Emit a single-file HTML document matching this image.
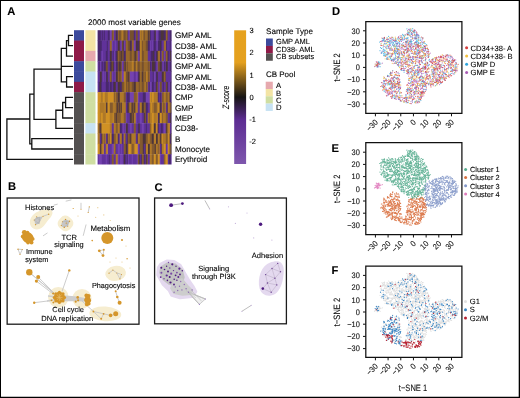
<!DOCTYPE html>
<html><head><meta charset="utf-8"><title>Figure</title>
<style>html,body{margin:0;padding:0;background:#fff;}body{width:520px;height:398px;overflow:hidden;font-family:"Liberation Sans", sans-serif;}svg{display:block;will-change:transform;}</style>
</head><body>
<svg width="520" height="398" viewBox="0 0 520 398" font-family='"Liberation Sans", sans-serif' text-rendering="geometricPrecision"><style>text{stroke:#000;stroke-width:0.1px;}</style><g font-weight="bold" fill="#000" font-size="11.2">
<text x="7.3" y="15">A</text>
<text x="7.9" y="189.6">B</text>
<text x="154.6" y="190.8">C</text>
<text x="331.9" y="15.2">D</text>
<text x="331.6" y="152.4">E</text>
<text x="331.6" y="273.8">F</text>
</g>
<text x="88.1" y="25.4" font-size="8.1" text-anchor="start" fill="#000" >2000 most variable genes</text>
<path d="M68.5 35.365L72.4 35.365M68.5 45.695L72.4 45.695M68.5 35.365L68.5 45.695M66.5 40.53L68.5 40.53M66.5 56.025L72.4 56.025M66.5 40.53L66.5 56.025M61.3 48.2775L66.5 48.2775M66.6 76.685L72.4 76.685M66.6 87.015L72.4 87.015M66.6 76.685L66.6 87.015M61.3 81.85L66.6 81.85M61.3 66.355L72.4 66.355M61.3 48.2775L61.3 81.85M34 69.1L61.3 69.1M65.6 97.345L72.4 97.345M65.6 107.675L72.4 107.675M65.6 97.345L65.6 107.675M62.7 102.50999999999999L65.6 102.50999999999999M62.7 118.00500000000001L72.4 118.00500000000001M62.7 102.50999999999999L62.7 118.00500000000001M55.9 110.2575L62.7 110.2575M55.9 128.335L72.4 128.335M55.9 110.2575L55.9 128.335M34 119.29625L55.9 119.29625M34 69.1L34 119.29625M29.8 94.198125L34 94.198125M31.8 138.665L72.4 138.665M31.8 148.995L72.4 148.995M31.8 138.665L31.8 148.995M29.8 143.82999999999998L31.8 143.82999999999998M29.8 94.198125L29.8 143.82999999999998M6.9 119.0140625L29.8 119.0140625M6.9 159.325L72.4 159.325M6.9 119.0140625L6.9 159.325" stroke="#111" stroke-width="1.3" fill="none" stroke-linecap="square"/>
<rect x="74" y="30.20" width="10" height="10.73" fill="#3c4a9c"/>
<rect x="85.4" y="30.20" width="10.1" height="10.73" fill="#f3e4a5"/>
<rect x="74" y="40.53" width="10" height="10.73" fill="#8e1a47"/>
<rect x="85.4" y="40.53" width="10.1" height="10.73" fill="#f3e4a5"/>
<rect x="74" y="50.86" width="10" height="10.73" fill="#8e1a47"/>
<rect x="85.4" y="50.86" width="10.1" height="10.73" fill="#e6a9ae"/>
<rect x="74" y="61.19" width="10" height="10.73" fill="#3c4a9c"/>
<rect x="85.4" y="61.19" width="10.1" height="10.73" fill="#cfdea2"/>
<rect x="74" y="71.52" width="10" height="10.73" fill="#3c4a9c"/>
<rect x="85.4" y="71.52" width="10.1" height="10.73" fill="#c7e2f3"/>
<rect x="74" y="81.85" width="10" height="10.73" fill="#8e1a47"/>
<rect x="85.4" y="81.85" width="10.1" height="10.73" fill="#c7e2f3"/>
<rect x="74" y="92.18" width="10" height="10.73" fill="#545151"/>
<rect x="85.4" y="92.18" width="10.1" height="10.73" fill="#cfdea2"/>
<rect x="74" y="102.51" width="10" height="10.73" fill="#545151"/>
<rect x="85.4" y="102.51" width="10.1" height="10.73" fill="#cfdea2"/>
<rect x="74" y="112.84" width="10" height="10.73" fill="#545151"/>
<rect x="85.4" y="112.84" width="10.1" height="10.73" fill="#cfdea2"/>
<rect x="74" y="123.17" width="10" height="10.73" fill="#545151"/>
<rect x="85.4" y="123.17" width="10.1" height="10.73" fill="#c7e2f3"/>
<rect x="74" y="133.50" width="10" height="10.73" fill="#545151"/>
<rect x="85.4" y="133.50" width="10.1" height="10.73" fill="#cfdea2"/>
<rect x="74" y="143.83" width="10" height="10.73" fill="#545151"/>
<rect x="85.4" y="143.83" width="10.1" height="10.73" fill="#cfdea2"/>
<rect x="74" y="154.16" width="10" height="10.33" fill="#545151"/>
<rect x="85.4" y="154.16" width="10.1" height="10.33" fill="#cfdea2"/>
<defs><linearGradient id="hr0" x1="0" x2="1" y1="0" y2="0"><stop offset="0.0024" stop-color="#48286c"/><stop offset="0.0111" stop-color="#48286c"/><stop offset="0.0159" stop-color="#48286c"/><stop offset="0.0246" stop-color="#48286c"/><stop offset="0.0295" stop-color="#48286c"/><stop offset="0.0381" stop-color="#48286c"/><stop offset="0.0430" stop-color="#60329a"/><stop offset="0.0516" stop-color="#60329a"/><stop offset="0.0565" stop-color="#48286c"/><stop offset="0.0651" stop-color="#48286c"/><stop offset="0.0700" stop-color="#60329a"/><stop offset="0.0786" stop-color="#60329a"/><stop offset="0.0835" stop-color="#48286c"/><stop offset="0.0922" stop-color="#48286c"/><stop offset="0.0970" stop-color="#60329a"/><stop offset="0.1057" stop-color="#60329a"/><stop offset="0.1105" stop-color="#60329a"/><stop offset="0.1192" stop-color="#60329a"/><stop offset="0.1241" stop-color="#60329a"/><stop offset="0.1327" stop-color="#60329a"/><stop offset="0.1376" stop-color="#48286c"/><stop offset="0.1462" stop-color="#48286c"/><stop offset="0.1511" stop-color="#48286c"/><stop offset="0.1597" stop-color="#48286c"/><stop offset="0.1646" stop-color="#7442b0"/><stop offset="0.1732" stop-color="#7442b0"/><stop offset="0.1781" stop-color="#7442b0"/><stop offset="0.1868" stop-color="#7442b0"/><stop offset="0.1916" stop-color="#76502e"/><stop offset="0.2003" stop-color="#76502e"/><stop offset="0.2051" stop-color="#98682a"/><stop offset="0.2138" stop-color="#98682a"/><stop offset="0.2186" stop-color="#60329a"/><stop offset="0.2273" stop-color="#60329a"/><stop offset="0.2322" stop-color="#60329a"/><stop offset="0.2408" stop-color="#60329a"/><stop offset="0.2457" stop-color="#4c343a"/><stop offset="0.2543" stop-color="#4c343a"/><stop offset="0.2592" stop-color="#48286c"/><stop offset="0.2678" stop-color="#48286c"/><stop offset="0.2727" stop-color="#98682a"/><stop offset="0.2814" stop-color="#98682a"/><stop offset="0.2862" stop-color="#76502e"/><stop offset="0.2949" stop-color="#76502e"/><stop offset="0.2997" stop-color="#76502e"/><stop offset="0.3084" stop-color="#76502e"/><stop offset="0.3132" stop-color="#98682a"/><stop offset="0.3219" stop-color="#98682a"/><stop offset="0.3268" stop-color="#b87f26"/><stop offset="0.3354" stop-color="#b87f26"/><stop offset="0.3403" stop-color="#98682a"/><stop offset="0.3489" stop-color="#98682a"/><stop offset="0.3538" stop-color="#76502e"/><stop offset="0.3624" stop-color="#76502e"/><stop offset="0.3673" stop-color="#76502e"/><stop offset="0.3759" stop-color="#76502e"/><stop offset="0.3808" stop-color="#98682a"/><stop offset="0.3895" stop-color="#98682a"/><stop offset="0.3943" stop-color="#76502e"/><stop offset="0.4030" stop-color="#76502e"/><stop offset="0.4078" stop-color="#60329a"/><stop offset="0.4165" stop-color="#60329a"/><stop offset="0.4214" stop-color="#7442b0"/><stop offset="0.4300" stop-color="#7442b0"/><stop offset="0.4349" stop-color="#76502e"/><stop offset="0.4435" stop-color="#76502e"/><stop offset="0.4484" stop-color="#76502e"/><stop offset="0.4570" stop-color="#76502e"/><stop offset="0.4619" stop-color="#76502e"/><stop offset="0.4705" stop-color="#76502e"/><stop offset="0.4754" stop-color="#76502e"/><stop offset="0.4841" stop-color="#76502e"/><stop offset="0.4889" stop-color="#48286c"/><stop offset="0.4976" stop-color="#48286c"/><stop offset="0.5024" stop-color="#60329a"/><stop offset="0.5111" stop-color="#60329a"/><stop offset="0.5159" stop-color="#76502e"/><stop offset="0.5246" stop-color="#76502e"/><stop offset="0.5295" stop-color="#76502e"/><stop offset="0.5381" stop-color="#76502e"/><stop offset="0.5430" stop-color="#60329a"/><stop offset="0.5516" stop-color="#60329a"/><stop offset="0.5565" stop-color="#60329a"/><stop offset="0.5651" stop-color="#60329a"/><stop offset="0.5700" stop-color="#b87f26"/><stop offset="0.5786" stop-color="#b87f26"/><stop offset="0.5835" stop-color="#98682a"/><stop offset="0.5922" stop-color="#98682a"/><stop offset="0.5970" stop-color="#b87f26"/><stop offset="0.6057" stop-color="#b87f26"/><stop offset="0.6105" stop-color="#98682a"/><stop offset="0.6192" stop-color="#98682a"/><stop offset="0.6241" stop-color="#76502e"/><stop offset="0.6327" stop-color="#76502e"/><stop offset="0.6376" stop-color="#98682a"/><stop offset="0.6462" stop-color="#98682a"/><stop offset="0.6511" stop-color="#98682a"/><stop offset="0.6597" stop-color="#98682a"/><stop offset="0.6646" stop-color="#98682a"/><stop offset="0.6732" stop-color="#98682a"/><stop offset="0.6781" stop-color="#4c343a"/><stop offset="0.6868" stop-color="#4c343a"/><stop offset="0.6916" stop-color="#76502e"/><stop offset="0.7003" stop-color="#76502e"/><stop offset="0.7051" stop-color="#48286c"/><stop offset="0.7138" stop-color="#48286c"/><stop offset="0.7186" stop-color="#60329a"/><stop offset="0.7273" stop-color="#60329a"/><stop offset="0.7322" stop-color="#60329a"/><stop offset="0.7408" stop-color="#60329a"/><stop offset="0.7457" stop-color="#60329a"/><stop offset="0.7543" stop-color="#60329a"/><stop offset="0.7592" stop-color="#48286c"/><stop offset="0.7678" stop-color="#48286c"/><stop offset="0.7727" stop-color="#4c343a"/><stop offset="0.7814" stop-color="#4c343a"/><stop offset="0.7862" stop-color="#7442b0"/><stop offset="0.7949" stop-color="#7442b0"/><stop offset="0.7997" stop-color="#7442b0"/><stop offset="0.8084" stop-color="#7442b0"/><stop offset="0.8132" stop-color="#60329a"/><stop offset="0.8219" stop-color="#60329a"/><stop offset="0.8268" stop-color="#48286c"/><stop offset="0.8354" stop-color="#48286c"/><stop offset="0.8403" stop-color="#48286c"/><stop offset="0.8489" stop-color="#48286c"/><stop offset="0.8538" stop-color="#4c343a"/><stop offset="0.8624" stop-color="#4c343a"/><stop offset="0.8673" stop-color="#4c343a"/><stop offset="0.8759" stop-color="#4c343a"/><stop offset="0.8808" stop-color="#4c343a"/><stop offset="0.8895" stop-color="#4c343a"/><stop offset="0.8943" stop-color="#48286c"/><stop offset="0.9030" stop-color="#48286c"/><stop offset="0.9078" stop-color="#48286c"/><stop offset="0.9165" stop-color="#48286c"/><stop offset="0.9214" stop-color="#98682a"/><stop offset="0.9300" stop-color="#98682a"/><stop offset="0.9349" stop-color="#76502e"/><stop offset="0.9435" stop-color="#76502e"/><stop offset="0.9484" stop-color="#60329a"/><stop offset="0.9570" stop-color="#60329a"/><stop offset="0.9619" stop-color="#60329a"/><stop offset="0.9705" stop-color="#60329a"/><stop offset="0.9754" stop-color="#48286c"/><stop offset="0.9841" stop-color="#48286c"/><stop offset="0.9889" stop-color="#48286c"/><stop offset="0.9976" stop-color="#48286c"/></linearGradient><linearGradient id="hr1" x1="0" x2="1" y1="0" y2="0"><stop offset="0.0024" stop-color="#48286c"/><stop offset="0.0111" stop-color="#48286c"/><stop offset="0.0159" stop-color="#48286c"/><stop offset="0.0246" stop-color="#48286c"/><stop offset="0.0295" stop-color="#48286c"/><stop offset="0.0381" stop-color="#48286c"/><stop offset="0.0430" stop-color="#48286c"/><stop offset="0.0516" stop-color="#48286c"/><stop offset="0.0565" stop-color="#60329a"/><stop offset="0.0651" stop-color="#60329a"/><stop offset="0.0700" stop-color="#60329a"/><stop offset="0.0786" stop-color="#60329a"/><stop offset="0.0835" stop-color="#60329a"/><stop offset="0.0922" stop-color="#60329a"/><stop offset="0.0970" stop-color="#60329a"/><stop offset="0.1057" stop-color="#60329a"/><stop offset="0.1105" stop-color="#60329a"/><stop offset="0.1192" stop-color="#60329a"/><stop offset="0.1241" stop-color="#48286c"/><stop offset="0.1327" stop-color="#48286c"/><stop offset="0.1376" stop-color="#60329a"/><stop offset="0.1462" stop-color="#60329a"/><stop offset="0.1511" stop-color="#60329a"/><stop offset="0.1597" stop-color="#60329a"/><stop offset="0.1646" stop-color="#98682a"/><stop offset="0.1732" stop-color="#98682a"/><stop offset="0.1781" stop-color="#98682a"/><stop offset="0.1868" stop-color="#98682a"/><stop offset="0.1916" stop-color="#7442b0"/><stop offset="0.2003" stop-color="#7442b0"/><stop offset="0.2051" stop-color="#60329a"/><stop offset="0.2138" stop-color="#60329a"/><stop offset="0.2186" stop-color="#60329a"/><stop offset="0.2273" stop-color="#60329a"/><stop offset="0.2322" stop-color="#7442b0"/><stop offset="0.2408" stop-color="#7442b0"/><stop offset="0.2457" stop-color="#60329a"/><stop offset="0.2543" stop-color="#60329a"/><stop offset="0.2592" stop-color="#60329a"/><stop offset="0.2678" stop-color="#60329a"/><stop offset="0.2727" stop-color="#4c343a"/><stop offset="0.2814" stop-color="#4c343a"/><stop offset="0.2862" stop-color="#4c343a"/><stop offset="0.2949" stop-color="#4c343a"/><stop offset="0.2997" stop-color="#60329a"/><stop offset="0.3084" stop-color="#60329a"/><stop offset="0.3132" stop-color="#7442b0"/><stop offset="0.3219" stop-color="#7442b0"/><stop offset="0.3268" stop-color="#76502e"/><stop offset="0.3354" stop-color="#76502e"/><stop offset="0.3403" stop-color="#4c343a"/><stop offset="0.3489" stop-color="#4c343a"/><stop offset="0.3538" stop-color="#7442b0"/><stop offset="0.3624" stop-color="#7442b0"/><stop offset="0.3673" stop-color="#60329a"/><stop offset="0.3759" stop-color="#60329a"/><stop offset="0.3808" stop-color="#98682a"/><stop offset="0.3895" stop-color="#98682a"/><stop offset="0.3943" stop-color="#98682a"/><stop offset="0.4030" stop-color="#98682a"/><stop offset="0.4078" stop-color="#76502e"/><stop offset="0.4165" stop-color="#76502e"/><stop offset="0.4214" stop-color="#76502e"/><stop offset="0.4300" stop-color="#76502e"/><stop offset="0.4349" stop-color="#4c343a"/><stop offset="0.4435" stop-color="#4c343a"/><stop offset="0.4484" stop-color="#48286c"/><stop offset="0.4570" stop-color="#48286c"/><stop offset="0.4619" stop-color="#98682a"/><stop offset="0.4705" stop-color="#98682a"/><stop offset="0.4754" stop-color="#98682a"/><stop offset="0.4841" stop-color="#98682a"/><stop offset="0.4889" stop-color="#7442b0"/><stop offset="0.4976" stop-color="#7442b0"/><stop offset="0.5024" stop-color="#7442b0"/><stop offset="0.5111" stop-color="#7442b0"/><stop offset="0.5159" stop-color="#4c343a"/><stop offset="0.5246" stop-color="#4c343a"/><stop offset="0.5295" stop-color="#4c343a"/><stop offset="0.5381" stop-color="#4c343a"/><stop offset="0.5430" stop-color="#48286c"/><stop offset="0.5516" stop-color="#48286c"/><stop offset="0.5565" stop-color="#4c343a"/><stop offset="0.5651" stop-color="#4c343a"/><stop offset="0.5700" stop-color="#b87f26"/><stop offset="0.5786" stop-color="#b87f26"/><stop offset="0.5835" stop-color="#b87f26"/><stop offset="0.5922" stop-color="#b87f26"/><stop offset="0.5970" stop-color="#76502e"/><stop offset="0.6057" stop-color="#76502e"/><stop offset="0.6105" stop-color="#98682a"/><stop offset="0.6192" stop-color="#98682a"/><stop offset="0.6241" stop-color="#98682a"/><stop offset="0.6327" stop-color="#98682a"/><stop offset="0.6376" stop-color="#98682a"/><stop offset="0.6462" stop-color="#98682a"/><stop offset="0.6511" stop-color="#76502e"/><stop offset="0.6597" stop-color="#76502e"/><stop offset="0.6646" stop-color="#76502e"/><stop offset="0.6732" stop-color="#76502e"/><stop offset="0.6781" stop-color="#48286c"/><stop offset="0.6868" stop-color="#48286c"/><stop offset="0.6916" stop-color="#48286c"/><stop offset="0.7003" stop-color="#48286c"/><stop offset="0.7051" stop-color="#7442b0"/><stop offset="0.7138" stop-color="#7442b0"/><stop offset="0.7186" stop-color="#60329a"/><stop offset="0.7273" stop-color="#60329a"/><stop offset="0.7322" stop-color="#7442b0"/><stop offset="0.7408" stop-color="#7442b0"/><stop offset="0.7457" stop-color="#60329a"/><stop offset="0.7543" stop-color="#60329a"/><stop offset="0.7592" stop-color="#48286c"/><stop offset="0.7678" stop-color="#48286c"/><stop offset="0.7727" stop-color="#48286c"/><stop offset="0.7814" stop-color="#48286c"/><stop offset="0.7862" stop-color="#60329a"/><stop offset="0.7949" stop-color="#60329a"/><stop offset="0.7997" stop-color="#7442b0"/><stop offset="0.8084" stop-color="#7442b0"/><stop offset="0.8132" stop-color="#48286c"/><stop offset="0.8219" stop-color="#48286c"/><stop offset="0.8268" stop-color="#48286c"/><stop offset="0.8354" stop-color="#48286c"/><stop offset="0.8403" stop-color="#4c343a"/><stop offset="0.8489" stop-color="#4c343a"/><stop offset="0.8538" stop-color="#48286c"/><stop offset="0.8624" stop-color="#48286c"/><stop offset="0.8673" stop-color="#60329a"/><stop offset="0.8759" stop-color="#60329a"/><stop offset="0.8808" stop-color="#60329a"/><stop offset="0.8895" stop-color="#60329a"/><stop offset="0.8943" stop-color="#98682a"/><stop offset="0.9030" stop-color="#98682a"/><stop offset="0.9078" stop-color="#b87f26"/><stop offset="0.9165" stop-color="#b87f26"/><stop offset="0.9214" stop-color="#48286c"/><stop offset="0.9300" stop-color="#48286c"/><stop offset="0.9349" stop-color="#60329a"/><stop offset="0.9435" stop-color="#60329a"/><stop offset="0.9484" stop-color="#60329a"/><stop offset="0.9570" stop-color="#60329a"/><stop offset="0.9619" stop-color="#60329a"/><stop offset="0.9705" stop-color="#60329a"/><stop offset="0.9754" stop-color="#48286c"/><stop offset="0.9841" stop-color="#48286c"/><stop offset="0.9889" stop-color="#60329a"/><stop offset="0.9976" stop-color="#60329a"/></linearGradient><linearGradient id="hr2" x1="0" x2="1" y1="0" y2="0"><stop offset="0.0024" stop-color="#48286c"/><stop offset="0.0111" stop-color="#48286c"/><stop offset="0.0159" stop-color="#48286c"/><stop offset="0.0246" stop-color="#48286c"/><stop offset="0.0295" stop-color="#48286c"/><stop offset="0.0381" stop-color="#48286c"/><stop offset="0.0430" stop-color="#60329a"/><stop offset="0.0516" stop-color="#60329a"/><stop offset="0.0565" stop-color="#7442b0"/><stop offset="0.0651" stop-color="#7442b0"/><stop offset="0.0700" stop-color="#60329a"/><stop offset="0.0786" stop-color="#60329a"/><stop offset="0.0835" stop-color="#60329a"/><stop offset="0.0922" stop-color="#60329a"/><stop offset="0.0970" stop-color="#60329a"/><stop offset="0.1057" stop-color="#60329a"/><stop offset="0.1105" stop-color="#48286c"/><stop offset="0.1192" stop-color="#48286c"/><stop offset="0.1241" stop-color="#48286c"/><stop offset="0.1327" stop-color="#48286c"/><stop offset="0.1376" stop-color="#60329a"/><stop offset="0.1462" stop-color="#60329a"/><stop offset="0.1511" stop-color="#60329a"/><stop offset="0.1597" stop-color="#60329a"/><stop offset="0.1646" stop-color="#4c343a"/><stop offset="0.1732" stop-color="#4c343a"/><stop offset="0.1781" stop-color="#4c343a"/><stop offset="0.1868" stop-color="#4c343a"/><stop offset="0.1916" stop-color="#60329a"/><stop offset="0.2003" stop-color="#60329a"/><stop offset="0.2051" stop-color="#48286c"/><stop offset="0.2138" stop-color="#48286c"/><stop offset="0.2186" stop-color="#7442b0"/><stop offset="0.2273" stop-color="#7442b0"/><stop offset="0.2322" stop-color="#60329a"/><stop offset="0.2408" stop-color="#60329a"/><stop offset="0.2457" stop-color="#48286c"/><stop offset="0.2543" stop-color="#48286c"/><stop offset="0.2592" stop-color="#4c343a"/><stop offset="0.2678" stop-color="#4c343a"/><stop offset="0.2727" stop-color="#98682a"/><stop offset="0.2814" stop-color="#98682a"/><stop offset="0.2862" stop-color="#76502e"/><stop offset="0.2949" stop-color="#76502e"/><stop offset="0.2997" stop-color="#76502e"/><stop offset="0.3084" stop-color="#76502e"/><stop offset="0.3132" stop-color="#4c343a"/><stop offset="0.3219" stop-color="#4c343a"/><stop offset="0.3268" stop-color="#76502e"/><stop offset="0.3354" stop-color="#76502e"/><stop offset="0.3403" stop-color="#76502e"/><stop offset="0.3489" stop-color="#76502e"/><stop offset="0.3538" stop-color="#48286c"/><stop offset="0.3624" stop-color="#48286c"/><stop offset="0.3673" stop-color="#48286c"/><stop offset="0.3759" stop-color="#48286c"/><stop offset="0.3808" stop-color="#98682a"/><stop offset="0.3895" stop-color="#98682a"/><stop offset="0.3943" stop-color="#98682a"/><stop offset="0.4030" stop-color="#98682a"/><stop offset="0.4078" stop-color="#98682a"/><stop offset="0.4165" stop-color="#98682a"/><stop offset="0.4214" stop-color="#98682a"/><stop offset="0.4300" stop-color="#98682a"/><stop offset="0.4349" stop-color="#76502e"/><stop offset="0.4435" stop-color="#76502e"/><stop offset="0.4484" stop-color="#76502e"/><stop offset="0.4570" stop-color="#76502e"/><stop offset="0.4619" stop-color="#98682a"/><stop offset="0.4705" stop-color="#98682a"/><stop offset="0.4754" stop-color="#98682a"/><stop offset="0.4841" stop-color="#98682a"/><stop offset="0.4889" stop-color="#76502e"/><stop offset="0.4976" stop-color="#76502e"/><stop offset="0.5024" stop-color="#4c343a"/><stop offset="0.5111" stop-color="#4c343a"/><stop offset="0.5159" stop-color="#76502e"/><stop offset="0.5246" stop-color="#76502e"/><stop offset="0.5295" stop-color="#98682a"/><stop offset="0.5381" stop-color="#98682a"/><stop offset="0.5430" stop-color="#7442b0"/><stop offset="0.5516" stop-color="#7442b0"/><stop offset="0.5565" stop-color="#60329a"/><stop offset="0.5651" stop-color="#60329a"/><stop offset="0.5700" stop-color="#b87f26"/><stop offset="0.5786" stop-color="#b87f26"/><stop offset="0.5835" stop-color="#b87f26"/><stop offset="0.5922" stop-color="#b87f26"/><stop offset="0.5970" stop-color="#76502e"/><stop offset="0.6057" stop-color="#76502e"/><stop offset="0.6105" stop-color="#76502e"/><stop offset="0.6192" stop-color="#76502e"/><stop offset="0.6241" stop-color="#98682a"/><stop offset="0.6327" stop-color="#98682a"/><stop offset="0.6376" stop-color="#98682a"/><stop offset="0.6462" stop-color="#98682a"/><stop offset="0.6511" stop-color="#98682a"/><stop offset="0.6597" stop-color="#98682a"/><stop offset="0.6646" stop-color="#98682a"/><stop offset="0.6732" stop-color="#98682a"/><stop offset="0.6781" stop-color="#60329a"/><stop offset="0.6868" stop-color="#60329a"/><stop offset="0.6916" stop-color="#60329a"/><stop offset="0.7003" stop-color="#60329a"/><stop offset="0.7051" stop-color="#60329a"/><stop offset="0.7138" stop-color="#60329a"/><stop offset="0.7186" stop-color="#48286c"/><stop offset="0.7273" stop-color="#48286c"/><stop offset="0.7322" stop-color="#48286c"/><stop offset="0.7408" stop-color="#48286c"/><stop offset="0.7457" stop-color="#4c343a"/><stop offset="0.7543" stop-color="#4c343a"/><stop offset="0.7592" stop-color="#48286c"/><stop offset="0.7678" stop-color="#48286c"/><stop offset="0.7727" stop-color="#60329a"/><stop offset="0.7814" stop-color="#60329a"/><stop offset="0.7862" stop-color="#48286c"/><stop offset="0.7949" stop-color="#48286c"/><stop offset="0.7997" stop-color="#4c343a"/><stop offset="0.8084" stop-color="#4c343a"/><stop offset="0.8132" stop-color="#98682a"/><stop offset="0.8219" stop-color="#98682a"/><stop offset="0.8268" stop-color="#b87f26"/><stop offset="0.8354" stop-color="#b87f26"/><stop offset="0.8403" stop-color="#48286c"/><stop offset="0.8489" stop-color="#48286c"/><stop offset="0.8538" stop-color="#60329a"/><stop offset="0.8624" stop-color="#60329a"/><stop offset="0.8673" stop-color="#98682a"/><stop offset="0.8759" stop-color="#98682a"/><stop offset="0.8808" stop-color="#76502e"/><stop offset="0.8895" stop-color="#76502e"/><stop offset="0.8943" stop-color="#7442b0"/><stop offset="0.9030" stop-color="#7442b0"/><stop offset="0.9078" stop-color="#60329a"/><stop offset="0.9165" stop-color="#60329a"/><stop offset="0.9214" stop-color="#98682a"/><stop offset="0.9300" stop-color="#98682a"/><stop offset="0.9349" stop-color="#76502e"/><stop offset="0.9435" stop-color="#76502e"/><stop offset="0.9484" stop-color="#48286c"/><stop offset="0.9570" stop-color="#48286c"/><stop offset="0.9619" stop-color="#60329a"/><stop offset="0.9705" stop-color="#60329a"/><stop offset="0.9754" stop-color="#4c343a"/><stop offset="0.9841" stop-color="#4c343a"/><stop offset="0.9889" stop-color="#48286c"/><stop offset="0.9976" stop-color="#48286c"/></linearGradient><linearGradient id="hr3" x1="0" x2="1" y1="0" y2="0"><stop offset="0.0024" stop-color="#60329a"/><stop offset="0.0111" stop-color="#60329a"/><stop offset="0.0159" stop-color="#48286c"/><stop offset="0.0246" stop-color="#48286c"/><stop offset="0.0295" stop-color="#7442b0"/><stop offset="0.0381" stop-color="#7442b0"/><stop offset="0.0430" stop-color="#60329a"/><stop offset="0.0516" stop-color="#60329a"/><stop offset="0.0565" stop-color="#48286c"/><stop offset="0.0651" stop-color="#48286c"/><stop offset="0.0700" stop-color="#60329a"/><stop offset="0.0786" stop-color="#60329a"/><stop offset="0.0835" stop-color="#48286c"/><stop offset="0.0922" stop-color="#48286c"/><stop offset="0.0970" stop-color="#48286c"/><stop offset="0.1057" stop-color="#48286c"/><stop offset="0.1105" stop-color="#76502e"/><stop offset="0.1192" stop-color="#76502e"/><stop offset="0.1241" stop-color="#76502e"/><stop offset="0.1327" stop-color="#76502e"/><stop offset="0.1376" stop-color="#60329a"/><stop offset="0.1462" stop-color="#60329a"/><stop offset="0.1511" stop-color="#60329a"/><stop offset="0.1597" stop-color="#60329a"/><stop offset="0.1646" stop-color="#48286c"/><stop offset="0.1732" stop-color="#48286c"/><stop offset="0.1781" stop-color="#4c343a"/><stop offset="0.1868" stop-color="#4c343a"/><stop offset="0.1916" stop-color="#76502e"/><stop offset="0.2003" stop-color="#76502e"/><stop offset="0.2051" stop-color="#4c343a"/><stop offset="0.2138" stop-color="#4c343a"/><stop offset="0.2186" stop-color="#60329a"/><stop offset="0.2273" stop-color="#60329a"/><stop offset="0.2322" stop-color="#7442b0"/><stop offset="0.2408" stop-color="#7442b0"/><stop offset="0.2457" stop-color="#48286c"/><stop offset="0.2543" stop-color="#48286c"/><stop offset="0.2592" stop-color="#48286c"/><stop offset="0.2678" stop-color="#48286c"/><stop offset="0.2727" stop-color="#76502e"/><stop offset="0.2814" stop-color="#76502e"/><stop offset="0.2862" stop-color="#4c343a"/><stop offset="0.2949" stop-color="#4c343a"/><stop offset="0.2997" stop-color="#4c343a"/><stop offset="0.3084" stop-color="#4c343a"/><stop offset="0.3132" stop-color="#76502e"/><stop offset="0.3219" stop-color="#76502e"/><stop offset="0.3268" stop-color="#7442b0"/><stop offset="0.3354" stop-color="#7442b0"/><stop offset="0.3403" stop-color="#60329a"/><stop offset="0.3489" stop-color="#60329a"/><stop offset="0.3538" stop-color="#76502e"/><stop offset="0.3624" stop-color="#76502e"/><stop offset="0.3673" stop-color="#4c343a"/><stop offset="0.3759" stop-color="#4c343a"/><stop offset="0.3808" stop-color="#98682a"/><stop offset="0.3895" stop-color="#98682a"/><stop offset="0.3943" stop-color="#76502e"/><stop offset="0.4030" stop-color="#76502e"/><stop offset="0.4078" stop-color="#98682a"/><stop offset="0.4165" stop-color="#98682a"/><stop offset="0.4214" stop-color="#98682a"/><stop offset="0.4300" stop-color="#98682a"/><stop offset="0.4349" stop-color="#98682a"/><stop offset="0.4435" stop-color="#98682a"/><stop offset="0.4484" stop-color="#98682a"/><stop offset="0.4570" stop-color="#98682a"/><stop offset="0.4619" stop-color="#b87f26"/><stop offset="0.4705" stop-color="#b87f26"/><stop offset="0.4754" stop-color="#b87f26"/><stop offset="0.4841" stop-color="#b87f26"/><stop offset="0.4889" stop-color="#76502e"/><stop offset="0.4976" stop-color="#76502e"/><stop offset="0.5024" stop-color="#76502e"/><stop offset="0.5111" stop-color="#76502e"/><stop offset="0.5159" stop-color="#b87f26"/><stop offset="0.5246" stop-color="#b87f26"/><stop offset="0.5295" stop-color="#98682a"/><stop offset="0.5381" stop-color="#98682a"/><stop offset="0.5430" stop-color="#76502e"/><stop offset="0.5516" stop-color="#76502e"/><stop offset="0.5565" stop-color="#76502e"/><stop offset="0.5651" stop-color="#76502e"/><stop offset="0.5700" stop-color="#98682a"/><stop offset="0.5786" stop-color="#98682a"/><stop offset="0.5835" stop-color="#98682a"/><stop offset="0.5922" stop-color="#98682a"/><stop offset="0.5970" stop-color="#76502e"/><stop offset="0.6057" stop-color="#76502e"/><stop offset="0.6105" stop-color="#76502e"/><stop offset="0.6192" stop-color="#76502e"/><stop offset="0.6241" stop-color="#98682a"/><stop offset="0.6327" stop-color="#98682a"/><stop offset="0.6376" stop-color="#98682a"/><stop offset="0.6462" stop-color="#98682a"/><stop offset="0.6511" stop-color="#98682a"/><stop offset="0.6597" stop-color="#98682a"/><stop offset="0.6646" stop-color="#98682a"/><stop offset="0.6732" stop-color="#98682a"/><stop offset="0.6781" stop-color="#76502e"/><stop offset="0.6868" stop-color="#76502e"/><stop offset="0.6916" stop-color="#98682a"/><stop offset="0.7003" stop-color="#98682a"/><stop offset="0.7051" stop-color="#48286c"/><stop offset="0.7138" stop-color="#48286c"/><stop offset="0.7186" stop-color="#60329a"/><stop offset="0.7273" stop-color="#60329a"/><stop offset="0.7322" stop-color="#4c343a"/><stop offset="0.7408" stop-color="#4c343a"/><stop offset="0.7457" stop-color="#4c343a"/><stop offset="0.7543" stop-color="#4c343a"/><stop offset="0.7592" stop-color="#4c343a"/><stop offset="0.7678" stop-color="#4c343a"/><stop offset="0.7727" stop-color="#48286c"/><stop offset="0.7814" stop-color="#48286c"/><stop offset="0.7862" stop-color="#60329a"/><stop offset="0.7949" stop-color="#60329a"/><stop offset="0.7997" stop-color="#7442b0"/><stop offset="0.8084" stop-color="#7442b0"/><stop offset="0.8132" stop-color="#76502e"/><stop offset="0.8219" stop-color="#76502e"/><stop offset="0.8268" stop-color="#76502e"/><stop offset="0.8354" stop-color="#76502e"/><stop offset="0.8403" stop-color="#4c343a"/><stop offset="0.8489" stop-color="#4c343a"/><stop offset="0.8538" stop-color="#4c343a"/><stop offset="0.8624" stop-color="#4c343a"/><stop offset="0.8673" stop-color="#60329a"/><stop offset="0.8759" stop-color="#60329a"/><stop offset="0.8808" stop-color="#7442b0"/><stop offset="0.8895" stop-color="#7442b0"/><stop offset="0.8943" stop-color="#48286c"/><stop offset="0.9030" stop-color="#48286c"/><stop offset="0.9078" stop-color="#60329a"/><stop offset="0.9165" stop-color="#60329a"/><stop offset="0.9214" stop-color="#4c343a"/><stop offset="0.9300" stop-color="#4c343a"/><stop offset="0.9349" stop-color="#4c343a"/><stop offset="0.9435" stop-color="#4c343a"/><stop offset="0.9484" stop-color="#60329a"/><stop offset="0.9570" stop-color="#60329a"/><stop offset="0.9619" stop-color="#60329a"/><stop offset="0.9705" stop-color="#60329a"/><stop offset="0.9754" stop-color="#48286c"/><stop offset="0.9841" stop-color="#48286c"/><stop offset="0.9889" stop-color="#48286c"/><stop offset="0.9976" stop-color="#48286c"/></linearGradient><linearGradient id="hr4" x1="0" x2="1" y1="0" y2="0"><stop offset="0.0024" stop-color="#60329a"/><stop offset="0.0111" stop-color="#60329a"/><stop offset="0.0159" stop-color="#60329a"/><stop offset="0.0246" stop-color="#60329a"/><stop offset="0.0295" stop-color="#4c343a"/><stop offset="0.0381" stop-color="#4c343a"/><stop offset="0.0430" stop-color="#4c343a"/><stop offset="0.0516" stop-color="#4c343a"/><stop offset="0.0565" stop-color="#60329a"/><stop offset="0.0651" stop-color="#60329a"/><stop offset="0.0700" stop-color="#7442b0"/><stop offset="0.0786" stop-color="#7442b0"/><stop offset="0.0835" stop-color="#60329a"/><stop offset="0.0922" stop-color="#60329a"/><stop offset="0.0970" stop-color="#7442b0"/><stop offset="0.1057" stop-color="#7442b0"/><stop offset="0.1105" stop-color="#48286c"/><stop offset="0.1192" stop-color="#48286c"/><stop offset="0.1241" stop-color="#4c343a"/><stop offset="0.1327" stop-color="#4c343a"/><stop offset="0.1376" stop-color="#60329a"/><stop offset="0.1462" stop-color="#60329a"/><stop offset="0.1511" stop-color="#60329a"/><stop offset="0.1597" stop-color="#60329a"/><stop offset="0.1646" stop-color="#98682a"/><stop offset="0.1732" stop-color="#98682a"/><stop offset="0.1781" stop-color="#76502e"/><stop offset="0.1868" stop-color="#76502e"/><stop offset="0.1916" stop-color="#7442b0"/><stop offset="0.2003" stop-color="#7442b0"/><stop offset="0.2051" stop-color="#60329a"/><stop offset="0.2138" stop-color="#60329a"/><stop offset="0.2186" stop-color="#60329a"/><stop offset="0.2273" stop-color="#60329a"/><stop offset="0.2322" stop-color="#7442b0"/><stop offset="0.2408" stop-color="#7442b0"/><stop offset="0.2457" stop-color="#4c343a"/><stop offset="0.2543" stop-color="#4c343a"/><stop offset="0.2592" stop-color="#4c343a"/><stop offset="0.2678" stop-color="#4c343a"/><stop offset="0.2727" stop-color="#98682a"/><stop offset="0.2814" stop-color="#98682a"/><stop offset="0.2862" stop-color="#76502e"/><stop offset="0.2949" stop-color="#76502e"/><stop offset="0.2997" stop-color="#76502e"/><stop offset="0.3084" stop-color="#76502e"/><stop offset="0.3132" stop-color="#98682a"/><stop offset="0.3219" stop-color="#98682a"/><stop offset="0.3268" stop-color="#7442b0"/><stop offset="0.3354" stop-color="#7442b0"/><stop offset="0.3403" stop-color="#7442b0"/><stop offset="0.3489" stop-color="#7442b0"/><stop offset="0.3538" stop-color="#b87f26"/><stop offset="0.3624" stop-color="#b87f26"/><stop offset="0.3673" stop-color="#b87f26"/><stop offset="0.3759" stop-color="#b87f26"/><stop offset="0.3808" stop-color="#76502e"/><stop offset="0.3895" stop-color="#76502e"/><stop offset="0.3943" stop-color="#76502e"/><stop offset="0.4030" stop-color="#76502e"/><stop offset="0.4078" stop-color="#4c343a"/><stop offset="0.4165" stop-color="#4c343a"/><stop offset="0.4214" stop-color="#76502e"/><stop offset="0.4300" stop-color="#76502e"/><stop offset="0.4349" stop-color="#7442b0"/><stop offset="0.4435" stop-color="#7442b0"/><stop offset="0.4484" stop-color="#7442b0"/><stop offset="0.4570" stop-color="#7442b0"/><stop offset="0.4619" stop-color="#7442b0"/><stop offset="0.4705" stop-color="#7442b0"/><stop offset="0.4754" stop-color="#7442b0"/><stop offset="0.4841" stop-color="#7442b0"/><stop offset="0.4889" stop-color="#60329a"/><stop offset="0.4976" stop-color="#60329a"/><stop offset="0.5024" stop-color="#60329a"/><stop offset="0.5111" stop-color="#60329a"/><stop offset="0.5159" stop-color="#7442b0"/><stop offset="0.5246" stop-color="#7442b0"/><stop offset="0.5295" stop-color="#7442b0"/><stop offset="0.5381" stop-color="#7442b0"/><stop offset="0.5430" stop-color="#48286c"/><stop offset="0.5516" stop-color="#48286c"/><stop offset="0.5565" stop-color="#4c343a"/><stop offset="0.5651" stop-color="#4c343a"/><stop offset="0.5700" stop-color="#98682a"/><stop offset="0.5786" stop-color="#98682a"/><stop offset="0.5835" stop-color="#98682a"/><stop offset="0.5922" stop-color="#98682a"/><stop offset="0.5970" stop-color="#4c343a"/><stop offset="0.6057" stop-color="#4c343a"/><stop offset="0.6105" stop-color="#76502e"/><stop offset="0.6192" stop-color="#76502e"/><stop offset="0.6241" stop-color="#98682a"/><stop offset="0.6327" stop-color="#98682a"/><stop offset="0.6376" stop-color="#76502e"/><stop offset="0.6462" stop-color="#76502e"/><stop offset="0.6511" stop-color="#b87f26"/><stop offset="0.6597" stop-color="#b87f26"/><stop offset="0.6646" stop-color="#b87f26"/><stop offset="0.6732" stop-color="#b87f26"/><stop offset="0.6781" stop-color="#76502e"/><stop offset="0.6868" stop-color="#76502e"/><stop offset="0.6916" stop-color="#98682a"/><stop offset="0.7003" stop-color="#98682a"/><stop offset="0.7051" stop-color="#60329a"/><stop offset="0.7138" stop-color="#60329a"/><stop offset="0.7186" stop-color="#60329a"/><stop offset="0.7273" stop-color="#60329a"/><stop offset="0.7322" stop-color="#60329a"/><stop offset="0.7408" stop-color="#60329a"/><stop offset="0.7457" stop-color="#48286c"/><stop offset="0.7543" stop-color="#48286c"/><stop offset="0.7592" stop-color="#7442b0"/><stop offset="0.7678" stop-color="#7442b0"/><stop offset="0.7727" stop-color="#7442b0"/><stop offset="0.7814" stop-color="#7442b0"/><stop offset="0.7862" stop-color="#48286c"/><stop offset="0.7949" stop-color="#48286c"/><stop offset="0.7997" stop-color="#4c343a"/><stop offset="0.8084" stop-color="#4c343a"/><stop offset="0.8132" stop-color="#60329a"/><stop offset="0.8219" stop-color="#60329a"/><stop offset="0.8268" stop-color="#60329a"/><stop offset="0.8354" stop-color="#60329a"/><stop offset="0.8403" stop-color="#60329a"/><stop offset="0.8489" stop-color="#60329a"/><stop offset="0.8538" stop-color="#60329a"/><stop offset="0.8624" stop-color="#60329a"/><stop offset="0.8673" stop-color="#4c343a"/><stop offset="0.8759" stop-color="#4c343a"/><stop offset="0.8808" stop-color="#4c343a"/><stop offset="0.8895" stop-color="#4c343a"/><stop offset="0.8943" stop-color="#98682a"/><stop offset="0.9030" stop-color="#98682a"/><stop offset="0.9078" stop-color="#76502e"/><stop offset="0.9165" stop-color="#76502e"/><stop offset="0.9214" stop-color="#60329a"/><stop offset="0.9300" stop-color="#60329a"/><stop offset="0.9349" stop-color="#60329a"/><stop offset="0.9435" stop-color="#60329a"/><stop offset="0.9484" stop-color="#60329a"/><stop offset="0.9570" stop-color="#60329a"/><stop offset="0.9619" stop-color="#60329a"/><stop offset="0.9705" stop-color="#60329a"/><stop offset="0.9754" stop-color="#60329a"/><stop offset="0.9841" stop-color="#60329a"/><stop offset="0.9889" stop-color="#48286c"/><stop offset="0.9976" stop-color="#48286c"/></linearGradient><linearGradient id="hr5" x1="0" x2="1" y1="0" y2="0"><stop offset="0.0024" stop-color="#60329a"/><stop offset="0.0111" stop-color="#60329a"/><stop offset="0.0159" stop-color="#48286c"/><stop offset="0.0246" stop-color="#48286c"/><stop offset="0.0295" stop-color="#4c343a"/><stop offset="0.0381" stop-color="#4c343a"/><stop offset="0.0430" stop-color="#48286c"/><stop offset="0.0516" stop-color="#48286c"/><stop offset="0.0565" stop-color="#60329a"/><stop offset="0.0651" stop-color="#60329a"/><stop offset="0.0700" stop-color="#60329a"/><stop offset="0.0786" stop-color="#60329a"/><stop offset="0.0835" stop-color="#60329a"/><stop offset="0.0922" stop-color="#60329a"/><stop offset="0.0970" stop-color="#60329a"/><stop offset="0.1057" stop-color="#60329a"/><stop offset="0.1105" stop-color="#48286c"/><stop offset="0.1192" stop-color="#48286c"/><stop offset="0.1241" stop-color="#48286c"/><stop offset="0.1327" stop-color="#48286c"/><stop offset="0.1376" stop-color="#48286c"/><stop offset="0.1462" stop-color="#48286c"/><stop offset="0.1511" stop-color="#60329a"/><stop offset="0.1597" stop-color="#60329a"/><stop offset="0.1646" stop-color="#48286c"/><stop offset="0.1732" stop-color="#48286c"/><stop offset="0.1781" stop-color="#48286c"/><stop offset="0.1868" stop-color="#48286c"/><stop offset="0.1916" stop-color="#60329a"/><stop offset="0.2003" stop-color="#60329a"/><stop offset="0.2051" stop-color="#48286c"/><stop offset="0.2138" stop-color="#48286c"/><stop offset="0.2186" stop-color="#4c343a"/><stop offset="0.2273" stop-color="#4c343a"/><stop offset="0.2322" stop-color="#4c343a"/><stop offset="0.2408" stop-color="#4c343a"/><stop offset="0.2457" stop-color="#60329a"/><stop offset="0.2543" stop-color="#60329a"/><stop offset="0.2592" stop-color="#60329a"/><stop offset="0.2678" stop-color="#60329a"/><stop offset="0.2727" stop-color="#4c343a"/><stop offset="0.2814" stop-color="#4c343a"/><stop offset="0.2862" stop-color="#4c343a"/><stop offset="0.2949" stop-color="#4c343a"/><stop offset="0.2997" stop-color="#48286c"/><stop offset="0.3084" stop-color="#48286c"/><stop offset="0.3132" stop-color="#48286c"/><stop offset="0.3219" stop-color="#48286c"/><stop offset="0.3268" stop-color="#76502e"/><stop offset="0.3354" stop-color="#76502e"/><stop offset="0.3403" stop-color="#76502e"/><stop offset="0.3489" stop-color="#76502e"/><stop offset="0.3538" stop-color="#98682a"/><stop offset="0.3624" stop-color="#98682a"/><stop offset="0.3673" stop-color="#b87f26"/><stop offset="0.3759" stop-color="#b87f26"/><stop offset="0.3808" stop-color="#76502e"/><stop offset="0.3895" stop-color="#76502e"/><stop offset="0.3943" stop-color="#98682a"/><stop offset="0.4030" stop-color="#98682a"/><stop offset="0.4078" stop-color="#76502e"/><stop offset="0.4165" stop-color="#76502e"/><stop offset="0.4214" stop-color="#76502e"/><stop offset="0.4300" stop-color="#76502e"/><stop offset="0.4349" stop-color="#98682a"/><stop offset="0.4435" stop-color="#98682a"/><stop offset="0.4484" stop-color="#98682a"/><stop offset="0.4570" stop-color="#98682a"/><stop offset="0.4619" stop-color="#76502e"/><stop offset="0.4705" stop-color="#76502e"/><stop offset="0.4754" stop-color="#76502e"/><stop offset="0.4841" stop-color="#76502e"/><stop offset="0.4889" stop-color="#4c343a"/><stop offset="0.4976" stop-color="#4c343a"/><stop offset="0.5024" stop-color="#4c343a"/><stop offset="0.5111" stop-color="#4c343a"/><stop offset="0.5159" stop-color="#98682a"/><stop offset="0.5246" stop-color="#98682a"/><stop offset="0.5295" stop-color="#98682a"/><stop offset="0.5381" stop-color="#98682a"/><stop offset="0.5430" stop-color="#98682a"/><stop offset="0.5516" stop-color="#98682a"/><stop offset="0.5565" stop-color="#76502e"/><stop offset="0.5651" stop-color="#76502e"/><stop offset="0.5700" stop-color="#98682a"/><stop offset="0.5786" stop-color="#98682a"/><stop offset="0.5835" stop-color="#98682a"/><stop offset="0.5922" stop-color="#98682a"/><stop offset="0.5970" stop-color="#76502e"/><stop offset="0.6057" stop-color="#76502e"/><stop offset="0.6105" stop-color="#76502e"/><stop offset="0.6192" stop-color="#76502e"/><stop offset="0.6241" stop-color="#98682a"/><stop offset="0.6327" stop-color="#98682a"/><stop offset="0.6376" stop-color="#b87f26"/><stop offset="0.6462" stop-color="#b87f26"/><stop offset="0.6511" stop-color="#76502e"/><stop offset="0.6597" stop-color="#76502e"/><stop offset="0.6646" stop-color="#98682a"/><stop offset="0.6732" stop-color="#98682a"/><stop offset="0.6781" stop-color="#60329a"/><stop offset="0.6868" stop-color="#60329a"/><stop offset="0.6916" stop-color="#48286c"/><stop offset="0.7003" stop-color="#48286c"/><stop offset="0.7051" stop-color="#7442b0"/><stop offset="0.7138" stop-color="#7442b0"/><stop offset="0.7186" stop-color="#7442b0"/><stop offset="0.7273" stop-color="#7442b0"/><stop offset="0.7322" stop-color="#48286c"/><stop offset="0.7408" stop-color="#48286c"/><stop offset="0.7457" stop-color="#48286c"/><stop offset="0.7543" stop-color="#48286c"/><stop offset="0.7592" stop-color="#60329a"/><stop offset="0.7678" stop-color="#60329a"/><stop offset="0.7727" stop-color="#60329a"/><stop offset="0.7814" stop-color="#60329a"/><stop offset="0.7862" stop-color="#4c343a"/><stop offset="0.7949" stop-color="#4c343a"/><stop offset="0.7997" stop-color="#76502e"/><stop offset="0.8084" stop-color="#76502e"/><stop offset="0.8132" stop-color="#60329a"/><stop offset="0.8219" stop-color="#60329a"/><stop offset="0.8268" stop-color="#7442b0"/><stop offset="0.8354" stop-color="#7442b0"/><stop offset="0.8403" stop-color="#76502e"/><stop offset="0.8489" stop-color="#76502e"/><stop offset="0.8538" stop-color="#76502e"/><stop offset="0.8624" stop-color="#76502e"/><stop offset="0.8673" stop-color="#60329a"/><stop offset="0.8759" stop-color="#60329a"/><stop offset="0.8808" stop-color="#48286c"/><stop offset="0.8895" stop-color="#48286c"/><stop offset="0.8943" stop-color="#60329a"/><stop offset="0.9030" stop-color="#60329a"/><stop offset="0.9078" stop-color="#60329a"/><stop offset="0.9165" stop-color="#60329a"/><stop offset="0.9214" stop-color="#76502e"/><stop offset="0.9300" stop-color="#76502e"/><stop offset="0.9349" stop-color="#4c343a"/><stop offset="0.9435" stop-color="#4c343a"/><stop offset="0.9484" stop-color="#60329a"/><stop offset="0.9570" stop-color="#60329a"/><stop offset="0.9619" stop-color="#7442b0"/><stop offset="0.9705" stop-color="#7442b0"/><stop offset="0.9754" stop-color="#48286c"/><stop offset="0.9841" stop-color="#48286c"/><stop offset="0.9889" stop-color="#48286c"/><stop offset="0.9976" stop-color="#48286c"/></linearGradient><linearGradient id="hr6" x1="0" x2="1" y1="0" y2="0"><stop offset="0.0024" stop-color="#d09124"/><stop offset="0.0111" stop-color="#d09124"/><stop offset="0.0159" stop-color="#d09124"/><stop offset="0.0246" stop-color="#d09124"/><stop offset="0.0295" stop-color="#d09124"/><stop offset="0.0381" stop-color="#d09124"/><stop offset="0.0430" stop-color="#ae7828"/><stop offset="0.0516" stop-color="#ae7828"/><stop offset="0.0565" stop-color="#ae7828"/><stop offset="0.0651" stop-color="#ae7828"/><stop offset="0.0700" stop-color="#d09124"/><stop offset="0.0786" stop-color="#d09124"/><stop offset="0.0835" stop-color="#d09124"/><stop offset="0.0922" stop-color="#d09124"/><stop offset="0.0970" stop-color="#ae7828"/><stop offset="0.1057" stop-color="#ae7828"/><stop offset="0.1105" stop-color="#ae7828"/><stop offset="0.1192" stop-color="#ae7828"/><stop offset="0.1241" stop-color="#ae7828"/><stop offset="0.1327" stop-color="#ae7828"/><stop offset="0.1376" stop-color="#d09124"/><stop offset="0.1462" stop-color="#d09124"/><stop offset="0.1511" stop-color="#d09124"/><stop offset="0.1597" stop-color="#d09124"/><stop offset="0.1646" stop-color="#d09124"/><stop offset="0.1732" stop-color="#d09124"/><stop offset="0.1781" stop-color="#d09124"/><stop offset="0.1868" stop-color="#d09124"/><stop offset="0.1916" stop-color="#d09124"/><stop offset="0.2003" stop-color="#d09124"/><stop offset="0.2051" stop-color="#d09124"/><stop offset="0.2138" stop-color="#d09124"/><stop offset="0.2186" stop-color="#845a2e"/><stop offset="0.2273" stop-color="#845a2e"/><stop offset="0.2322" stop-color="#ae7828"/><stop offset="0.2408" stop-color="#ae7828"/><stop offset="0.2457" stop-color="#845a2e"/><stop offset="0.2543" stop-color="#845a2e"/><stop offset="0.2592" stop-color="#845a2e"/><stop offset="0.2678" stop-color="#845a2e"/><stop offset="0.2727" stop-color="#4c343a"/><stop offset="0.2814" stop-color="#4c343a"/><stop offset="0.2862" stop-color="#4c343a"/><stop offset="0.2949" stop-color="#4c343a"/><stop offset="0.2997" stop-color="#ae7828"/><stop offset="0.3084" stop-color="#ae7828"/><stop offset="0.3132" stop-color="#ae7828"/><stop offset="0.3219" stop-color="#ae7828"/><stop offset="0.3268" stop-color="#ae7828"/><stop offset="0.3354" stop-color="#ae7828"/><stop offset="0.3403" stop-color="#ae7828"/><stop offset="0.3489" stop-color="#ae7828"/><stop offset="0.3538" stop-color="#845a2e"/><stop offset="0.3624" stop-color="#845a2e"/><stop offset="0.3673" stop-color="#845a2e"/><stop offset="0.3759" stop-color="#845a2e"/><stop offset="0.3808" stop-color="#60329a"/><stop offset="0.3895" stop-color="#60329a"/><stop offset="0.3943" stop-color="#48286c"/><stop offset="0.4030" stop-color="#48286c"/><stop offset="0.4078" stop-color="#48286c"/><stop offset="0.4165" stop-color="#48286c"/><stop offset="0.4214" stop-color="#48286c"/><stop offset="0.4300" stop-color="#48286c"/><stop offset="0.4349" stop-color="#7442b0"/><stop offset="0.4435" stop-color="#7442b0"/><stop offset="0.4484" stop-color="#7442b0"/><stop offset="0.4570" stop-color="#7442b0"/><stop offset="0.4619" stop-color="#7442b0"/><stop offset="0.4705" stop-color="#7442b0"/><stop offset="0.4754" stop-color="#7442b0"/><stop offset="0.4841" stop-color="#7442b0"/><stop offset="0.4889" stop-color="#845a2e"/><stop offset="0.4976" stop-color="#845a2e"/><stop offset="0.5024" stop-color="#845a2e"/><stop offset="0.5111" stop-color="#845a2e"/><stop offset="0.5159" stop-color="#845a2e"/><stop offset="0.5246" stop-color="#845a2e"/><stop offset="0.5295" stop-color="#ae7828"/><stop offset="0.5381" stop-color="#ae7828"/><stop offset="0.5430" stop-color="#7442b0"/><stop offset="0.5516" stop-color="#7442b0"/><stop offset="0.5565" stop-color="#60329a"/><stop offset="0.5651" stop-color="#60329a"/><stop offset="0.5700" stop-color="#60329a"/><stop offset="0.5786" stop-color="#60329a"/><stop offset="0.5835" stop-color="#60329a"/><stop offset="0.5922" stop-color="#60329a"/><stop offset="0.5970" stop-color="#60329a"/><stop offset="0.6057" stop-color="#60329a"/><stop offset="0.6105" stop-color="#48286c"/><stop offset="0.6192" stop-color="#48286c"/><stop offset="0.6241" stop-color="#48286c"/><stop offset="0.6327" stop-color="#48286c"/><stop offset="0.6376" stop-color="#48286c"/><stop offset="0.6462" stop-color="#48286c"/><stop offset="0.6511" stop-color="#7442b0"/><stop offset="0.6597" stop-color="#7442b0"/><stop offset="0.6646" stop-color="#7442b0"/><stop offset="0.6732" stop-color="#7442b0"/><stop offset="0.6781" stop-color="#7442b0"/><stop offset="0.6868" stop-color="#7442b0"/><stop offset="0.6916" stop-color="#7442b0"/><stop offset="0.7003" stop-color="#7442b0"/><stop offset="0.7051" stop-color="#d09124"/><stop offset="0.7138" stop-color="#d09124"/><stop offset="0.7186" stop-color="#ae7828"/><stop offset="0.7273" stop-color="#ae7828"/><stop offset="0.7322" stop-color="#d09124"/><stop offset="0.7408" stop-color="#d09124"/><stop offset="0.7457" stop-color="#d09124"/><stop offset="0.7543" stop-color="#d09124"/><stop offset="0.7592" stop-color="#ae7828"/><stop offset="0.7678" stop-color="#ae7828"/><stop offset="0.7727" stop-color="#ae7828"/><stop offset="0.7814" stop-color="#ae7828"/><stop offset="0.7862" stop-color="#ae7828"/><stop offset="0.7949" stop-color="#ae7828"/><stop offset="0.7997" stop-color="#ae7828"/><stop offset="0.8084" stop-color="#ae7828"/><stop offset="0.8132" stop-color="#48286c"/><stop offset="0.8219" stop-color="#48286c"/><stop offset="0.8268" stop-color="#60329a"/><stop offset="0.8354" stop-color="#60329a"/><stop offset="0.8403" stop-color="#48286c"/><stop offset="0.8489" stop-color="#48286c"/><stop offset="0.8538" stop-color="#60329a"/><stop offset="0.8624" stop-color="#60329a"/><stop offset="0.8673" stop-color="#845a2e"/><stop offset="0.8759" stop-color="#845a2e"/><stop offset="0.8808" stop-color="#845a2e"/><stop offset="0.8895" stop-color="#845a2e"/><stop offset="0.8943" stop-color="#ae7828"/><stop offset="0.9030" stop-color="#ae7828"/><stop offset="0.9078" stop-color="#ae7828"/><stop offset="0.9165" stop-color="#ae7828"/><stop offset="0.9214" stop-color="#845a2e"/><stop offset="0.9300" stop-color="#845a2e"/><stop offset="0.9349" stop-color="#845a2e"/><stop offset="0.9435" stop-color="#845a2e"/><stop offset="0.9484" stop-color="#ae7828"/><stop offset="0.9570" stop-color="#ae7828"/><stop offset="0.9619" stop-color="#845a2e"/><stop offset="0.9705" stop-color="#845a2e"/><stop offset="0.9754" stop-color="#48286c"/><stop offset="0.9841" stop-color="#48286c"/><stop offset="0.9889" stop-color="#48286c"/><stop offset="0.9976" stop-color="#48286c"/></linearGradient><linearGradient id="hr7" x1="0" x2="1" y1="0" y2="0"><stop offset="0.0024" stop-color="#d09124"/><stop offset="0.0111" stop-color="#d09124"/><stop offset="0.0159" stop-color="#d09124"/><stop offset="0.0246" stop-color="#d09124"/><stop offset="0.0295" stop-color="#ae7828"/><stop offset="0.0381" stop-color="#ae7828"/><stop offset="0.0430" stop-color="#ae7828"/><stop offset="0.0516" stop-color="#ae7828"/><stop offset="0.0565" stop-color="#ae7828"/><stop offset="0.0651" stop-color="#ae7828"/><stop offset="0.0700" stop-color="#ae7828"/><stop offset="0.0786" stop-color="#ae7828"/><stop offset="0.0835" stop-color="#ae7828"/><stop offset="0.0922" stop-color="#ae7828"/><stop offset="0.0970" stop-color="#d09124"/><stop offset="0.1057" stop-color="#d09124"/><stop offset="0.1105" stop-color="#4c343a"/><stop offset="0.1192" stop-color="#4c343a"/><stop offset="0.1241" stop-color="#845a2e"/><stop offset="0.1327" stop-color="#845a2e"/><stop offset="0.1376" stop-color="#d09124"/><stop offset="0.1462" stop-color="#d09124"/><stop offset="0.1511" stop-color="#d09124"/><stop offset="0.1597" stop-color="#d09124"/><stop offset="0.1646" stop-color="#845a2e"/><stop offset="0.1732" stop-color="#845a2e"/><stop offset="0.1781" stop-color="#845a2e"/><stop offset="0.1868" stop-color="#845a2e"/><stop offset="0.1916" stop-color="#845a2e"/><stop offset="0.2003" stop-color="#845a2e"/><stop offset="0.2051" stop-color="#ae7828"/><stop offset="0.2138" stop-color="#ae7828"/><stop offset="0.2186" stop-color="#ae7828"/><stop offset="0.2273" stop-color="#ae7828"/><stop offset="0.2322" stop-color="#ae7828"/><stop offset="0.2408" stop-color="#ae7828"/><stop offset="0.2457" stop-color="#845a2e"/><stop offset="0.2543" stop-color="#845a2e"/><stop offset="0.2592" stop-color="#4c343a"/><stop offset="0.2678" stop-color="#4c343a"/><stop offset="0.2727" stop-color="#845a2e"/><stop offset="0.2814" stop-color="#845a2e"/><stop offset="0.2862" stop-color="#4c343a"/><stop offset="0.2949" stop-color="#4c343a"/><stop offset="0.2997" stop-color="#845a2e"/><stop offset="0.3084" stop-color="#845a2e"/><stop offset="0.3132" stop-color="#4c343a"/><stop offset="0.3219" stop-color="#4c343a"/><stop offset="0.3268" stop-color="#ae7828"/><stop offset="0.3354" stop-color="#ae7828"/><stop offset="0.3403" stop-color="#ae7828"/><stop offset="0.3489" stop-color="#ae7828"/><stop offset="0.3538" stop-color="#ae7828"/><stop offset="0.3624" stop-color="#ae7828"/><stop offset="0.3673" stop-color="#ae7828"/><stop offset="0.3759" stop-color="#ae7828"/><stop offset="0.3808" stop-color="#60329a"/><stop offset="0.3895" stop-color="#60329a"/><stop offset="0.3943" stop-color="#48286c"/><stop offset="0.4030" stop-color="#48286c"/><stop offset="0.4078" stop-color="#4c343a"/><stop offset="0.4165" stop-color="#4c343a"/><stop offset="0.4214" stop-color="#845a2e"/><stop offset="0.4300" stop-color="#845a2e"/><stop offset="0.4349" stop-color="#ae7828"/><stop offset="0.4435" stop-color="#ae7828"/><stop offset="0.4484" stop-color="#845a2e"/><stop offset="0.4570" stop-color="#845a2e"/><stop offset="0.4619" stop-color="#4c343a"/><stop offset="0.4705" stop-color="#4c343a"/><stop offset="0.4754" stop-color="#845a2e"/><stop offset="0.4841" stop-color="#845a2e"/><stop offset="0.4889" stop-color="#4c343a"/><stop offset="0.4976" stop-color="#4c343a"/><stop offset="0.5024" stop-color="#845a2e"/><stop offset="0.5111" stop-color="#845a2e"/><stop offset="0.5159" stop-color="#ae7828"/><stop offset="0.5246" stop-color="#ae7828"/><stop offset="0.5295" stop-color="#ae7828"/><stop offset="0.5381" stop-color="#ae7828"/><stop offset="0.5430" stop-color="#60329a"/><stop offset="0.5516" stop-color="#60329a"/><stop offset="0.5565" stop-color="#60329a"/><stop offset="0.5651" stop-color="#60329a"/><stop offset="0.5700" stop-color="#ae7828"/><stop offset="0.5786" stop-color="#ae7828"/><stop offset="0.5835" stop-color="#ae7828"/><stop offset="0.5922" stop-color="#ae7828"/><stop offset="0.5970" stop-color="#4c343a"/><stop offset="0.6057" stop-color="#4c343a"/><stop offset="0.6105" stop-color="#4c343a"/><stop offset="0.6192" stop-color="#4c343a"/><stop offset="0.6241" stop-color="#845a2e"/><stop offset="0.6327" stop-color="#845a2e"/><stop offset="0.6376" stop-color="#845a2e"/><stop offset="0.6462" stop-color="#845a2e"/><stop offset="0.6511" stop-color="#48286c"/><stop offset="0.6597" stop-color="#48286c"/><stop offset="0.6646" stop-color="#48286c"/><stop offset="0.6732" stop-color="#48286c"/><stop offset="0.6781" stop-color="#60329a"/><stop offset="0.6868" stop-color="#60329a"/><stop offset="0.6916" stop-color="#60329a"/><stop offset="0.7003" stop-color="#60329a"/><stop offset="0.7051" stop-color="#ae7828"/><stop offset="0.7138" stop-color="#ae7828"/><stop offset="0.7186" stop-color="#d09124"/><stop offset="0.7273" stop-color="#d09124"/><stop offset="0.7322" stop-color="#ae7828"/><stop offset="0.7408" stop-color="#ae7828"/><stop offset="0.7457" stop-color="#ae7828"/><stop offset="0.7543" stop-color="#ae7828"/><stop offset="0.7592" stop-color="#845a2e"/><stop offset="0.7678" stop-color="#845a2e"/><stop offset="0.7727" stop-color="#845a2e"/><stop offset="0.7814" stop-color="#845a2e"/><stop offset="0.7862" stop-color="#845a2e"/><stop offset="0.7949" stop-color="#845a2e"/><stop offset="0.7997" stop-color="#ae7828"/><stop offset="0.8084" stop-color="#ae7828"/><stop offset="0.8132" stop-color="#d09124"/><stop offset="0.8219" stop-color="#d09124"/><stop offset="0.8268" stop-color="#ae7828"/><stop offset="0.8354" stop-color="#ae7828"/><stop offset="0.8403" stop-color="#4c343a"/><stop offset="0.8489" stop-color="#4c343a"/><stop offset="0.8538" stop-color="#48286c"/><stop offset="0.8624" stop-color="#48286c"/><stop offset="0.8673" stop-color="#ae7828"/><stop offset="0.8759" stop-color="#ae7828"/><stop offset="0.8808" stop-color="#845a2e"/><stop offset="0.8895" stop-color="#845a2e"/><stop offset="0.8943" stop-color="#845a2e"/><stop offset="0.9030" stop-color="#845a2e"/><stop offset="0.9078" stop-color="#ae7828"/><stop offset="0.9165" stop-color="#ae7828"/><stop offset="0.9214" stop-color="#60329a"/><stop offset="0.9300" stop-color="#60329a"/><stop offset="0.9349" stop-color="#48286c"/><stop offset="0.9435" stop-color="#48286c"/><stop offset="0.9484" stop-color="#ae7828"/><stop offset="0.9570" stop-color="#ae7828"/><stop offset="0.9619" stop-color="#ae7828"/><stop offset="0.9705" stop-color="#ae7828"/><stop offset="0.9754" stop-color="#845a2e"/><stop offset="0.9841" stop-color="#845a2e"/><stop offset="0.9889" stop-color="#4c343a"/><stop offset="0.9976" stop-color="#4c343a"/></linearGradient><linearGradient id="hr8" x1="0" x2="1" y1="0" y2="0"><stop offset="0.0024" stop-color="#d09124"/><stop offset="0.0111" stop-color="#d09124"/><stop offset="0.0159" stop-color="#d09124"/><stop offset="0.0246" stop-color="#d09124"/><stop offset="0.0295" stop-color="#ae7828"/><stop offset="0.0381" stop-color="#ae7828"/><stop offset="0.0430" stop-color="#d09124"/><stop offset="0.0516" stop-color="#d09124"/><stop offset="0.0565" stop-color="#d09124"/><stop offset="0.0651" stop-color="#d09124"/><stop offset="0.0700" stop-color="#ae7828"/><stop offset="0.0786" stop-color="#ae7828"/><stop offset="0.0835" stop-color="#ae7828"/><stop offset="0.0922" stop-color="#ae7828"/><stop offset="0.0970" stop-color="#ae7828"/><stop offset="0.1057" stop-color="#ae7828"/><stop offset="0.1105" stop-color="#d09124"/><stop offset="0.1192" stop-color="#d09124"/><stop offset="0.1241" stop-color="#d09124"/><stop offset="0.1327" stop-color="#d09124"/><stop offset="0.1376" stop-color="#d09124"/><stop offset="0.1462" stop-color="#d09124"/><stop offset="0.1511" stop-color="#d09124"/><stop offset="0.1597" stop-color="#d09124"/><stop offset="0.1646" stop-color="#ae7828"/><stop offset="0.1732" stop-color="#ae7828"/><stop offset="0.1781" stop-color="#ae7828"/><stop offset="0.1868" stop-color="#ae7828"/><stop offset="0.1916" stop-color="#ae7828"/><stop offset="0.2003" stop-color="#ae7828"/><stop offset="0.2051" stop-color="#d09124"/><stop offset="0.2138" stop-color="#d09124"/><stop offset="0.2186" stop-color="#845a2e"/><stop offset="0.2273" stop-color="#845a2e"/><stop offset="0.2322" stop-color="#845a2e"/><stop offset="0.2408" stop-color="#845a2e"/><stop offset="0.2457" stop-color="#4c343a"/><stop offset="0.2543" stop-color="#4c343a"/><stop offset="0.2592" stop-color="#845a2e"/><stop offset="0.2678" stop-color="#845a2e"/><stop offset="0.2727" stop-color="#845a2e"/><stop offset="0.2814" stop-color="#845a2e"/><stop offset="0.2862" stop-color="#845a2e"/><stop offset="0.2949" stop-color="#845a2e"/><stop offset="0.2997" stop-color="#845a2e"/><stop offset="0.3084" stop-color="#845a2e"/><stop offset="0.3132" stop-color="#ae7828"/><stop offset="0.3219" stop-color="#ae7828"/><stop offset="0.3268" stop-color="#ae7828"/><stop offset="0.3354" stop-color="#ae7828"/><stop offset="0.3403" stop-color="#ae7828"/><stop offset="0.3489" stop-color="#ae7828"/><stop offset="0.3538" stop-color="#845a2e"/><stop offset="0.3624" stop-color="#845a2e"/><stop offset="0.3673" stop-color="#845a2e"/><stop offset="0.3759" stop-color="#845a2e"/><stop offset="0.3808" stop-color="#7442b0"/><stop offset="0.3895" stop-color="#7442b0"/><stop offset="0.3943" stop-color="#60329a"/><stop offset="0.4030" stop-color="#60329a"/><stop offset="0.4078" stop-color="#60329a"/><stop offset="0.4165" stop-color="#60329a"/><stop offset="0.4214" stop-color="#60329a"/><stop offset="0.4300" stop-color="#60329a"/><stop offset="0.4349" stop-color="#4c343a"/><stop offset="0.4435" stop-color="#4c343a"/><stop offset="0.4484" stop-color="#4c343a"/><stop offset="0.4570" stop-color="#4c343a"/><stop offset="0.4619" stop-color="#845a2e"/><stop offset="0.4705" stop-color="#845a2e"/><stop offset="0.4754" stop-color="#4c343a"/><stop offset="0.4841" stop-color="#4c343a"/><stop offset="0.4889" stop-color="#ae7828"/><stop offset="0.4976" stop-color="#ae7828"/><stop offset="0.5024" stop-color="#ae7828"/><stop offset="0.5111" stop-color="#ae7828"/><stop offset="0.5159" stop-color="#7442b0"/><stop offset="0.5246" stop-color="#7442b0"/><stop offset="0.5295" stop-color="#60329a"/><stop offset="0.5381" stop-color="#60329a"/><stop offset="0.5430" stop-color="#60329a"/><stop offset="0.5516" stop-color="#60329a"/><stop offset="0.5565" stop-color="#60329a"/><stop offset="0.5651" stop-color="#60329a"/><stop offset="0.5700" stop-color="#7442b0"/><stop offset="0.5786" stop-color="#7442b0"/><stop offset="0.5835" stop-color="#7442b0"/><stop offset="0.5922" stop-color="#7442b0"/><stop offset="0.5970" stop-color="#60329a"/><stop offset="0.6057" stop-color="#60329a"/><stop offset="0.6105" stop-color="#60329a"/><stop offset="0.6192" stop-color="#60329a"/><stop offset="0.6241" stop-color="#4c343a"/><stop offset="0.6327" stop-color="#4c343a"/><stop offset="0.6376" stop-color="#845a2e"/><stop offset="0.6462" stop-color="#845a2e"/><stop offset="0.6511" stop-color="#48286c"/><stop offset="0.6597" stop-color="#48286c"/><stop offset="0.6646" stop-color="#60329a"/><stop offset="0.6732" stop-color="#60329a"/><stop offset="0.6781" stop-color="#ae7828"/><stop offset="0.6868" stop-color="#ae7828"/><stop offset="0.6916" stop-color="#845a2e"/><stop offset="0.7003" stop-color="#845a2e"/><stop offset="0.7051" stop-color="#ae7828"/><stop offset="0.7138" stop-color="#ae7828"/><stop offset="0.7186" stop-color="#ae7828"/><stop offset="0.7273" stop-color="#ae7828"/><stop offset="0.7322" stop-color="#d09124"/><stop offset="0.7408" stop-color="#d09124"/><stop offset="0.7457" stop-color="#d09124"/><stop offset="0.7543" stop-color="#d09124"/><stop offset="0.7592" stop-color="#ae7828"/><stop offset="0.7678" stop-color="#ae7828"/><stop offset="0.7727" stop-color="#ae7828"/><stop offset="0.7814" stop-color="#ae7828"/><stop offset="0.7862" stop-color="#ae7828"/><stop offset="0.7949" stop-color="#ae7828"/><stop offset="0.7997" stop-color="#d09124"/><stop offset="0.8084" stop-color="#d09124"/><stop offset="0.8132" stop-color="#48286c"/><stop offset="0.8219" stop-color="#48286c"/><stop offset="0.8268" stop-color="#4c343a"/><stop offset="0.8354" stop-color="#4c343a"/><stop offset="0.8403" stop-color="#d09124"/><stop offset="0.8489" stop-color="#d09124"/><stop offset="0.8538" stop-color="#d09124"/><stop offset="0.8624" stop-color="#d09124"/><stop offset="0.8673" stop-color="#845a2e"/><stop offset="0.8759" stop-color="#845a2e"/><stop offset="0.8808" stop-color="#ae7828"/><stop offset="0.8895" stop-color="#ae7828"/><stop offset="0.8943" stop-color="#ae7828"/><stop offset="0.9030" stop-color="#ae7828"/><stop offset="0.9078" stop-color="#ae7828"/><stop offset="0.9165" stop-color="#ae7828"/><stop offset="0.9214" stop-color="#845a2e"/><stop offset="0.9300" stop-color="#845a2e"/><stop offset="0.9349" stop-color="#845a2e"/><stop offset="0.9435" stop-color="#845a2e"/><stop offset="0.9484" stop-color="#60329a"/><stop offset="0.9570" stop-color="#60329a"/><stop offset="0.9619" stop-color="#60329a"/><stop offset="0.9705" stop-color="#60329a"/><stop offset="0.9754" stop-color="#4c343a"/><stop offset="0.9841" stop-color="#4c343a"/><stop offset="0.9889" stop-color="#48286c"/><stop offset="0.9976" stop-color="#48286c"/></linearGradient><linearGradient id="hr9" x1="0" x2="1" y1="0" y2="0"><stop offset="0.0024" stop-color="#ae7828"/><stop offset="0.0111" stop-color="#ae7828"/><stop offset="0.0159" stop-color="#845a2e"/><stop offset="0.0246" stop-color="#845a2e"/><stop offset="0.0295" stop-color="#4c343a"/><stop offset="0.0381" stop-color="#4c343a"/><stop offset="0.0430" stop-color="#845a2e"/><stop offset="0.0516" stop-color="#845a2e"/><stop offset="0.0565" stop-color="#d09124"/><stop offset="0.0651" stop-color="#d09124"/><stop offset="0.0700" stop-color="#d09124"/><stop offset="0.0786" stop-color="#d09124"/><stop offset="0.0835" stop-color="#d09124"/><stop offset="0.0922" stop-color="#d09124"/><stop offset="0.0970" stop-color="#d09124"/><stop offset="0.1057" stop-color="#d09124"/><stop offset="0.1105" stop-color="#d09124"/><stop offset="0.1192" stop-color="#d09124"/><stop offset="0.1241" stop-color="#d09124"/><stop offset="0.1327" stop-color="#d09124"/><stop offset="0.1376" stop-color="#d09124"/><stop offset="0.1462" stop-color="#d09124"/><stop offset="0.1511" stop-color="#d09124"/><stop offset="0.1597" stop-color="#d09124"/><stop offset="0.1646" stop-color="#ae7828"/><stop offset="0.1732" stop-color="#ae7828"/><stop offset="0.1781" stop-color="#ae7828"/><stop offset="0.1868" stop-color="#ae7828"/><stop offset="0.1916" stop-color="#60329a"/><stop offset="0.2003" stop-color="#60329a"/><stop offset="0.2051" stop-color="#60329a"/><stop offset="0.2138" stop-color="#60329a"/><stop offset="0.2186" stop-color="#ae7828"/><stop offset="0.2273" stop-color="#ae7828"/><stop offset="0.2322" stop-color="#ae7828"/><stop offset="0.2408" stop-color="#ae7828"/><stop offset="0.2457" stop-color="#845a2e"/><stop offset="0.2543" stop-color="#845a2e"/><stop offset="0.2592" stop-color="#845a2e"/><stop offset="0.2678" stop-color="#845a2e"/><stop offset="0.2727" stop-color="#ae7828"/><stop offset="0.2814" stop-color="#ae7828"/><stop offset="0.2862" stop-color="#ae7828"/><stop offset="0.2949" stop-color="#ae7828"/><stop offset="0.2997" stop-color="#48286c"/><stop offset="0.3084" stop-color="#48286c"/><stop offset="0.3132" stop-color="#48286c"/><stop offset="0.3219" stop-color="#48286c"/><stop offset="0.3268" stop-color="#60329a"/><stop offset="0.3354" stop-color="#60329a"/><stop offset="0.3403" stop-color="#7442b0"/><stop offset="0.3489" stop-color="#7442b0"/><stop offset="0.3538" stop-color="#60329a"/><stop offset="0.3624" stop-color="#60329a"/><stop offset="0.3673" stop-color="#7442b0"/><stop offset="0.3759" stop-color="#7442b0"/><stop offset="0.3808" stop-color="#4c343a"/><stop offset="0.3895" stop-color="#4c343a"/><stop offset="0.3943" stop-color="#4c343a"/><stop offset="0.4030" stop-color="#4c343a"/><stop offset="0.4078" stop-color="#60329a"/><stop offset="0.4165" stop-color="#60329a"/><stop offset="0.4214" stop-color="#60329a"/><stop offset="0.4300" stop-color="#60329a"/><stop offset="0.4349" stop-color="#7442b0"/><stop offset="0.4435" stop-color="#7442b0"/><stop offset="0.4484" stop-color="#7442b0"/><stop offset="0.4570" stop-color="#7442b0"/><stop offset="0.4619" stop-color="#60329a"/><stop offset="0.4705" stop-color="#60329a"/><stop offset="0.4754" stop-color="#60329a"/><stop offset="0.4841" stop-color="#60329a"/><stop offset="0.4889" stop-color="#845a2e"/><stop offset="0.4976" stop-color="#845a2e"/><stop offset="0.5024" stop-color="#845a2e"/><stop offset="0.5111" stop-color="#845a2e"/><stop offset="0.5159" stop-color="#60329a"/><stop offset="0.5246" stop-color="#60329a"/><stop offset="0.5295" stop-color="#60329a"/><stop offset="0.5381" stop-color="#60329a"/><stop offset="0.5430" stop-color="#48286c"/><stop offset="0.5516" stop-color="#48286c"/><stop offset="0.5565" stop-color="#4c343a"/><stop offset="0.5651" stop-color="#4c343a"/><stop offset="0.5700" stop-color="#60329a"/><stop offset="0.5786" stop-color="#60329a"/><stop offset="0.5835" stop-color="#60329a"/><stop offset="0.5922" stop-color="#60329a"/><stop offset="0.5970" stop-color="#7442b0"/><stop offset="0.6057" stop-color="#7442b0"/><stop offset="0.6105" stop-color="#7442b0"/><stop offset="0.6192" stop-color="#7442b0"/><stop offset="0.6241" stop-color="#60329a"/><stop offset="0.6327" stop-color="#60329a"/><stop offset="0.6376" stop-color="#60329a"/><stop offset="0.6462" stop-color="#60329a"/><stop offset="0.6511" stop-color="#48286c"/><stop offset="0.6597" stop-color="#48286c"/><stop offset="0.6646" stop-color="#60329a"/><stop offset="0.6732" stop-color="#60329a"/><stop offset="0.6781" stop-color="#60329a"/><stop offset="0.6868" stop-color="#60329a"/><stop offset="0.6916" stop-color="#60329a"/><stop offset="0.7003" stop-color="#60329a"/><stop offset="0.7051" stop-color="#845a2e"/><stop offset="0.7138" stop-color="#845a2e"/><stop offset="0.7186" stop-color="#ae7828"/><stop offset="0.7273" stop-color="#ae7828"/><stop offset="0.7322" stop-color="#d09124"/><stop offset="0.7408" stop-color="#d09124"/><stop offset="0.7457" stop-color="#d09124"/><stop offset="0.7543" stop-color="#d09124"/><stop offset="0.7592" stop-color="#4c343a"/><stop offset="0.7678" stop-color="#4c343a"/><stop offset="0.7727" stop-color="#4c343a"/><stop offset="0.7814" stop-color="#4c343a"/><stop offset="0.7862" stop-color="#d09124"/><stop offset="0.7949" stop-color="#d09124"/><stop offset="0.7997" stop-color="#ae7828"/><stop offset="0.8084" stop-color="#ae7828"/><stop offset="0.8132" stop-color="#48286c"/><stop offset="0.8219" stop-color="#48286c"/><stop offset="0.8268" stop-color="#60329a"/><stop offset="0.8354" stop-color="#60329a"/><stop offset="0.8403" stop-color="#60329a"/><stop offset="0.8489" stop-color="#60329a"/><stop offset="0.8538" stop-color="#48286c"/><stop offset="0.8624" stop-color="#48286c"/><stop offset="0.8673" stop-color="#48286c"/><stop offset="0.8759" stop-color="#48286c"/><stop offset="0.8808" stop-color="#60329a"/><stop offset="0.8895" stop-color="#60329a"/><stop offset="0.8943" stop-color="#7442b0"/><stop offset="0.9030" stop-color="#7442b0"/><stop offset="0.9078" stop-color="#7442b0"/><stop offset="0.9165" stop-color="#7442b0"/><stop offset="0.9214" stop-color="#4c343a"/><stop offset="0.9300" stop-color="#4c343a"/><stop offset="0.9349" stop-color="#845a2e"/><stop offset="0.9435" stop-color="#845a2e"/><stop offset="0.9484" stop-color="#ae7828"/><stop offset="0.9570" stop-color="#ae7828"/><stop offset="0.9619" stop-color="#d09124"/><stop offset="0.9705" stop-color="#d09124"/><stop offset="0.9754" stop-color="#60329a"/><stop offset="0.9841" stop-color="#60329a"/><stop offset="0.9889" stop-color="#48286c"/><stop offset="0.9976" stop-color="#48286c"/></linearGradient><linearGradient id="hr10" x1="0" x2="1" y1="0" y2="0"><stop offset="0.0024" stop-color="#ae7828"/><stop offset="0.0111" stop-color="#ae7828"/><stop offset="0.0159" stop-color="#ae7828"/><stop offset="0.0246" stop-color="#ae7828"/><stop offset="0.0295" stop-color="#60329a"/><stop offset="0.0381" stop-color="#60329a"/><stop offset="0.0430" stop-color="#48286c"/><stop offset="0.0516" stop-color="#48286c"/><stop offset="0.0565" stop-color="#845a2e"/><stop offset="0.0651" stop-color="#845a2e"/><stop offset="0.0700" stop-color="#ae7828"/><stop offset="0.0786" stop-color="#ae7828"/><stop offset="0.0835" stop-color="#845a2e"/><stop offset="0.0922" stop-color="#845a2e"/><stop offset="0.0970" stop-color="#ae7828"/><stop offset="0.1057" stop-color="#ae7828"/><stop offset="0.1105" stop-color="#60329a"/><stop offset="0.1192" stop-color="#60329a"/><stop offset="0.1241" stop-color="#48286c"/><stop offset="0.1327" stop-color="#48286c"/><stop offset="0.1376" stop-color="#ae7828"/><stop offset="0.1462" stop-color="#ae7828"/><stop offset="0.1511" stop-color="#845a2e"/><stop offset="0.1597" stop-color="#845a2e"/><stop offset="0.1646" stop-color="#d09124"/><stop offset="0.1732" stop-color="#d09124"/><stop offset="0.1781" stop-color="#ae7828"/><stop offset="0.1868" stop-color="#ae7828"/><stop offset="0.1916" stop-color="#48286c"/><stop offset="0.2003" stop-color="#48286c"/><stop offset="0.2051" stop-color="#48286c"/><stop offset="0.2138" stop-color="#48286c"/><stop offset="0.2186" stop-color="#845a2e"/><stop offset="0.2273" stop-color="#845a2e"/><stop offset="0.2322" stop-color="#845a2e"/><stop offset="0.2408" stop-color="#845a2e"/><stop offset="0.2457" stop-color="#ae7828"/><stop offset="0.2543" stop-color="#ae7828"/><stop offset="0.2592" stop-color="#ae7828"/><stop offset="0.2678" stop-color="#ae7828"/><stop offset="0.2727" stop-color="#48286c"/><stop offset="0.2814" stop-color="#48286c"/><stop offset="0.2862" stop-color="#60329a"/><stop offset="0.2949" stop-color="#60329a"/><stop offset="0.2997" stop-color="#ae7828"/><stop offset="0.3084" stop-color="#ae7828"/><stop offset="0.3132" stop-color="#ae7828"/><stop offset="0.3219" stop-color="#ae7828"/><stop offset="0.3268" stop-color="#48286c"/><stop offset="0.3354" stop-color="#48286c"/><stop offset="0.3403" stop-color="#60329a"/><stop offset="0.3489" stop-color="#60329a"/><stop offset="0.3538" stop-color="#ae7828"/><stop offset="0.3624" stop-color="#ae7828"/><stop offset="0.3673" stop-color="#845a2e"/><stop offset="0.3759" stop-color="#845a2e"/><stop offset="0.3808" stop-color="#60329a"/><stop offset="0.3895" stop-color="#60329a"/><stop offset="0.3943" stop-color="#48286c"/><stop offset="0.4030" stop-color="#48286c"/><stop offset="0.4078" stop-color="#845a2e"/><stop offset="0.4165" stop-color="#845a2e"/><stop offset="0.4214" stop-color="#845a2e"/><stop offset="0.4300" stop-color="#845a2e"/><stop offset="0.4349" stop-color="#4c343a"/><stop offset="0.4435" stop-color="#4c343a"/><stop offset="0.4484" stop-color="#845a2e"/><stop offset="0.4570" stop-color="#845a2e"/><stop offset="0.4619" stop-color="#ae7828"/><stop offset="0.4705" stop-color="#ae7828"/><stop offset="0.4754" stop-color="#ae7828"/><stop offset="0.4841" stop-color="#ae7828"/><stop offset="0.4889" stop-color="#ae7828"/><stop offset="0.4976" stop-color="#ae7828"/><stop offset="0.5024" stop-color="#ae7828"/><stop offset="0.5111" stop-color="#ae7828"/><stop offset="0.5159" stop-color="#60329a"/><stop offset="0.5246" stop-color="#60329a"/><stop offset="0.5295" stop-color="#48286c"/><stop offset="0.5381" stop-color="#48286c"/><stop offset="0.5430" stop-color="#ae7828"/><stop offset="0.5516" stop-color="#ae7828"/><stop offset="0.5565" stop-color="#ae7828"/><stop offset="0.5651" stop-color="#ae7828"/><stop offset="0.5700" stop-color="#845a2e"/><stop offset="0.5786" stop-color="#845a2e"/><stop offset="0.5835" stop-color="#845a2e"/><stop offset="0.5922" stop-color="#845a2e"/><stop offset="0.5970" stop-color="#845a2e"/><stop offset="0.6057" stop-color="#845a2e"/><stop offset="0.6105" stop-color="#4c343a"/><stop offset="0.6192" stop-color="#4c343a"/><stop offset="0.6241" stop-color="#4c343a"/><stop offset="0.6327" stop-color="#4c343a"/><stop offset="0.6376" stop-color="#4c343a"/><stop offset="0.6462" stop-color="#4c343a"/><stop offset="0.6511" stop-color="#845a2e"/><stop offset="0.6597" stop-color="#845a2e"/><stop offset="0.6646" stop-color="#845a2e"/><stop offset="0.6732" stop-color="#845a2e"/><stop offset="0.6781" stop-color="#ae7828"/><stop offset="0.6868" stop-color="#ae7828"/><stop offset="0.6916" stop-color="#ae7828"/><stop offset="0.7003" stop-color="#ae7828"/><stop offset="0.7051" stop-color="#845a2e"/><stop offset="0.7138" stop-color="#845a2e"/><stop offset="0.7186" stop-color="#845a2e"/><stop offset="0.7273" stop-color="#845a2e"/><stop offset="0.7322" stop-color="#4c343a"/><stop offset="0.7408" stop-color="#4c343a"/><stop offset="0.7457" stop-color="#4c343a"/><stop offset="0.7543" stop-color="#4c343a"/><stop offset="0.7592" stop-color="#ae7828"/><stop offset="0.7678" stop-color="#ae7828"/><stop offset="0.7727" stop-color="#d09124"/><stop offset="0.7814" stop-color="#d09124"/><stop offset="0.7862" stop-color="#4c343a"/><stop offset="0.7949" stop-color="#4c343a"/><stop offset="0.7997" stop-color="#4c343a"/><stop offset="0.8084" stop-color="#4c343a"/><stop offset="0.8132" stop-color="#ae7828"/><stop offset="0.8219" stop-color="#ae7828"/><stop offset="0.8268" stop-color="#ae7828"/><stop offset="0.8354" stop-color="#ae7828"/><stop offset="0.8403" stop-color="#4c343a"/><stop offset="0.8489" stop-color="#4c343a"/><stop offset="0.8538" stop-color="#845a2e"/><stop offset="0.8624" stop-color="#845a2e"/><stop offset="0.8673" stop-color="#d09124"/><stop offset="0.8759" stop-color="#d09124"/><stop offset="0.8808" stop-color="#ae7828"/><stop offset="0.8895" stop-color="#ae7828"/><stop offset="0.8943" stop-color="#ae7828"/><stop offset="0.9030" stop-color="#ae7828"/><stop offset="0.9078" stop-color="#ae7828"/><stop offset="0.9165" stop-color="#ae7828"/><stop offset="0.9214" stop-color="#845a2e"/><stop offset="0.9300" stop-color="#845a2e"/><stop offset="0.9349" stop-color="#845a2e"/><stop offset="0.9435" stop-color="#845a2e"/><stop offset="0.9484" stop-color="#d09124"/><stop offset="0.9570" stop-color="#d09124"/><stop offset="0.9619" stop-color="#ae7828"/><stop offset="0.9705" stop-color="#ae7828"/><stop offset="0.9754" stop-color="#48286c"/><stop offset="0.9841" stop-color="#48286c"/><stop offset="0.9889" stop-color="#4c343a"/><stop offset="0.9976" stop-color="#4c343a"/></linearGradient><linearGradient id="hr11" x1="0" x2="1" y1="0" y2="0"><stop offset="0.0024" stop-color="#d09124"/><stop offset="0.0111" stop-color="#d09124"/><stop offset="0.0159" stop-color="#d09124"/><stop offset="0.0246" stop-color="#d09124"/><stop offset="0.0295" stop-color="#4c343a"/><stop offset="0.0381" stop-color="#4c343a"/><stop offset="0.0430" stop-color="#845a2e"/><stop offset="0.0516" stop-color="#845a2e"/><stop offset="0.0565" stop-color="#ae7828"/><stop offset="0.0651" stop-color="#ae7828"/><stop offset="0.0700" stop-color="#d09124"/><stop offset="0.0786" stop-color="#d09124"/><stop offset="0.0835" stop-color="#60329a"/><stop offset="0.0922" stop-color="#60329a"/><stop offset="0.0970" stop-color="#60329a"/><stop offset="0.1057" stop-color="#60329a"/><stop offset="0.1105" stop-color="#ae7828"/><stop offset="0.1192" stop-color="#ae7828"/><stop offset="0.1241" stop-color="#d09124"/><stop offset="0.1327" stop-color="#d09124"/><stop offset="0.1376" stop-color="#60329a"/><stop offset="0.1462" stop-color="#60329a"/><stop offset="0.1511" stop-color="#60329a"/><stop offset="0.1597" stop-color="#60329a"/><stop offset="0.1646" stop-color="#60329a"/><stop offset="0.1732" stop-color="#60329a"/><stop offset="0.1781" stop-color="#60329a"/><stop offset="0.1868" stop-color="#60329a"/><stop offset="0.1916" stop-color="#7442b0"/><stop offset="0.2003" stop-color="#7442b0"/><stop offset="0.2051" stop-color="#7442b0"/><stop offset="0.2138" stop-color="#7442b0"/><stop offset="0.2186" stop-color="#ae7828"/><stop offset="0.2273" stop-color="#ae7828"/><stop offset="0.2322" stop-color="#845a2e"/><stop offset="0.2408" stop-color="#845a2e"/><stop offset="0.2457" stop-color="#60329a"/><stop offset="0.2543" stop-color="#60329a"/><stop offset="0.2592" stop-color="#60329a"/><stop offset="0.2678" stop-color="#60329a"/><stop offset="0.2727" stop-color="#7442b0"/><stop offset="0.2814" stop-color="#7442b0"/><stop offset="0.2862" stop-color="#7442b0"/><stop offset="0.2949" stop-color="#7442b0"/><stop offset="0.2997" stop-color="#60329a"/><stop offset="0.3084" stop-color="#60329a"/><stop offset="0.3132" stop-color="#7442b0"/><stop offset="0.3219" stop-color="#7442b0"/><stop offset="0.3268" stop-color="#60329a"/><stop offset="0.3354" stop-color="#60329a"/><stop offset="0.3403" stop-color="#60329a"/><stop offset="0.3489" stop-color="#60329a"/><stop offset="0.3538" stop-color="#845a2e"/><stop offset="0.3624" stop-color="#845a2e"/><stop offset="0.3673" stop-color="#845a2e"/><stop offset="0.3759" stop-color="#845a2e"/><stop offset="0.3808" stop-color="#4c343a"/><stop offset="0.3895" stop-color="#4c343a"/><stop offset="0.3943" stop-color="#48286c"/><stop offset="0.4030" stop-color="#48286c"/><stop offset="0.4078" stop-color="#ae7828"/><stop offset="0.4165" stop-color="#ae7828"/><stop offset="0.4214" stop-color="#d09124"/><stop offset="0.4300" stop-color="#d09124"/><stop offset="0.4349" stop-color="#d09124"/><stop offset="0.4435" stop-color="#d09124"/><stop offset="0.4484" stop-color="#ae7828"/><stop offset="0.4570" stop-color="#ae7828"/><stop offset="0.4619" stop-color="#845a2e"/><stop offset="0.4705" stop-color="#845a2e"/><stop offset="0.4754" stop-color="#845a2e"/><stop offset="0.4841" stop-color="#845a2e"/><stop offset="0.4889" stop-color="#ae7828"/><stop offset="0.4976" stop-color="#ae7828"/><stop offset="0.5024" stop-color="#d09124"/><stop offset="0.5111" stop-color="#d09124"/><stop offset="0.5159" stop-color="#d09124"/><stop offset="0.5246" stop-color="#d09124"/><stop offset="0.5295" stop-color="#d09124"/><stop offset="0.5381" stop-color="#d09124"/><stop offset="0.5430" stop-color="#7442b0"/><stop offset="0.5516" stop-color="#7442b0"/><stop offset="0.5565" stop-color="#60329a"/><stop offset="0.5651" stop-color="#60329a"/><stop offset="0.5700" stop-color="#845a2e"/><stop offset="0.5786" stop-color="#845a2e"/><stop offset="0.5835" stop-color="#845a2e"/><stop offset="0.5922" stop-color="#845a2e"/><stop offset="0.5970" stop-color="#845a2e"/><stop offset="0.6057" stop-color="#845a2e"/><stop offset="0.6105" stop-color="#4c343a"/><stop offset="0.6192" stop-color="#4c343a"/><stop offset="0.6241" stop-color="#60329a"/><stop offset="0.6327" stop-color="#60329a"/><stop offset="0.6376" stop-color="#48286c"/><stop offset="0.6462" stop-color="#48286c"/><stop offset="0.6511" stop-color="#ae7828"/><stop offset="0.6597" stop-color="#ae7828"/><stop offset="0.6646" stop-color="#d09124"/><stop offset="0.6732" stop-color="#d09124"/><stop offset="0.6781" stop-color="#4c343a"/><stop offset="0.6868" stop-color="#4c343a"/><stop offset="0.6916" stop-color="#4c343a"/><stop offset="0.7003" stop-color="#4c343a"/><stop offset="0.7051" stop-color="#ae7828"/><stop offset="0.7138" stop-color="#ae7828"/><stop offset="0.7186" stop-color="#ae7828"/><stop offset="0.7273" stop-color="#ae7828"/><stop offset="0.7322" stop-color="#845a2e"/><stop offset="0.7408" stop-color="#845a2e"/><stop offset="0.7457" stop-color="#845a2e"/><stop offset="0.7543" stop-color="#845a2e"/><stop offset="0.7592" stop-color="#845a2e"/><stop offset="0.7678" stop-color="#845a2e"/><stop offset="0.7727" stop-color="#4c343a"/><stop offset="0.7814" stop-color="#4c343a"/><stop offset="0.7862" stop-color="#ae7828"/><stop offset="0.7949" stop-color="#ae7828"/><stop offset="0.7997" stop-color="#ae7828"/><stop offset="0.8084" stop-color="#ae7828"/><stop offset="0.8132" stop-color="#845a2e"/><stop offset="0.8219" stop-color="#845a2e"/><stop offset="0.8268" stop-color="#ae7828"/><stop offset="0.8354" stop-color="#ae7828"/><stop offset="0.8403" stop-color="#60329a"/><stop offset="0.8489" stop-color="#60329a"/><stop offset="0.8538" stop-color="#48286c"/><stop offset="0.8624" stop-color="#48286c"/><stop offset="0.8673" stop-color="#ae7828"/><stop offset="0.8759" stop-color="#ae7828"/><stop offset="0.8808" stop-color="#ae7828"/><stop offset="0.8895" stop-color="#ae7828"/><stop offset="0.8943" stop-color="#d09124"/><stop offset="0.9030" stop-color="#d09124"/><stop offset="0.9078" stop-color="#d09124"/><stop offset="0.9165" stop-color="#d09124"/><stop offset="0.9214" stop-color="#60329a"/><stop offset="0.9300" stop-color="#60329a"/><stop offset="0.9349" stop-color="#7442b0"/><stop offset="0.9435" stop-color="#7442b0"/><stop offset="0.9484" stop-color="#d09124"/><stop offset="0.9570" stop-color="#d09124"/><stop offset="0.9619" stop-color="#ae7828"/><stop offset="0.9705" stop-color="#ae7828"/><stop offset="0.9754" stop-color="#845a2e"/><stop offset="0.9841" stop-color="#845a2e"/><stop offset="0.9889" stop-color="#4c343a"/><stop offset="0.9976" stop-color="#4c343a"/></linearGradient><linearGradient id="hr12" x1="0" x2="1" y1="0" y2="0"><stop offset="0.0024" stop-color="#60329a"/><stop offset="0.0111" stop-color="#60329a"/><stop offset="0.0159" stop-color="#7442b0"/><stop offset="0.0246" stop-color="#7442b0"/><stop offset="0.0295" stop-color="#7442b0"/><stop offset="0.0381" stop-color="#7442b0"/><stop offset="0.0430" stop-color="#7442b0"/><stop offset="0.0516" stop-color="#7442b0"/><stop offset="0.0565" stop-color="#60329a"/><stop offset="0.0651" stop-color="#60329a"/><stop offset="0.0700" stop-color="#60329a"/><stop offset="0.0786" stop-color="#60329a"/><stop offset="0.0835" stop-color="#60329a"/><stop offset="0.0922" stop-color="#60329a"/><stop offset="0.0970" stop-color="#60329a"/><stop offset="0.1057" stop-color="#60329a"/><stop offset="0.1105" stop-color="#7442b0"/><stop offset="0.1192" stop-color="#7442b0"/><stop offset="0.1241" stop-color="#60329a"/><stop offset="0.1327" stop-color="#60329a"/><stop offset="0.1376" stop-color="#60329a"/><stop offset="0.1462" stop-color="#60329a"/><stop offset="0.1511" stop-color="#48286c"/><stop offset="0.1597" stop-color="#48286c"/><stop offset="0.1646" stop-color="#60329a"/><stop offset="0.1732" stop-color="#60329a"/><stop offset="0.1781" stop-color="#60329a"/><stop offset="0.1868" stop-color="#60329a"/><stop offset="0.1916" stop-color="#845a2e"/><stop offset="0.2003" stop-color="#845a2e"/><stop offset="0.2051" stop-color="#845a2e"/><stop offset="0.2138" stop-color="#845a2e"/><stop offset="0.2186" stop-color="#60329a"/><stop offset="0.2273" stop-color="#60329a"/><stop offset="0.2322" stop-color="#60329a"/><stop offset="0.2408" stop-color="#60329a"/><stop offset="0.2457" stop-color="#ae7828"/><stop offset="0.2543" stop-color="#ae7828"/><stop offset="0.2592" stop-color="#ae7828"/><stop offset="0.2678" stop-color="#ae7828"/><stop offset="0.2727" stop-color="#7442b0"/><stop offset="0.2814" stop-color="#7442b0"/><stop offset="0.2862" stop-color="#60329a"/><stop offset="0.2949" stop-color="#60329a"/><stop offset="0.2997" stop-color="#7442b0"/><stop offset="0.3084" stop-color="#7442b0"/><stop offset="0.3132" stop-color="#7442b0"/><stop offset="0.3219" stop-color="#7442b0"/><stop offset="0.3268" stop-color="#7442b0"/><stop offset="0.3354" stop-color="#7442b0"/><stop offset="0.3403" stop-color="#60329a"/><stop offset="0.3489" stop-color="#60329a"/><stop offset="0.3538" stop-color="#4c343a"/><stop offset="0.3624" stop-color="#4c343a"/><stop offset="0.3673" stop-color="#48286c"/><stop offset="0.3759" stop-color="#48286c"/><stop offset="0.3808" stop-color="#60329a"/><stop offset="0.3895" stop-color="#60329a"/><stop offset="0.3943" stop-color="#48286c"/><stop offset="0.4030" stop-color="#48286c"/><stop offset="0.4078" stop-color="#7442b0"/><stop offset="0.4165" stop-color="#7442b0"/><stop offset="0.4214" stop-color="#60329a"/><stop offset="0.4300" stop-color="#60329a"/><stop offset="0.4349" stop-color="#60329a"/><stop offset="0.4435" stop-color="#60329a"/><stop offset="0.4484" stop-color="#60329a"/><stop offset="0.4570" stop-color="#60329a"/><stop offset="0.4619" stop-color="#7442b0"/><stop offset="0.4705" stop-color="#7442b0"/><stop offset="0.4754" stop-color="#60329a"/><stop offset="0.4841" stop-color="#60329a"/><stop offset="0.4889" stop-color="#60329a"/><stop offset="0.4976" stop-color="#60329a"/><stop offset="0.5024" stop-color="#60329a"/><stop offset="0.5111" stop-color="#60329a"/><stop offset="0.5159" stop-color="#60329a"/><stop offset="0.5246" stop-color="#60329a"/><stop offset="0.5295" stop-color="#7442b0"/><stop offset="0.5381" stop-color="#7442b0"/><stop offset="0.5430" stop-color="#845a2e"/><stop offset="0.5516" stop-color="#845a2e"/><stop offset="0.5565" stop-color="#4c343a"/><stop offset="0.5651" stop-color="#4c343a"/><stop offset="0.5700" stop-color="#60329a"/><stop offset="0.5786" stop-color="#60329a"/><stop offset="0.5835" stop-color="#48286c"/><stop offset="0.5922" stop-color="#48286c"/><stop offset="0.5970" stop-color="#845a2e"/><stop offset="0.6057" stop-color="#845a2e"/><stop offset="0.6105" stop-color="#845a2e"/><stop offset="0.6192" stop-color="#845a2e"/><stop offset="0.6241" stop-color="#48286c"/><stop offset="0.6327" stop-color="#48286c"/><stop offset="0.6376" stop-color="#60329a"/><stop offset="0.6462" stop-color="#60329a"/><stop offset="0.6511" stop-color="#4c343a"/><stop offset="0.6597" stop-color="#4c343a"/><stop offset="0.6646" stop-color="#845a2e"/><stop offset="0.6732" stop-color="#845a2e"/><stop offset="0.6781" stop-color="#60329a"/><stop offset="0.6868" stop-color="#60329a"/><stop offset="0.6916" stop-color="#60329a"/><stop offset="0.7003" stop-color="#60329a"/><stop offset="0.7051" stop-color="#ae7828"/><stop offset="0.7138" stop-color="#ae7828"/><stop offset="0.7186" stop-color="#ae7828"/><stop offset="0.7273" stop-color="#ae7828"/><stop offset="0.7322" stop-color="#845a2e"/><stop offset="0.7408" stop-color="#845a2e"/><stop offset="0.7457" stop-color="#845a2e"/><stop offset="0.7543" stop-color="#845a2e"/><stop offset="0.7592" stop-color="#d09124"/><stop offset="0.7678" stop-color="#d09124"/><stop offset="0.7727" stop-color="#d09124"/><stop offset="0.7814" stop-color="#d09124"/><stop offset="0.7862" stop-color="#845a2e"/><stop offset="0.7949" stop-color="#845a2e"/><stop offset="0.7997" stop-color="#845a2e"/><stop offset="0.8084" stop-color="#845a2e"/><stop offset="0.8132" stop-color="#d09124"/><stop offset="0.8219" stop-color="#d09124"/><stop offset="0.8268" stop-color="#d09124"/><stop offset="0.8354" stop-color="#d09124"/><stop offset="0.8403" stop-color="#7442b0"/><stop offset="0.8489" stop-color="#7442b0"/><stop offset="0.8538" stop-color="#60329a"/><stop offset="0.8624" stop-color="#60329a"/><stop offset="0.8673" stop-color="#60329a"/><stop offset="0.8759" stop-color="#60329a"/><stop offset="0.8808" stop-color="#60329a"/><stop offset="0.8895" stop-color="#60329a"/><stop offset="0.8943" stop-color="#845a2e"/><stop offset="0.9030" stop-color="#845a2e"/><stop offset="0.9078" stop-color="#ae7828"/><stop offset="0.9165" stop-color="#ae7828"/><stop offset="0.9214" stop-color="#d09124"/><stop offset="0.9300" stop-color="#d09124"/><stop offset="0.9349" stop-color="#d09124"/><stop offset="0.9435" stop-color="#d09124"/><stop offset="0.9484" stop-color="#60329a"/><stop offset="0.9570" stop-color="#60329a"/><stop offset="0.9619" stop-color="#48286c"/><stop offset="0.9705" stop-color="#48286c"/><stop offset="0.9754" stop-color="#48286c"/><stop offset="0.9841" stop-color="#48286c"/><stop offset="0.9889" stop-color="#60329a"/><stop offset="0.9976" stop-color="#60329a"/></linearGradient></defs><rect x="97.6" y="30.20" width="74.00" height="10.73" fill="url(#hr0)"/><rect x="97.6" y="40.53" width="74.00" height="10.73" fill="url(#hr1)"/><rect x="97.6" y="50.86" width="74.00" height="10.73" fill="url(#hr2)"/><rect x="97.6" y="61.19" width="74.00" height="10.73" fill="url(#hr3)"/><rect x="97.6" y="71.52" width="74.00" height="10.73" fill="url(#hr4)"/><rect x="97.6" y="81.85" width="74.00" height="10.73" fill="url(#hr5)"/><rect x="97.6" y="92.18" width="74.00" height="10.73" fill="url(#hr6)"/><rect x="97.6" y="102.51" width="74.00" height="10.73" fill="url(#hr7)"/><rect x="97.6" y="112.84" width="74.00" height="10.73" fill="url(#hr8)"/><rect x="97.6" y="123.17" width="74.00" height="10.73" fill="url(#hr9)"/><rect x="97.6" y="133.50" width="74.00" height="10.73" fill="url(#hr10)"/><rect x="97.6" y="143.83" width="74.00" height="10.73" fill="url(#hr11)"/><rect x="97.6" y="154.16" width="74.00" height="10.33" fill="url(#hr12)"/>
<g font-size="8.1" fill="#000">
<text x="174.9" y="38.22">GMP AML</text>
<text x="174.9" y="48.55">CD38- AML</text>
<text x="174.9" y="58.88">CD38- AML</text>
<text x="174.9" y="69.20">GMP AML</text>
<text x="174.9" y="79.53">GMP AML</text>
<text x="174.9" y="89.86">CD38- AML</text>
<text x="174.9" y="100.19">CMP</text>
<text x="174.9" y="110.52">GMP</text>
<text x="174.9" y="120.86">MEP</text>
<text x="174.9" y="131.19">CD38-</text>
<text x="174.9" y="141.51">B</text>
<text x="174.9" y="151.84">Monocyte</text>
<text x="174.9" y="162.17">Erythroid</text>
</g>
<defs><linearGradient id="cbg" x1="0" y1="0" x2="0" y2="1">
<stop offset="0" stop-color="#e6a21e"/><stop offset="0.24" stop-color="#e4a01e"/>
<stop offset="0.5" stop-color="#161414"/><stop offset="0.667" stop-color="#5c2c92"/>
<stop offset="1" stop-color="#7e57ad"/></linearGradient></defs>
<rect x="234.2" y="30.3" width="11.9" height="133.7" fill="url(#cbg)"/>
<g font-size="7.5" fill="#000">
<text x="249.6" y="33.10">3</text>
<text x="249.6" y="55.30">2</text>
<text x="249.6" y="77.50">1</text>
<text x="249.6" y="99.70">0</text>
<text x="249.3" y="121.90">-1</text>
<text x="249.3" y="144.10">-2</text>
</g>
<text transform="translate(228.6 97.4) rotate(-90) scale(0.745 1)" font-size="9.2" font-style="italic" text-anchor="middle" fill="#000">Z-score</text>
<text x="266" y="33.7" font-size="8.1" text-anchor="start" fill="#000" >Sample Type</text>
<rect x="266" y="38.50" width="6.8" height="7.45" fill="#3c4a9c"/>
<text x="276.1" y="44.3" font-size="7.45" text-anchor="start" fill="#000" >GMP AML</text>
<rect x="266" y="45.90" width="6.8" height="7.45" fill="#8e1a47"/>
<text x="276.1" y="51.7" font-size="7.45" text-anchor="start" fill="#000" >CD38- AML</text>
<rect x="266" y="53.30" width="6.8" height="7.45" fill="#545151"/>
<text x="276.1" y="59.1" font-size="7.45" text-anchor="start" fill="#000" >CB subsets</text>
<text x="265.9" y="77.1" font-size="8.0" text-anchor="start" fill="#000" >CB Pool</text>
<rect x="265.7" y="81.70" width="7.1" height="7.35" fill="#e6a9ae"/>
<text x="276.1" y="88.4" font-size="7.7" text-anchor="start" fill="#000" >A</text>
<rect x="265.7" y="89.00" width="7.1" height="7.35" fill="#f3e4a5"/>
<text x="276.1" y="95.7" font-size="7.7" text-anchor="start" fill="#000" >B</text>
<rect x="265.7" y="96.30" width="7.1" height="7.35" fill="#cfdea2"/>
<text x="276.1" y="103.0" font-size="7.7" text-anchor="start" fill="#000" >C</text>
<rect x="265.7" y="103.60" width="7.1" height="7.35" fill="#c7e2f3"/>
<text x="276.1" y="110.3" font-size="7.7" text-anchor="start" fill="#000" >D</text>
<rect x="7.15" y="198" width="131.85" height="126.2" fill="none" stroke="#1c1c1c" stroke-width="1.3"/>
<path d="M30.8 226C28.5 222 30.5 216 36 212.6C41.5 209.5 48.5 208.3 51.3 210.2C53.5 212 52.5 215.5 49.5 218.5C46.5 221.5 45 225.5 41.5 228C37.5 230.5 33 229.5 30.8 226Z" fill="#f6edd0"/>
<rect x="58.3" y="216.2" width="14.4" height="14.4" rx="5.5" transform="rotate(40 65.5 223.4)" fill="#f6edd0"/>
<ellipse cx="115.6" cy="273.4" rx="10.4" ry="7.5" transform="rotate(-8 115.6 273.4)" fill="#f6edd0"/>
<circle cx="58.4" cy="297.4" r="10.3" fill="#f6edd0"/>
<circle cx="82" cy="298.6" r="9.6" fill="#f6edd0"/>
<ellipse cx="105.3" cy="313.9" rx="16" ry="7.3" transform="rotate(4 105.3 313.9)" fill="#f6edd0"/>
<path d="M81 202.8L81 209.3M89.3 206.8L88.2 212.5M86.1 224.5L83.2 235.8M43 235.9L47.5 232.9M53.7 205.2L57.7 204.1M65.7 201.2L71.4 199.9M43 216.3L48.7 214.2M29.3 272.3L53 292.5M29.3 272.3L55.5 294.5M38.2 277.1L54 293M36.4 281.1L54.5 295M69.3 270.4L62 291.5M34.2 302.7L53 300.3M82 301L93.4 311.5M93.4 311.5L103.6 313.8M103.6 313.8L101.2 318.8M101.2 318.8L93.4 311.5M103.6 313.8L110.6 315.4M110.6 315.4L115.7 313.8M109 273.2L112.9 270.1M112.9 270.1L116.8 272.9M116.8 272.9L119.9 278.8M119.9 278.8L121.5 274.5M121.5 274.5L116.8 272.9M115.7 291.3L117.3 297M117.3 297L119.6 302.8M18 249.2L22.3 249.5M22.3 249.5L20 254.3M20 254.3L18 249.2M99.3 250.8L103.8 249.8M99.3 250.8L103 255.6M103.8 249.8L103 255.6" stroke="#c9c9c9" stroke-width="0.95" fill="none"/>
<path d="M63 295.2L77 296.4L85 298L85 301.5L77 301.3L63 301.2Z" fill="#cdcdcd"/>
<path d="M48 296L58 297M47 301L58 299" stroke="#cdcdcd" stroke-width="1.6"/>
<path d="M34.1 220L36.6 216.8L39.6 216.9L43 216.3L40.3 221L39.2 223.8L35.5 224.7Z" fill="#c6c6c6"/>
<path d="M65.5 219L69.8 221.3L68 226.3L64.3 227.6L61 225.6L62.2 221.5Z" fill="#c6c6c6"/>
<path d="M34.1 220L39.6 216.9L39.2 223.8ZM36.6 216.8L40.3 221L35.5 224.7M65.5 219L68 226.3M62.2 221.5L69.8 221.3L64.3 227.6L61 225.6" stroke="#a8a8a8" stroke-width="0.4" fill="none"/>
<g fill="#d5962a"><circle cx="107.3" cy="238" r="6.0"/><circle cx="92.2" cy="240.6" r="0.8"/><circle cx="122" cy="240.1" r="1.0"/><circle cx="99.3" cy="250.8" r="1.4"/><circle cx="103.8" cy="249.8" r="1.0"/><circle cx="103" cy="255.6" r="1.4"/><circle cx="127.1" cy="258.8" r="0.7"/><circle cx="73.2" cy="208.5" r="0.6"/><circle cx="89.3" cy="206.8" r="0.6"/><circle cx="88.2" cy="212.5" r="0.6"/><circle cx="81" cy="209.3" r="0.5"/><circle cx="48.7" cy="214.2" r="0.7"/><circle cx="35.5" cy="224.7" r="0.6"/><circle cx="34.1" cy="220" r="0.5"/><circle cx="36.6" cy="216.8" r="0.5"/><circle cx="43" cy="216.3" r="0.6"/><circle cx="65.5" cy="219.4" r="0.6"/><circle cx="69.5" cy="221.3" r="0.7"/><circle cx="66.2" cy="223.2" r="0.6"/><circle cx="61.3" cy="225.5" r="0.6"/><circle cx="64.3" cy="227.3" r="0.7"/><circle cx="67.7" cy="226.2" r="0.5"/><circle cx="62.4" cy="221.7" r="0.5"/><circle cx="29.3" cy="272.3" r="3.2"/><circle cx="38.2" cy="277.1" r="2.0"/><circle cx="36.4" cy="281.1" r="1.6"/><circle cx="69.3" cy="270.4" r="1.2"/><circle cx="34.2" cy="302.7" r="1.2"/><circle cx="53.1" cy="293.5" r="1.0"/><circle cx="53.4" cy="302.5" r="1.0"/><circle cx="51.5" cy="300.3" r="0.9"/><circle cx="77.7" cy="297.4" r="1.3"/><circle cx="78.1" cy="300.3" r="1.1"/><circle cx="75.7" cy="301.7" r="1.1"/><circle cx="110.6" cy="315.4" r="1.8"/><circle cx="115.7" cy="313.8" r="2.5"/><circle cx="101.2" cy="318.8" r="1.0"/><circle cx="93.4" cy="311.5" r="0.9"/><circle cx="103.6" cy="313.8" r="0.9"/><circle cx="115.7" cy="291.3" r="1.0"/><circle cx="117.3" cy="297" r="1.3"/><circle cx="119.6" cy="302.8" r="2.0"/><circle cx="109" cy="273.2" r="0.6"/><circle cx="112.9" cy="270.1" r="0.6"/><circle cx="116.8" cy="272.9" r="0.5"/><circle cx="119.9" cy="278.8" r="0.6"/><circle cx="121.5" cy="274.5" r="0.5"/><circle cx="18" cy="249.2" r="0.7"/><circle cx="22.3" cy="249.5" r="0.6"/><circle cx="20" cy="254.3" r="0.6"/></g>
<g fill="#e8c98a"><circle cx="97.8" cy="207.7" r="0.6"/><circle cx="95.7" cy="217.3" r="0.6"/><circle cx="103.8" cy="214.9" r="0.6"/><circle cx="110.2" cy="220.5" r="0.6"/><circle cx="126" cy="246" r="0.6"/><circle cx="116" cy="258" r="0.6"/><circle cx="122" cy="262" r="0.6"/><circle cx="130" cy="268" r="0.6"/><circle cx="110" cy="262" r="0.6"/><circle cx="78" cy="216" r="0.6"/></g>
<ellipse cx="27.8" cy="237.6" rx="6.2" ry="5.3" transform="rotate(35 27.8 237.6)" fill="#d5962a"/>
<g fill="#d5962a"><circle cx="24.3" cy="232.3" r="2.4"/><circle cx="22.8" cy="236.5" r="2.0"/><circle cx="31.5" cy="242.6" r="2.0"/><circle cx="28" cy="242.8" r="1.8"/><circle cx="32.8" cy="239" r="1.8"/><circle cx="27.5" cy="232.5" r="1.8"/></g>
<circle cx="59.4" cy="297.4" r="5.6" fill="#d5962a"/>
<g fill="#d5962a"><circle cx="64.60" cy="297.40" r="1.5"/><circle cx="63.08" cy="301.08" r="1.5"/><circle cx="59.40" cy="302.60" r="1.5"/><circle cx="55.73" cy="301.08" r="1.5"/><circle cx="54.20" cy="297.41" r="1.5"/><circle cx="55.72" cy="293.73" r="1.5"/><circle cx="59.39" cy="292.20" r="1.5"/><circle cx="63.07" cy="293.71" r="1.5"/></g>
<path d="M57 294.5L61.5 300M61.5 294.5L57 300M56.5 297.5H62.5M59.4 294V301" stroke="#e7bd6e" stroke-width="0.6"/>
<ellipse cx="87.6" cy="300" rx="2.8" ry="5.4" fill="#d5962a"/>
<g fill="#d5962a"><circle cx="86.4" cy="295.6" r="2.0"/><circle cx="88.6" cy="295.8" r="1.9"/><circle cx="86.2" cy="300" r="2.1"/><circle cx="89" cy="300.4" r="2.1"/><circle cx="86.8" cy="304.4" r="1.9"/><circle cx="88.9" cy="303.8" r="1.7"/></g>
<g fill="#000">
<text x="25" y="209.7" font-size="7.5" text-anchor="start" fill="#000" >Histones</text>
<text x="69.2" y="239.7" font-size="7.6" text-anchor="middle" fill="#000" >TCR</text>
<text x="69" y="247" font-size="7.45" text-anchor="middle" fill="#000" >signaling</text>
<text x="90.4" y="230.7" font-size="7.8" text-anchor="start" fill="#000" >Metabolism</text>
<text x="26" y="254.3" font-size="7.35" text-anchor="start" fill="#000" >Immune</text>
<text x="25.2" y="262.2" font-size="7.3" text-anchor="start" fill="#000" >system</text>
<text x="91.9" y="288" font-size="7.3" text-anchor="start" fill="#000" >Phagocytosis</text>
<text x="52.3" y="312.1" font-size="7.4" text-anchor="start" fill="#000" >Cell cycle</text>
<text x="41.2" y="321.1" font-size="7.55" text-anchor="start" fill="#000" >DNA replication</text>
</g>
<rect x="154.6" y="198" width="131.8" height="125.8" fill="none" stroke="#1c1c1c" stroke-width="1.3"/>
<polygon points="160.8,264.0 166.8,261.0 174.1,261.6 180.1,265.2 184.9,273.7 189.1,280.9 193.3,286.9 195.8,291.7 192.1,296.6 180.1,297.8 171.7,295.3 169.3,290.5 163.2,284.5 157.8,274.9 158.4,267.6" fill="#e4d9ef" stroke="#e4d9ef" stroke-width="3" stroke-linejoin="round"/>
<polygon points="161.4,267.0 167.4,263.4 175.3,264.6 181.9,270.0 183.7,277.3 181.9,283.3 176.5,285.7 169.3,283.9 163.2,279.1 160.2,272.5" fill="#c3c3c3" stroke="#c3c3c3" stroke-width="2" stroke-linejoin="round"/>
<polygon points="174.1,282.1 181.9,279.1 187.3,285.7 192.1,290.5 190.9,294.1 182.5,294.7 174.1,292.9 171.1,288.1" fill="#cdcdcd" stroke="#cdcdcd" stroke-width="2" stroke-linejoin="round"/>
<polygon points="187.9,291.7 205.4,299.0 199.4,304.4" fill="#f0f0f0" stroke="#b9b9b9" stroke-width="0.7"/>
<path d="M188.5 292.9L205.4 299.0M189.7 294.1L199.4 304.4M192.1 291.1L201.8 301.4M186.1 290.5L195.8 297.8M193.3 294.1L205.4 299.0M192.1 296.6L199.4 304.4" stroke="#b5b5b5" stroke-width="0.5" fill="none"/>
<circle cx="161.3" cy="267.8" r="1.0" fill="#4d1a7f"/><circle cx="168.5" cy="262.5" r="0.7" fill="#7a4aa6"/><circle cx="166.6" cy="266.3" r="0.7" fill="#4d1a7f"/><circle cx="164.5" cy="269.5" r="0.8" fill="#4d1a7f"/><circle cx="161.4" cy="272.7" r="1.0" fill="#7a4aa6"/><circle cx="160.7" cy="277.1" r="0.9" fill="#5e2891"/><circle cx="172.3" cy="264.3" r="1.1" fill="#4d1a7f"/><circle cx="169.8" cy="268.0" r="0.8" fill="#7a4aa6"/><circle cx="168.0" cy="271.4" r="1.0" fill="#4d1a7f"/><circle cx="166.7" cy="275.5" r="1.1" fill="#5e2891"/><circle cx="164.0" cy="278.7" r="0.8" fill="#7a4aa6"/><circle cx="176.0" cy="266.3" r="0.7" fill="#4d1a7f"/><circle cx="173.5" cy="270.6" r="0.7" fill="#5e2891"/><circle cx="171.2" cy="273.7" r="1.1" fill="#7a4aa6"/><circle cx="169.7" cy="277.0" r="1.0" fill="#4d1a7f"/><circle cx="167.4" cy="280.4" r="0.8" fill="#4d1a7f"/><circle cx="179.4" cy="268.7" r="1.1" fill="#5e2891"/><circle cx="176.9" cy="272.6" r="0.9" fill="#7a4aa6"/><circle cx="175.6" cy="275.3" r="0.9" fill="#4d1a7f"/><circle cx="174.2" cy="279.3" r="0.8" fill="#4d1a7f"/><circle cx="170.5" cy="282.5" r="1.1" fill="#4d1a7f"/><circle cx="182.3" cy="270.7" r="0.8" fill="#4d1a7f"/><circle cx="180.0" cy="274.4" r="0.9" fill="#4d1a7f"/><circle cx="178.3" cy="276.9" r="1.0" fill="#5e2891"/><circle cx="176.9" cy="280.2" r="0.7" fill="#4d1a7f"/><circle cx="174.0" cy="284.5" r="0.9" fill="#4d1a7f"/><circle cx="175.3" cy="286.9" r="0.7" fill="#8e68b6"/><circle cx="179.5" cy="286.3" r="0.7" fill="#8e68b6"/><circle cx="184.3" cy="284.5" r="0.7" fill="#8e68b6"/><circle cx="177.7" cy="290.5" r="0.7" fill="#8e68b6"/><circle cx="181.9" cy="289.9" r="0.7" fill="#8e68b6"/><circle cx="186.1" cy="288.7" r="0.7" fill="#8e68b6"/><circle cx="174.1" cy="292.3" r="0.7" fill="#8e68b6"/><circle cx="188.5" cy="292.3" r="0.7" fill="#8e68b6"/><circle cx="192.1" cy="289.9" r="0.7" fill="#8e68b6"/><circle cx="180.7" cy="281.5" r="0.7" fill="#8e68b6"/><circle cx="205.4" cy="299.0" r="0.6" fill="#9b7cc0"/><circle cx="199.4" cy="304.4" r="0.6" fill="#9b7cc0"/>
<path d="M277.7 261.2C281 261.5 284 265 283.8 270.5C283.5 276 283 281 281.2 285.5C279 290.5 276.5 294.5 271 295.5C265.5 296.5 261 293.5 259.6 288.5C258.2 283.5 258.8 278 260.5 273C262.5 267.5 266 264 270.2 262.5C272.5 261.6 275 261 277.7 261.2Z" fill="#e4d9ef"/>
<path d="M277.7 263.4L280.5 271.8M277.7 263.4L272 268.5M280.5 271.8L274.9 278.3M280.5 271.8L272 268.5M265.6 274.6L274.9 278.3M265.6 274.6L267.4 283M265.6 274.6L272 268.5M274.9 278.3L267.4 283M274.9 278.3L276.8 284.9M274.9 278.3L272 268.5M267.4 283L276.8 284.9M267.4 283L262.8 288.6M267.4 283L271.2 292.3M276.8 284.9L271.2 292.3M262.8 288.6L271.2 292.3" stroke="#b0a3bd" stroke-width="0.45" fill="none"/>
<g fill="#6f4596"><circle cx="277.7" cy="263.4" r="0.7"/><circle cx="280.5" cy="271.8" r="0.7"/><circle cx="265.6" cy="274.6" r="0.7"/><circle cx="274.9" cy="278.3" r="0.7"/><circle cx="267.4" cy="283" r="0.7"/><circle cx="276.8" cy="284.9" r="0.7"/><circle cx="262.8" cy="288.6" r="0.7"/><circle cx="271.2" cy="292.3" r="0.7"/><circle cx="272" cy="268.5" r="0.7"/></g>
<circle cx="262.8" cy="288.6" r="1.3" fill="#4d1a7f"/>
<path d="M171.1 205.2L182.4 203.6M204.9 200.4L209.7 209M241.9 311.3L251.2 305.4" stroke="#bdbdbd" stroke-width="1" fill="none"/>
<circle cx="171.1" cy="205.2" r="1.9" fill="#4d1a7f"/><circle cx="182.4" cy="203.6" r="1.4" fill="#4d1a7f"/>
<circle cx="260.6" cy="224.2" r="1.7" fill="#4d1a7f"/>
<g fill="#c7b4dc"><circle cx="209.7" cy="209" r="0.6"/><circle cx="228.5" cy="206.8" r="0.6"/><circle cx="247" cy="213" r="0.6"/><circle cx="235.4" cy="223.4" r="0.6"/><circle cx="253.7" cy="237.9" r="0.6"/><circle cx="271.9" cy="240.1" r="0.6"/><circle cx="241.9" cy="311.3" r="0.6"/><circle cx="251.2" cy="305.4" r="0.6"/></g>
<g fill="#000">
<text x="213.8" y="270.9" font-size="7.5" text-anchor="middle" fill="#000" >Signaling</text>
<text x="213.8" y="279.3" font-size="7.5" text-anchor="middle" fill="#000" >through PI3K</text>
<text x="251.8" y="257.8" font-size="7.5" text-anchor="start" fill="#000" >Adhesion</text>
</g>
<path d="M365.8 21.6H461.9V113.3H365.8Z" fill="none" stroke="#111" stroke-width="1.25"/>
<text x="359.8" y="33.60" font-size="8" text-anchor="end" fill="#111" transform="translate(359.8 0) scale(0.93 1) translate(-359.8 0)">30</text>
<text x="359.8" y="45.80" font-size="8" text-anchor="end" fill="#111" transform="translate(359.8 0) scale(0.93 1) translate(-359.8 0)">20</text>
<text x="359.8" y="58.00" font-size="8" text-anchor="end" fill="#111" transform="translate(359.8 0) scale(0.93 1) translate(-359.8 0)">10</text>
<text x="359.8" y="70.20" font-size="8" text-anchor="end" fill="#111" transform="translate(359.8 0) scale(0.93 1) translate(-359.8 0)">0</text>
<text x="359.8" y="82.40" font-size="8" text-anchor="end" fill="#111" transform="translate(359.8 0) scale(0.93 1) translate(-359.8 0)">−10</text>
<text x="359.8" y="94.60" font-size="8" text-anchor="end" fill="#111" transform="translate(359.8 0) scale(0.93 1) translate(-359.8 0)">−20</text>
<text x="359.8" y="106.80" font-size="8" text-anchor="end" fill="#111" transform="translate(359.8 0) scale(0.93 1) translate(-359.8 0)">−30</text>
<text transform="translate(378.41 122.90) rotate(-45) scale(0.93 1)" font-size="8" text-anchor="end" fill="#111">−30</text>
<text transform="translate(391.09 122.90) rotate(-45) scale(0.93 1)" font-size="8" text-anchor="end" fill="#111">−20</text>
<text transform="translate(403.77 122.90) rotate(-45) scale(0.93 1)" font-size="8" text-anchor="end" fill="#111">−10</text>
<text transform="translate(416.45 122.90) rotate(-45) scale(0.93 1)" font-size="8" text-anchor="end" fill="#111">0</text>
<text transform="translate(429.13 122.90) rotate(-45) scale(0.93 1)" font-size="8" text-anchor="end" fill="#111">10</text>
<text transform="translate(441.81 122.90) rotate(-45) scale(0.93 1)" font-size="8" text-anchor="end" fill="#111">20</text>
<text transform="translate(454.49 122.90) rotate(-45) scale(0.93 1)" font-size="8" text-anchor="end" fill="#111">30</text>
<path d="M363.0 30.80H365.8M363.0 43.00H365.8M363.0 55.20H365.8M363.0 67.40H365.8M363.0 79.60H365.8M363.0 91.80H365.8M363.0 104.00H365.8M375.41 113.3V116.3M388.09 113.3V116.3M400.77 113.3V116.3M413.45 113.3V116.3M426.13 113.3V116.3M438.81 113.3V116.3M451.49 113.3V116.3" stroke="#111" stroke-width="1"/>
<text transform="translate(339.8 67.40) rotate(-90) scale(0.82 1)" font-size="9.2" text-anchor="middle" fill="#111">t−SNE 2</text>
<path d="M409.8 83.7h0M396.3 48.2h0M454.5 72.3h0M406.6 58.6h0M422.9 68.1h0M394.6 51.3h0M406.9 43.1h0M421.1 97.6h0M406.5 89.5h0M408.1 90.9h0M378.4 62.5h0M420.0 80.3h0M429.4 59.4h0M384.5 38.0h0M396.2 40.6h0M423.8 68.4h0M412.1 75.8h0M405.8 38.6h0M434.4 68.1h0M424.6 46.8h0M392.4 88.1h0M403.1 44.8h0M395.3 51.4h0M425.2 48.8h0M384.1 43.9h0M400.4 59.3h0M410.5 42.2h0M391.0 81.9h0M395.3 51.6h0M415.2 101.5h0M408.7 70.8h0M396.0 44.0h0M416.7 44.0h0M409.3 30.7h0M397.2 49.5h0M380.1 66.7h0M384.2 39.9h0M436.9 81.3h0M416.6 57.8h0M407.8 34.1h0M406.7 48.7h0M384.1 41.5h0M399.9 46.6h0M393.8 59.7h0M390.3 58.5h0M396.7 78.1h0M452.8 71.1h0M405.3 50.1h0M398.7 50.0h0M410.7 82.4h0M410.2 56.3h0M416.0 38.0h0M408.1 71.7h0M385.3 41.5h0M403.9 35.7h0M394.8 52.7h0M403.3 70.3h0M394.4 77.5h0M391.5 53.8h0M418.2 67.0h0M455.9 66.2h0M402.3 46.2h0M387.0 37.9h0M411.2 34.1h0M417.7 72.5h0M393.6 87.5h0M405.4 66.4h0M409.6 47.0h0M401.4 68.3h0M454.4 60.8h0M454.6 70.3h0M416.0 54.6h0M419.5 67.4h0M454.3 74.0h0M423.5 78.2h0M416.7 52.9h0M415.0 36.0h0M425.7 49.9h0M409.6 43.5h0M401.2 65.3h0M412.1 71.1h0M439.7 76.6h0M397.7 57.8h0M416.6 40.2h0M423.4 89.2h0M416.2 35.6h0M386.1 88.2h0M393.0 60.5h0M393.6 45.5h0M414.1 50.2h0M391.8 60.4h0M395.6 54.8h0M390.5 73.5h0M417.0 71.2h0M391.2 40.1h0M419.6 58.5h0M410.7 46.3h0M411.1 80.9h0M376.2 64.8h0M391.7 56.3h0M385.0 50.4h0M388.4 53.6h0M403.0 34.9h0M424.3 51.1h0M412.6 58.7h0M399.0 73.6h0M406.0 57.1h0M444.9 80.5h0M403.5 46.0h0M414.7 43.1h0M394.7 45.7h0M395.1 39.7h0M402.9 40.3h0M382.2 86.5h0M434.9 67.3h0M400.6 82.0h0M408.0 37.3h0M419.6 51.4h0M426.8 56.1h0M408.1 102.2h0M411.9 69.6h0M438.0 70.7h0M432.9 59.8h0M441.1 66.6h0M383.0 40.7h0M407.9 38.8h0M398.0 39.3h0M411.1 34.5h0M419.1 53.3h0M399.9 98.8h0M415.3 45.2h0M396.0 62.9h0M412.3 75.2h0M380.8 63.8h0M380.8 44.0h0M390.5 80.6h0M397.4 81.7h0M410.4 59.1h0M432.2 73.2h0M424.1 63.7h0M440.7 78.4h0M434.2 72.8h0M390.1 49.5h0M393.6 42.5h0M380.0 50.7h0M447.8 54.7h0M399.2 54.6h0M400.9 95.7h0M408.8 34.1h0M385.1 43.7h0M455.2 65.0h0M383.2 51.8h0M398.6 66.2h0M414.1 53.9h0M435.8 82.4h0M406.7 98.6h0M381.6 53.5h0M378.4 62.8h0M407.8 97.6h0M427.9 63.8h0M395.0 50.2h0M420.9 57.6h0M388.2 57.0h0M414.6 68.2h0M397.4 38.1h0M394.3 41.4h0M386.2 46.1h0M398.0 59.3h0M411.4 95.0h0M412.4 37.1h0M435.1 69.5h0M415.7 72.8h0M387.5 75.3h0M378.4 62.0h0M394.1 60.0h0M417.9 91.4h0M397.4 49.3h0M411.2 41.2h0M390.4 57.7h0M396.2 78.1h0M402.8 55.0h0M435.8 78.8h0M395.1 97.8h0M429.0 60.2h0M398.8 43.1h0M413.3 56.6h0M440.8 77.6h0M415.7 65.4h0M410.1 41.5h0M419.1 35.8h0M397.6 49.0h0M424.9 68.1h0M392.0 82.3h0M385.1 43.8h0M403.3 35.7h0M415.5 91.2h0M424.0 43.5h0M394.6 53.8h0M412.7 28.7h0M441.3 64.9h0M398.5 99.1h0M378.7 65.9h0M397.5 83.3h0M400.3 40.8h0M386.5 58.5h0M388.2 47.8h0M396.4 58.5h0M423.0 68.9h0M418.4 67.3h0M377.2 67.2h0M421.8 61.9h0M426.8 73.5h0M408.7 57.9h0M397.7 60.5h0M393.4 43.3h0M411.5 94.5h0M424.2 81.6h0M393.9 87.3h0M393.1 78.7h0M416.9 34.0h0M389.9 73.5h0M451.7 70.9h0M384.5 38.3h0M418.6 101.1h0M379.1 63.5h0M406.9 28.8h0M418.5 44.1h0M396.2 40.1h0M398.6 46.1h0M393.1 38.2h0M399.2 38.7h0M384.2 91.6h0M402.6 38.4h0M390.6 43.8h0M422.3 42.6h0M387.7 41.7h0M423.9 67.2h0M420.8 44.0h0M425.5 60.6h0M423.5 57.3h0M424.2 42.2h0M390.9 42.8h0M428.8 55.7h0M451.1 56.5h0M421.0 77.1h0M386.1 41.5h0M390.6 72.2h0M416.8 49.6h0M384.5 53.9h0M396.7 43.8h0M423.2 91.7h0M425.5 86.6h0M395.3 63.2h0M437.6 81.0h0M404.4 36.5h0M410.0 71.3h0M382.9 87.3h0M443.3 73.8h0M378.6 62.0h0M404.1 72.2h0M387.4 57.8h0M394.0 57.8h0M422.7 37.9h0M427.3 48.8h0M384.9 50.2h0M433.4 81.1h0M396.8 48.4h0M419.1 73.8h0M388.7 42.2h0M406.6 38.2h0M423.2 58.2h0M389.3 83.7h0M407.6 38.0h0M446.9 76.5h0M437.3 72.0h0M399.9 43.6h0M419.8 64.4h0M418.5 74.8h0M424.4 86.5h0M418.7 43.5h0M422.0 47.0h0M396.5 46.1h0M424.0 91.4h0M380.5 47.6h0M387.9 41.4h0M394.2 94.8h0M417.1 46.3h0M393.5 77.8h0M410.0 62.4h0M390.0 84.4h0M414.4 65.8h0M416.7 38.3h0M407.9 31.9h0M414.8 94.9h0M381.5 48.4h0M444.3 69.0h0M386.0 78.9h0M411.9 43.4h0M392.2 88.4h0M431.7 65.1h0M412.3 84.5h0M407.3 40.5h0M435.3 74.2h0M397.3 64.7h0M407.3 41.8h0M416.9 71.7h0M383.7 49.3h0M421.3 60.6h0M391.1 50.0h0M392.5 44.0h0M407.9 88.4h0M414.9 38.8h0M411.9 34.5h0M405.3 49.4h0M393.8 80.9h0M415.6 42.0h0M387.9 53.5h0M398.1 53.5h0M421.3 81.7h0M413.9 32.7h0M412.4 77.2h0M397.9 60.3h0M383.4 53.6h0M384.6 38.1h0M384.1 90.2h0M398.6 63.5h0M401.3 69.9h0M405.5 41.3h0M449.5 64.2h0M393.3 80.1h0M435.9 66.4h0M398.1 85.2h0M409.2 73.0h0M396.6 89.3h0M398.8 98.9h0M411.8 59.7h0M395.4 41.2h0M422.6 76.5h0M414.7 88.5h0M400.6 39.6h0M420.7 77.2h0M416.5 40.0h0M395.1 59.4h0M377.1 63.5h0M449.7 60.5h0M395.6 55.7h0M392.6 42.1h0M438.1 63.0h0M416.6 42.3h0M423.3 82.4h0M412.6 31.5h0M410.6 30.7h0M443.1 75.7h0M412.7 78.2h0M412.5 62.1h0M385.9 47.8h0M415.7 38.4h0M451.4 73.5h0M429.1 83.1h0M428.4 67.9h0M393.9 90.7h0M384.5 81.1h0M404.6 46.3h0M387.1 83.5h0M433.6 70.8h0M423.8 82.5h0M394.4 98.2h0M417.2 41.5h0M409.9 29.1h0M412.4 31.1h0M419.2 101.6h0M405.7 35.1h0M383.9 81.2h0M403.8 59.9h0M378.8 61.6h0M417.0 80.0h0M407.3 61.9h0M420.2 93.9h0M384.4 83.6h0M386.8 59.4h0M379.8 62.6h0M396.0 92.0h0M404.7 70.5h0M390.9 50.3h0M384.0 38.2h0M399.2 56.8h0M440.5 70.8h0M399.3 52.2h0M435.5 61.1h0M410.2 68.9h0M420.0 77.9h0M410.2 92.9h0M425.5 60.7h0M399.0 57.4h0M444.2 61.6h0M402.7 54.3h0M416.8 54.2h0M395.7 53.3h0M433.6 74.8h0M432.7 59.0h0M406.1 42.6h0M386.9 48.3h0M397.2 48.0h0M386.6 54.6h0M421.0 39.0h0M408.0 102.7h0M418.2 38.9h0M435.6 85.6h0M388.4 53.1h0M422.5 44.2h0M428.7 56.4h0M417.4 57.0h0M431.9 74.7h0M383.8 55.7h0M391.2 85.1h0M425.5 47.1h0M399.6 61.9h0M428.4 65.1h0M391.3 59.7h0M405.9 96.2h0M442.2 78.2h0M389.7 40.4h0M422.5 55.9h0M407.9 33.7h0M388.6 39.3h0M422.4 83.9h0M394.3 96.1h0M414.3 33.1h0M398.2 53.1h0M395.6 57.2h0M416.9 44.1h0M394.0 47.0h0M401.4 52.6h0M397.4 43.7h0M379.7 42.1h0M392.3 59.4h0M455.6 70.5h0M404.3 51.6h0M407.7 33.0h0M425.7 89.3h0M428.9 65.6h0M419.4 85.7h0M440.8 83.3h0M395.4 82.0h0M448.8 57.3h0M397.5 43.0h0M383.5 40.4h0M387.1 52.1h0M411.3 90.7h0M414.6 102.2h0M432.2 71.7h0M396.0 43.4h0M415.5 70.5h0M409.9 33.0h0M392.4 45.1h0M432.1 69.7h0M440.6 82.9h0M384.7 50.2h0M388.7 83.4h0M422.3 63.0h0M409.2 88.9h0M383.9 39.4h0M423.7 50.4h0M384.0 51.4h0M436.9 78.5h0M423.8 85.9h0M420.5 47.5h0M416.1 75.9h0M427.7 62.3h0M400.8 39.6h0M402.7 37.3h0M407.5 73.8h0M397.0 48.8h0M422.2 70.8h0M450.8 61.7h0M399.6 92.1h0M405.9 41.7h0M394.4 44.4h0M398.4 57.9h0M444.3 73.3h0M383.1 47.8h0M410.9 41.3h0M448.3 68.8h0M416.3 101.3h0M407.0 98.4h0M394.9 75.6h0M417.5 73.0h0M420.0 37.8h0M410.6 36.9h0M415.6 35.5h0M412.3 100.8h0M436.5 84.2h0M395.6 50.8h0M452.6 59.5h0M410.7 46.6h0M404.2 35.8h0M389.4 43.9h0M411.9 41.4h0M411.6 77.5h0M419.8 43.1h0M398.4 56.2h0M388.6 36.4h0M409.2 55.6h0M421.4 92.6h0M450.6 64.2h0M407.0 38.2h0M407.7 69.8h0M385.2 85.1h0M453.0 60.5h0M410.3 91.6h0M417.9 40.2h0M395.1 97.8h0M418.7 35.5h0M397.1 44.6h0M394.4 58.9h0M397.7 77.4h0M391.5 87.3h0M387.4 90.5h0M443.1 65.0h0M415.4 38.9h0M409.7 42.2h0M418.3 50.4h0M428.4 78.9h0M416.5 91.1h0M396.9 41.4h0M404.4 52.7h0M423.7 52.9h0M393.5 45.8h0M422.6 68.4h0M415.4 87.8h0M383.6 49.5h0M450.7 64.3h0M394.0 86.4h0M384.1 82.1h0M393.0 97.1h0M415.5 87.1h0M416.9 37.0h0M395.5 42.0h0M390.3 75.2h0M395.7 46.4h0M415.7 48.2h0M396.2 62.9h0M433.7 73.2h0M415.9 42.3h0M420.7 85.1h0M401.9 54.5h0M388.1 95.0h0M399.0 65.1h0M389.7 56.4h0M415.0 32.6h0M419.7 97.3h0M393.3 40.1h0M425.7 75.0h0M400.2 58.1h0M399.7 89.1h0M388.2 76.1h0M408.0 91.2h0M409.5 45.9h0M418.1 43.2h0M420.1 42.9h0M406.9 42.0h0M445.5 56.3h0M404.7 97.8h0M383.3 39.9h0M390.6 87.2h0M419.0 45.6h0M425.9 64.1h0M417.3 50.7h0M391.1 73.0h0M421.7 60.1h0M417.5 85.5h0M399.2 89.8h0M422.5 81.4h0M400.9 37.4h0M411.5 79.4h0M418.3 73.0h0M432.4 76.4h0M422.2 78.4h0M385.8 53.8h0M407.0 51.3h0M426.6 44.6h0M413.5 59.4h0M392.3 85.3h0M455.6 70.0h0M414.9 35.5h0M413.9 43.8h0M383.3 84.9h0M423.8 54.8h0M398.0 54.5h0M418.7 40.1h0M411.3 53.5h0M390.4 48.2h0M395.7 86.0h0M411.0 48.3h0M396.3 48.3h0M407.3 51.1h0M376.4 64.6h0M425.8 71.9h0M418.5 42.3h0M410.6 40.0h0M456.0 62.5h0M402.6 34.3h0M442.9 72.2h0M451.9 62.6h0M390.8 58.7h0M450.5 74.0h0M398.2 62.4h0M416.6 35.4h0M407.4 90.4h0M425.4 85.3h0M433.0 58.5h0M432.5 78.3h0M385.8 55.2h0M407.7 34.9h0M420.3 94.2h0M402.8 39.6h0M426.1 89.7h0M387.7 45.6h0M389.4 42.6h0M401.1 101.2h0M403.1 70.1h0M422.6 47.6h0M395.3 96.8h0M382.5 38.7h0M399.8 93.4h0M391.2 82.7h0M448.7 73.0h0M414.2 37.8h0M415.8 41.5h0M415.8 37.2h0M414.3 75.1h0M425.2 43.6h0M425.7 59.5h0M450.3 66.0h0M413.7 73.9h0M400.0 87.1h0M388.1 54.7h0M387.5 76.5h0M417.8 51.3h0M449.2 60.5h0M387.7 46.2h0M397.7 96.5h0M444.3 68.3h0M392.8 70.5h0M413.2 89.6h0M388.7 41.7h0M452.5 69.1h0M402.8 66.3h0M398.1 88.6h0M398.9 42.2h0M445.5 73.6h0M388.3 48.1h0M421.8 57.2h0M406.7 46.9h0M392.4 96.8h0M455.5 67.8h0M439.8 79.9h0M389.1 84.8h0M421.3 94.8h0M383.7 55.2h0M421.1 83.2h0M412.7 90.0h0M410.2 40.0h0M420.9 100.6h0M386.2 51.3h0M413.9 72.8h0M413.7 32.1h0M411.5 32.9h0M410.4 85.9h0M385.8 40.9h0M390.9 40.7h0M392.5 37.5h0M383.3 50.0h0M414.6 75.3h0M420.7 92.5h0M383.3 40.5h0M381.5 52.6h0M442.1 79.0h0M391.3 46.8h0M387.5 54.3h0M379.1 64.5h0M418.0 42.0h0M405.8 99.1h0M388.4 75.9h0M418.4 71.3h0M377.4 66.0h0M401.9 70.3h0M391.7 93.5h0M408.8 44.3h0M445.1 69.4h0M417.2 34.5h0M423.8 47.1h0M441.3 75.7h0M406.2 102.7h0M455.8 69.8h0M410.8 30.3h0M415.3 53.1h0M417.9 35.6h0M394.8 84.9h0M391.1 42.3h0M416.7 41.6h0M412.8 63.5h0M431.9 84.1h0M415.9 59.8h0M391.0 41.1h0M376.2 65.0h0M384.6 81.0h0M396.9 78.6h0M395.6 61.5h0M383.2 50.1h0M387.7 84.8h0M394.2 46.7h0M385.7 40.9h0M406.5 42.4h0M421.0 51.5h0M423.7 85.1h0M406.3 94.9h0M455.0 66.8h0M402.0 57.6h0M438.4 75.4h0M384.0 82.1h0M395.7 86.6h0M418.1 53.5h0M398.6 83.2h0M417.7 44.7h0M387.1 58.7h0M450.5 56.7h0M396.8 93.8h0M418.6 99.5h0M420.7 40.4h0M443.2 65.3h0M423.3 80.6h0M409.2 94.8h0M408.7 51.6h0M377.7 66.7h0M408.6 79.9h0M390.1 55.9h0M399.7 43.3h0M418.5 37.2h0M398.5 49.1h0M389.4 56.8h0M396.5 71.5h0M448.5 67.0h0M383.2 49.9h0M401.1 57.5h0M416.0 34.7h0M421.0 85.3h0M411.7 30.2h0M418.6 67.3h0M421.8 73.8h0M397.1 51.2h0M396.5 53.1h0M413.3 48.1h0M437.2 79.2h0M383.3 45.9h0M413.5 97.7h0M416.5 100.8h0M428.0 50.9h0M417.2 65.4h0M402.3 43.8h0M407.4 41.0h0M418.0 49.3h0M433.3 69.5h0M446.0 74.7h0M397.7 51.3h0M412.4 38.8h0M417.7 75.1h0M416.4 65.3h0M389.9 56.8h0M447.3 60.9h0M429.9 84.0h0M415.2 72.0h0M414.1 31.5h0M404.8 60.4h0M391.5 59.9h0M409.3 34.8h0M429.2 76.6h0M409.9 89.4h0M404.2 39.2h0M415.4 93.1h0M408.6 32.6h0M396.7 52.5h0M411.4 42.1h0M456.3 64.4h0M411.4 44.8h0M414.8 30.7h0M425.8 54.3h0M393.1 83.7h0M384.9 55.4h0M427.0 83.1h0M416.3 87.5h0M394.7 80.1h0M454.6 60.7h0M421.2 49.2h0M423.8 45.6h0M403.9 102.0h0M411.1 41.2h0M382.5 40.5h0M382.0 52.2h0M399.3 83.0h0M419.2 78.2h0M451.2 70.1h0M386.6 43.5h0M391.2 42.8h0M397.4 50.1h0M394.7 98.5h0M435.5 60.0h0M387.3 54.9h0M407.3 52.2h0M453.0 69.3h0M410.0 61.2h0M428.3 83.9h0M429.2 54.0h0" stroke="#2ea5dd" stroke-width="1.16" stroke-linecap="round" fill="none" opacity="0.78"/>
<path d="M409.3 83.4h0M433.7 67.3h0M428.0 72.4h0M453.3 73.9h0M397.1 50.8h0M456.0 68.9h0M425.5 45.9h0M424.5 50.8h0M439.4 64.0h0M443.8 55.7h0M401.4 53.0h0M428.5 84.0h0M420.9 76.0h0M415.9 80.0h0M440.7 57.7h0M436.2 74.5h0M394.4 52.3h0M394.0 60.2h0M415.5 56.5h0M433.6 73.4h0M404.1 68.9h0M409.1 41.5h0M411.3 71.8h0M418.3 47.7h0M395.1 95.6h0M453.6 67.0h0M390.2 81.3h0M421.6 92.8h0M382.8 84.1h0M412.9 61.3h0M410.6 47.3h0M384.3 88.8h0M399.7 79.4h0M386.9 57.1h0M412.2 77.1h0M437.0 69.9h0M417.8 55.3h0M401.5 41.4h0M419.3 63.5h0M387.6 53.2h0M420.8 45.0h0M424.3 66.6h0M447.3 59.1h0M415.8 56.6h0M399.2 38.1h0M420.9 88.2h0M453.7 60.7h0M406.8 61.4h0M457.1 70.8h0M455.9 62.3h0M408.7 76.1h0M442.1 60.6h0M383.7 38.0h0M405.0 61.8h0M412.4 33.5h0M408.0 72.9h0M417.6 73.8h0M408.5 83.5h0M421.4 76.5h0M406.3 52.5h0M405.0 101.2h0M414.9 38.7h0M414.4 52.7h0M426.1 89.8h0M416.7 34.9h0M394.6 85.8h0M397.4 95.9h0M449.5 75.1h0M432.9 84.5h0M391.6 83.1h0M418.7 88.8h0M414.6 93.4h0M403.4 42.6h0M420.6 72.2h0M392.5 54.2h0M401.4 44.5h0M396.4 99.2h0M408.0 47.0h0M392.4 92.8h0M415.0 72.1h0M448.6 61.3h0M422.2 94.3h0M407.6 30.5h0M410.1 29.3h0M389.2 76.7h0M421.8 73.8h0M406.3 39.1h0M391.1 84.2h0M422.3 68.2h0M444.9 79.1h0M388.4 94.7h0M413.5 62.7h0M457.0 67.1h0M428.0 57.3h0M405.6 94.8h0M412.0 57.2h0M411.4 94.3h0M426.5 86.1h0M387.4 80.6h0M415.1 42.7h0M389.9 53.0h0M394.3 81.9h0M421.8 41.3h0M411.2 97.8h0M411.0 71.9h0M417.2 53.1h0M415.1 88.2h0M452.2 60.6h0M391.3 78.3h0M408.5 43.5h0M413.2 90.8h0M386.9 83.2h0M397.6 43.1h0M419.2 71.7h0M405.7 98.0h0M391.9 92.4h0M452.9 73.3h0M399.7 81.3h0M406.6 73.3h0M425.4 84.6h0M414.9 46.3h0M406.1 42.0h0M396.7 86.6h0M410.4 49.2h0M402.1 62.6h0M430.2 61.8h0M427.2 83.3h0M391.2 73.2h0M406.5 70.9h0M423.9 81.1h0M415.7 89.0h0M438.8 76.7h0M396.5 75.0h0M402.6 58.0h0M420.9 56.7h0M411.6 32.5h0M421.0 45.0h0M406.2 101.3h0M448.5 62.0h0M392.3 39.6h0M425.4 66.4h0M398.4 91.3h0M440.0 64.7h0M400.1 35.9h0M410.1 98.0h0M428.2 78.6h0M416.6 42.9h0M437.8 77.7h0M422.5 51.2h0M396.9 84.0h0M395.4 38.3h0M415.4 37.0h0M452.4 57.3h0M403.1 98.0h0M406.6 49.3h0M407.9 56.3h0M415.0 93.1h0M439.6 57.2h0M421.4 73.0h0M442.3 60.3h0M405.3 60.6h0M392.2 49.3h0M409.6 55.0h0M398.2 97.2h0M438.3 81.8h0M434.8 72.1h0M444.0 72.4h0M397.3 53.5h0M402.1 39.6h0M387.1 95.7h0M453.8 67.2h0M414.0 75.5h0M412.5 102.2h0M419.2 69.8h0M451.1 57.6h0M410.8 78.0h0M396.3 43.1h0M434.8 75.0h0M434.8 82.6h0M381.4 82.6h0M427.0 65.4h0M398.4 87.9h0M451.6 71.3h0M419.8 48.8h0M412.2 96.1h0M411.2 83.9h0M411.7 49.7h0M400.4 60.8h0M393.2 80.4h0M414.8 52.6h0M400.3 88.5h0M411.5 78.1h0M384.6 52.4h0M385.9 89.2h0M431.4 84.4h0M393.9 63.6h0M418.3 37.7h0M438.3 64.3h0M421.2 88.7h0M426.0 73.0h0M407.3 51.7h0M433.9 64.3h0M416.7 70.0h0M442.2 62.9h0M398.8 97.5h0M389.6 44.5h0M381.7 41.2h0M434.4 64.5h0M424.2 81.9h0M440.2 77.7h0M439.9 65.8h0M441.2 67.3h0M425.1 46.9h0M444.3 73.9h0M432.4 61.8h0M442.7 67.5h0M409.8 29.8h0M384.1 46.4h0M426.7 75.9h0M414.3 81.7h0M389.2 44.8h0M399.4 76.1h0M424.8 86.1h0M385.0 86.8h0M417.6 74.9h0M433.2 83.4h0M423.1 73.3h0M410.1 44.7h0M393.2 61.5h0M402.4 99.7h0M378.1 66.9h0M406.8 70.4h0M422.6 67.6h0M426.9 52.6h0M440.2 65.8h0M383.8 83.7h0M409.6 65.7h0M417.3 102.6h0M431.3 79.9h0M438.4 62.7h0M400.3 100.9h0M411.5 96.0h0M413.4 92.3h0M399.2 62.6h0M423.8 95.8h0M409.5 54.0h0M448.1 68.0h0M390.0 41.4h0M418.7 47.0h0M406.8 64.4h0M413.2 93.1h0M411.8 81.6h0M430.3 78.2h0M424.7 48.7h0M420.5 89.5h0M424.5 67.2h0M418.0 102.8h0M423.8 81.5h0M384.1 85.7h0M425.5 67.6h0M455.5 70.5h0M388.1 93.9h0M452.3 71.7h0M412.9 49.5h0M411.7 43.5h0M428.8 84.8h0M454.6 61.0h0M403.9 101.2h0M420.7 58.4h0M392.0 88.8h0M387.1 54.3h0M436.7 80.6h0M413.4 67.2h0M409.2 98.1h0M393.3 45.1h0M397.9 82.0h0M394.0 76.8h0M419.2 78.0h0M427.8 66.2h0M414.8 49.7h0M407.5 48.6h0M409.1 50.4h0M435.0 78.5h0M434.2 73.3h0M425.2 82.1h0M387.0 95.4h0M381.0 53.0h0M387.4 52.7h0M418.5 97.1h0M424.3 81.5h0M437.3 67.9h0M420.0 40.0h0M401.1 63.2h0M411.6 97.0h0M384.9 43.1h0M415.0 73.1h0M394.0 40.5h0M398.1 72.3h0M412.7 37.9h0M456.4 67.2h0M376.0 66.2h0M384.3 81.3h0M425.6 53.5h0M407.8 44.9h0M421.9 61.4h0M451.1 64.6h0M434.6 69.5h0M411.2 39.7h0M390.0 91.4h0M394.1 49.9h0M413.9 94.6h0M390.4 45.1h0M409.7 35.6h0M397.7 46.4h0M412.9 68.3h0M401.9 47.5h0M416.9 36.3h0M407.1 60.1h0M400.9 62.0h0M403.7 98.3h0M392.7 79.5h0M382.3 63.2h0M411.6 59.7h0M413.0 83.1h0M398.1 98.1h0M414.4 74.8h0M425.0 72.8h0M383.4 85.8h0M417.7 57.4h0M417.0 94.0h0M409.4 32.6h0M419.9 64.8h0M421.8 49.3h0M410.8 65.6h0M446.9 59.8h0M412.5 56.4h0M443.4 57.8h0M425.4 71.6h0M448.9 67.4h0M376.3 61.7h0M409.4 97.6h0M401.1 92.5h0M423.1 42.4h0M433.2 85.7h0M394.8 40.8h0M406.6 64.1h0M391.9 75.5h0M448.5 75.5h0M445.7 61.2h0M421.7 75.8h0M386.2 89.6h0M418.4 87.8h0M384.7 41.3h0M388.9 92.8h0M414.9 37.6h0M455.4 70.7h0M410.0 45.9h0M395.7 86.1h0M440.1 68.0h0M441.7 77.4h0M435.2 77.5h0M404.0 58.1h0M420.7 70.8h0M435.6 80.7h0M390.1 38.5h0M425.3 69.4h0M408.1 69.4h0M436.9 80.6h0M418.2 60.2h0M413.8 80.1h0M435.1 57.7h0M418.8 45.9h0M411.4 48.2h0M410.0 44.3h0M396.2 61.2h0M440.4 67.2h0M448.4 66.0h0M408.3 58.9h0M420.4 99.2h0M413.6 80.9h0M382.0 40.7h0M417.0 86.9h0M399.3 82.5h0M400.6 65.8h0M412.2 44.8h0M403.4 70.5h0M387.8 91.9h0M437.9 62.1h0M407.0 91.5h0M395.5 58.0h0M412.3 100.2h0M392.4 94.1h0M389.5 48.2h0M386.2 79.5h0M408.0 48.5h0M403.4 66.3h0M401.3 49.1h0M396.3 75.2h0M423.7 93.0h0M391.9 96.7h0M440.4 66.7h0M422.7 52.2h0M419.0 71.1h0M409.5 64.3h0M387.6 39.4h0M442.7 57.1h0M412.6 84.8h0M443.3 76.9h0M442.5 74.5h0M399.9 50.0h0M418.2 83.1h0M417.3 98.0h0M422.6 39.8h0M419.3 51.5h0M444.1 79.1h0M429.5 61.4h0M407.5 48.7h0M391.7 86.4h0M408.6 29.4h0M427.6 53.5h0M413.7 85.0h0M414.5 84.1h0M404.4 63.6h0M420.3 86.2h0M452.6 62.2h0M399.6 84.6h0M420.4 96.9h0M410.9 76.9h0M420.5 92.5h0M389.1 81.0h0M434.4 64.0h0M418.1 62.3h0M385.6 56.3h0M413.5 54.0h0M397.1 43.6h0M422.4 88.5h0M408.2 64.4h0M456.2 70.7h0M388.2 89.9h0M408.4 100.4h0M406.3 67.1h0M416.0 57.5h0M436.2 63.3h0M411.2 59.8h0M402.7 65.0h0M423.7 77.5h0M421.8 88.2h0M398.2 83.4h0M406.1 46.1h0M384.5 77.6h0M404.5 54.9h0M448.1 65.2h0M386.9 39.3h0M440.9 57.3h0M398.3 84.3h0M411.5 67.6h0M437.2 64.7h0M442.2 71.4h0M392.6 91.5h0M410.2 57.5h0M391.7 98.2h0M422.7 86.7h0M413.8 98.3h0M398.5 49.8h0M390.4 93.1h0M423.2 66.2h0M440.7 64.8h0M403.7 52.3h0M401.4 51.7h0M376.7 64.9h0M417.0 82.0h0M440.2 73.1h0M446.5 65.4h0M401.0 37.7h0M397.9 72.9h0M438.1 79.5h0M422.9 93.1h0M416.3 77.6h0M425.3 59.7h0M409.4 50.2h0M395.1 77.4h0M421.4 71.5h0M439.4 74.5h0M431.4 61.9h0M400.1 48.2h0M446.5 70.9h0M401.9 47.8h0M425.6 64.8h0M419.2 66.4h0M439.6 80.5h0M423.1 49.7h0M425.6 50.2h0M443.0 67.5h0M440.6 67.0h0M403.6 67.8h0M417.9 96.0h0M415.8 80.8h0M424.6 89.3h0M385.8 84.7h0M415.8 101.9h0M408.2 40.2h0M424.8 84.2h0M425.9 62.9h0M438.3 81.2h0M420.5 76.2h0M416.1 103.0h0M387.8 59.4h0M453.9 60.5h0M388.6 82.4h0M408.3 82.6h0M401.0 69.7h0M408.3 34.4h0M392.9 91.4h0M437.6 68.6h0M408.6 72.7h0M443.3 65.5h0M411.7 36.8h0M426.0 71.8h0M453.4 70.1h0M432.8 60.5h0M403.0 49.2h0M387.1 93.2h0M450.4 68.2h0M450.1 58.7h0M385.4 91.1h0M429.1 80.0h0M390.4 75.0h0M433.4 68.8h0M417.9 69.7h0M418.2 53.0h0M400.8 97.1h0M433.2 71.2h0M408.4 61.0h0M401.1 101.0h0M437.5 73.8h0M391.0 38.9h0M422.3 85.8h0M439.2 66.2h0M441.3 56.7h0M430.6 81.3h0M414.0 92.3h0M414.5 66.6h0M412.7 72.0h0M391.7 93.2h0M427.3 74.6h0M385.1 56.3h0M400.7 87.0h0M416.2 31.5h0M391.1 92.0h0M419.6 79.3h0M430.9 84.8h0M390.9 38.5h0M438.2 74.8h0M449.7 65.3h0M388.7 39.0h0M445.1 77.9h0M392.1 97.9h0M399.3 95.1h0M416.9 61.4h0M438.2 57.6h0M403.3 45.4h0M407.0 100.4h0M415.5 62.9h0M410.5 43.9h0M388.5 47.9h0M386.9 89.9h0M435.4 64.2h0M404.0 55.7h0M453.1 58.6h0M392.6 54.7h0M423.4 89.8h0M399.8 47.5h0M441.7 67.2h0M419.0 48.9h0M439.6 84.6h0M401.1 63.9h0M414.9 74.9h0M428.9 71.6h0M439.2 59.9h0M391.3 50.1h0M424.9 57.0h0M399.4 54.1h0M374.5 66.6h0M392.0 48.7h0M399.4 44.4h0M436.4 81.8h0M412.5 81.4h0M422.7 48.9h0M416.4 44.8h0M396.7 45.6h0M423.5 48.7h0M415.2 81.9h0M439.7 61.4h0M405.5 59.3h0M411.2 97.1h0M398.3 65.2h0M421.4 88.4h0M436.0 68.0h0M435.4 59.7h0M452.8 69.7h0M442.7 77.3h0M405.1 34.5h0M442.9 77.4h0M443.2 72.2h0M423.9 50.8h0M436.3 65.9h0M399.8 53.9h0M423.0 70.3h0M420.0 64.1h0M414.2 30.1h0M423.0 85.1h0M418.1 47.6h0M393.4 40.5h0M448.6 62.8h0M413.7 56.7h0M401.3 35.8h0M412.0 63.3h0M383.5 80.7h0M436.7 58.5h0M414.8 87.3h0M439.0 79.9h0M411.0 101.6h0M384.9 40.3h0M408.3 89.0h0M432.6 81.9h0M397.2 86.6h0M411.3 45.1h0M444.5 69.0h0M443.6 75.9h0M398.1 59.6h0M415.9 54.2h0M440.2 65.9h0M404.6 100.5h0M422.2 91.3h0M428.3 52.7h0M399.2 45.9h0M418.8 37.1h0M385.6 92.5h0M427.0 83.0h0M421.3 60.7h0M440.0 77.5h0M406.0 47.2h0M418.5 67.9h0M426.4 51.7h0M455.7 59.9h0M396.8 88.9h0M389.0 80.0h0M414.7 94.4h0M402.2 48.1h0M400.0 99.6h0M415.1 30.4h0M404.1 70.2h0M415.2 38.4h0M413.2 66.6h0M407.8 93.8h0M392.4 72.8h0M413.2 84.2h0M430.2 53.2h0M439.3 61.8h0M425.8 65.1h0M417.6 101.1h0M407.9 65.2h0M411.2 103.7h0M416.1 46.1h0M411.7 85.5h0M426.4 83.5h0M422.8 58.1h0M414.4 53.2h0M420.1 80.4h0M418.8 57.8h0M419.5 52.3h0M377.7 66.1h0M431.0 79.9h0M417.6 57.8h0M398.5 36.6h0M425.5 57.5h0M388.8 41.5h0M377.5 63.8h0M452.1 62.4h0M405.6 58.1h0M394.2 76.6h0M425.4 72.4h0M417.2 81.9h0M416.4 89.1h0M397.2 93.0h0M402.4 45.7h0M413.5 40.3h0M403.5 62.2h0M445.0 76.8h0M399.6 55.2h0M425.1 48.0h0M408.1 89.5h0M417.2 34.1h0M434.2 70.8h0M446.2 55.8h0M397.5 62.2h0M439.8 72.7h0M410.9 68.3h0M412.5 57.6h0M377.8 65.6h0M416.5 88.1h0M440.9 60.7h0M418.2 81.1h0M416.3 82.9h0M417.4 70.5h0M452.3 59.0h0M390.0 48.7h0M441.2 83.0h0M422.5 81.0h0M410.3 51.6h0M392.0 41.8h0M400.4 62.6h0M418.1 35.2h0M402.9 68.5h0M403.4 64.1h0M419.6 98.3h0M403.8 49.2h0M395.3 98.9h0M447.5 59.8h0M426.1 67.1h0M399.7 87.3h0M411.9 33.9h0M404.2 39.7h0M400.6 62.5h0M417.7 65.4h0M421.9 59.0h0M448.4 55.9h0M393.1 84.3h0M425.9 68.2h0M452.3 57.1h0M435.8 58.2h0M400.1 50.7h0M443.8 77.4h0M410.2 89.9h0M391.1 89.3h0M421.4 92.0h0M417.7 67.3h0M410.7 47.0h0M442.3 70.1h0M407.1 50.6h0M439.8 76.1h0M401.3 39.8h0M397.5 64.9h0M410.4 36.0h0M434.4 76.3h0M418.1 70.8h0M419.0 72.4h0M397.6 81.5h0M410.6 68.5h0M395.5 85.8h0M421.0 42.7h0M390.4 79.0h0M401.8 59.5h0M436.8 63.7h0M393.0 78.6h0M411.2 96.4h0M440.7 81.3h0M382.2 41.6h0M417.1 93.3h0M398.4 90.3h0M413.2 57.7h0M389.9 81.3h0M411.5 62.7h0M388.8 82.2h0M423.0 49.1h0M406.2 53.6h0M447.1 56.9h0M410.4 31.6h0M450.6 67.6h0M396.1 72.8h0M413.6 59.2h0M419.8 55.5h0M411.4 91.2h0M409.3 87.4h0M399.7 62.5h0M418.2 34.6h0M410.0 95.9h0M389.9 45.4h0M452.8 59.4h0M408.0 58.1h0M425.5 63.6h0M391.2 81.0h0M397.9 59.5h0M423.9 41.9h0M420.4 52.7h0M396.2 96.9h0M433.5 61.5h0M387.4 41.1h0M400.5 88.2h0M395.5 40.5h0M401.3 68.9h0M427.9 55.6h0M396.3 52.0h0M432.7 60.1h0M397.9 57.3h0M411.0 59.4h0M439.7 66.8h0M424.4 82.6h0M408.9 90.0h0M423.0 49.3h0M419.0 61.4h0M413.1 68.8h0M439.1 68.5h0M452.6 70.5h0M393.4 95.5h0M434.9 64.6h0M388.7 91.0h0M411.6 74.5h0M412.4 35.1h0M391.1 89.2h0M443.2 55.7h0M406.9 97.7h0M451.5 67.4h0M390.9 56.3h0M393.9 60.7h0M411.8 53.1h0M405.4 62.9h0M398.4 99.1h0M421.6 96.3h0M414.5 91.9h0M407.0 33.7h0M411.1 89.9h0M382.2 51.2h0M396.0 41.0h0M447.7 76.2h0M432.4 63.5h0M428.7 56.3h0M410.9 85.8h0M405.2 44.6h0M391.3 60.4h0M391.9 37.1h0M412.8 46.4h0M409.3 69.0h0M416.4 81.3h0M421.0 80.0h0M389.5 50.1h0M437.8 69.3h0M424.5 46.3h0M418.3 54.3h0M433.4 79.1h0M448.9 56.1h0M434.5 64.6h0M429.5 64.5h0M416.7 33.2h0M452.4 69.5h0M395.3 91.9h0M394.1 88.5h0M411.7 69.0h0M445.2 61.1h0M419.7 56.7h0M421.4 97.2h0M426.2 79.3h0M399.1 99.4h0M381.8 41.7h0M403.2 53.0h0M395.2 58.3h0M401.2 45.1h0M407.9 56.1h0M418.8 85.5h0M416.0 80.1h0M398.4 56.9h0M397.1 51.2h0M387.4 76.5h0M384.9 81.0h0M425.8 48.6h0M397.6 59.8h0M415.6 63.2h0M402.1 55.0h0M413.0 70.3h0M406.2 62.1h0M435.8 64.1h0" stroke="#aa5cb6" stroke-width="1.16" stroke-linecap="round" fill="none" opacity="0.78"/>
<path d="M409.4 90.0h0M425.5 80.1h0M390.9 83.4h0M457.1 70.0h0M409.7 59.9h0M391.6 75.3h0M407.7 51.2h0M420.6 99.3h0M422.3 93.2h0M413.2 96.0h0M399.2 97.4h0M440.4 81.9h0M437.3 60.1h0M408.6 72.5h0M421.4 98.1h0M391.1 80.0h0M413.7 31.2h0M399.8 53.3h0M405.3 49.5h0M400.4 100.5h0M428.7 51.4h0M446.1 72.1h0M455.7 71.9h0M393.2 59.2h0M436.8 57.4h0M436.0 68.9h0M422.2 80.0h0M410.8 103.5h0M426.3 72.5h0M389.0 46.5h0M448.5 64.8h0M406.1 97.4h0M390.0 94.3h0M425.5 54.1h0M433.0 79.0h0M394.8 98.5h0M430.9 67.1h0M423.9 60.5h0M425.6 84.9h0M410.2 93.6h0M448.2 61.4h0M430.0 81.9h0M382.0 38.0h0M408.5 44.9h0M406.7 99.3h0M451.1 68.5h0M410.6 91.6h0M450.9 75.8h0M444.1 79.4h0M377.2 66.0h0M411.2 71.0h0M410.1 46.6h0M422.3 91.5h0M416.1 38.7h0M399.6 82.7h0M407.4 102.5h0M450.0 55.2h0M395.6 87.3h0M433.0 81.1h0M436.1 59.1h0M449.5 61.0h0M442.6 81.3h0M420.3 95.9h0M425.5 55.5h0M398.7 79.1h0M430.7 85.6h0M401.0 39.4h0M408.8 65.5h0M388.0 59.0h0M387.7 76.0h0M390.3 88.1h0M435.9 79.5h0M376.9 62.4h0M401.4 63.0h0M407.8 48.2h0M384.5 86.7h0M451.2 65.2h0M418.6 46.8h0M435.9 59.1h0M392.7 53.4h0M417.7 102.0h0M414.8 80.2h0M433.9 77.5h0M398.0 78.2h0M414.4 34.7h0M426.4 87.8h0M395.0 84.1h0M447.6 55.2h0M395.4 74.4h0M424.6 64.6h0M426.2 83.3h0M445.1 80.4h0M383.2 85.9h0M422.7 92.3h0M426.8 78.0h0M404.4 37.9h0M415.6 47.9h0M438.5 60.5h0M389.6 92.8h0M420.8 45.6h0M424.3 46.2h0M432.1 65.4h0M446.2 54.8h0M439.8 72.2h0M404.7 98.4h0M397.8 82.8h0M414.3 30.1h0M447.2 68.5h0M434.4 69.9h0M412.1 88.2h0M403.3 55.9h0M449.1 62.5h0M396.3 63.2h0M390.0 53.8h0M411.4 50.4h0M421.7 83.7h0M439.5 61.0h0M442.5 82.1h0M393.0 85.6h0M408.3 59.2h0M424.2 69.2h0M445.0 69.6h0M399.7 97.5h0M417.5 69.0h0M403.7 52.5h0M399.6 41.3h0M417.6 46.0h0M407.3 34.7h0M426.9 74.7h0M416.8 32.6h0M432.7 59.6h0M439.7 69.0h0M419.5 57.6h0M407.4 92.9h0M422.4 96.1h0M438.9 66.9h0M437.5 83.7h0M385.9 89.8h0M446.4 74.7h0M389.6 88.3h0M383.5 88.0h0M452.0 60.4h0M444.1 78.6h0M445.3 63.6h0M388.5 52.9h0M417.4 83.6h0M412.8 38.6h0M426.9 71.0h0M421.7 92.4h0M425.4 91.3h0M449.2 77.2h0M379.8 64.2h0M426.1 83.7h0M415.6 96.5h0M434.2 61.6h0M424.6 92.9h0M412.5 99.1h0M446.4 69.3h0M424.6 53.9h0M398.2 64.6h0M407.6 72.8h0M415.4 60.9h0M441.1 82.4h0M407.3 84.4h0M407.6 93.4h0M412.8 85.1h0M438.5 63.9h0M427.4 63.7h0M425.9 58.7h0M443.9 57.0h0M413.0 85.4h0M406.8 45.1h0M392.2 83.2h0M445.4 80.3h0M396.3 71.7h0M421.3 92.5h0M378.5 63.0h0M394.5 72.5h0M413.8 46.5h0M445.3 56.4h0M389.2 88.2h0M404.9 46.3h0M424.3 83.8h0M421.3 50.8h0M416.0 44.8h0M401.9 47.5h0M398.2 84.5h0M398.2 75.1h0M433.1 74.4h0M455.1 64.1h0M398.8 52.1h0M441.0 72.0h0M378.0 64.4h0M386.3 90.5h0M437.0 68.7h0M419.6 102.1h0M454.3 59.5h0M405.2 42.8h0M420.7 69.7h0M422.1 91.0h0M433.6 84.0h0M442.6 67.7h0M405.4 97.5h0M407.6 70.0h0M419.7 60.7h0M420.9 50.7h0M440.6 56.9h0M417.9 46.9h0M390.4 74.1h0M386.5 80.9h0M443.4 57.9h0M395.5 74.6h0M395.0 91.0h0M391.4 81.8h0M416.9 59.6h0M433.8 67.8h0M391.8 77.7h0M444.8 66.9h0M395.6 83.8h0M446.2 78.4h0M406.3 101.4h0M456.3 63.4h0M412.8 76.5h0M421.4 37.1h0M399.8 85.0h0M410.7 88.4h0M392.6 71.0h0M394.0 83.5h0M416.7 47.9h0M427.6 48.8h0M398.4 37.7h0M392.6 78.1h0M412.9 35.6h0M377.3 64.8h0M437.3 69.9h0M380.9 45.5h0M391.9 54.9h0M419.7 70.2h0M427.4 62.7h0M439.7 74.6h0M414.7 91.5h0M393.5 81.4h0M416.9 91.8h0M408.7 55.7h0M391.6 98.0h0M396.4 83.7h0M406.3 91.1h0M409.0 74.0h0M402.1 64.8h0M439.9 59.2h0M392.6 87.2h0M436.1 76.1h0M405.0 62.4h0M386.4 95.8h0M399.3 46.0h0M391.5 56.1h0M394.6 63.0h0M438.2 74.6h0M421.1 68.4h0M398.4 49.3h0M422.6 77.4h0M406.2 99.9h0M450.5 71.3h0M441.8 82.5h0M424.6 67.6h0M404.3 98.0h0M413.4 46.2h0M414.5 73.2h0M444.0 59.1h0M389.6 93.2h0M443.5 60.8h0M416.1 89.8h0M392.3 95.1h0M410.1 97.9h0M402.0 97.3h0M414.7 98.2h0M451.5 62.1h0M419.1 81.2h0M421.6 71.1h0M439.2 68.4h0M426.9 45.7h0M418.7 92.6h0M407.4 89.3h0M431.2 62.4h0M380.7 86.5h0M406.0 44.0h0M437.7 64.7h0M377.7 63.9h0M425.7 48.4h0M427.6 51.5h0M390.0 88.2h0M435.4 68.7h0M418.4 88.2h0M399.0 80.3h0M417.6 83.3h0M432.6 84.0h0M408.4 70.2h0M451.6 75.7h0M408.0 42.8h0M424.1 92.9h0M446.8 59.1h0M421.8 68.5h0M423.5 92.0h0M437.8 80.8h0M418.3 92.9h0M420.2 84.2h0M420.0 76.8h0M423.3 86.0h0M441.6 57.5h0M396.6 95.8h0M419.9 91.4h0M380.6 41.5h0M406.0 58.8h0M384.5 37.4h0M432.9 62.8h0M451.1 56.1h0M429.1 75.5h0M403.7 51.3h0M397.1 79.3h0M392.7 84.7h0M413.0 82.7h0M406.3 41.4h0M444.5 65.7h0M384.2 38.6h0M437.8 79.8h0M386.0 80.1h0M435.7 61.4h0M436.6 81.4h0M439.3 80.2h0M439.1 61.5h0M415.9 51.5h0M431.6 59.9h0M410.0 41.2h0M405.6 64.2h0M426.7 78.2h0M404.6 50.0h0M412.6 53.2h0M431.2 62.1h0M415.8 85.8h0M434.3 62.5h0M407.1 64.3h0M418.8 90.5h0M385.3 83.7h0M427.6 48.1h0M424.5 46.3h0M450.2 74.7h0M416.9 87.2h0M394.0 77.2h0M390.7 96.6h0M409.4 78.6h0M440.1 68.9h0M419.2 52.9h0M394.3 91.9h0M422.9 55.7h0M407.6 34.5h0M432.6 63.5h0M425.6 68.4h0M382.6 90.0h0M385.1 80.6h0M415.1 42.5h0M453.9 70.6h0M410.1 68.4h0M438.8 66.8h0M398.8 86.0h0M409.8 78.2h0M409.6 57.7h0M417.7 96.7h0M420.8 46.1h0M444.4 66.0h0M391.9 90.8h0M418.9 50.7h0M433.6 76.2h0M402.1 68.5h0M434.6 82.5h0M414.0 31.8h0M418.4 93.6h0M405.1 68.4h0M433.4 76.0h0M441.7 60.1h0M422.8 77.1h0M418.3 52.7h0M391.2 75.1h0M436.2 59.0h0M392.6 50.2h0M411.9 60.4h0M401.6 59.8h0M431.0 86.9h0M419.8 61.7h0M419.1 62.7h0M435.5 63.2h0M448.5 76.5h0M428.0 76.5h0M394.6 87.5h0M401.5 68.6h0M439.0 82.3h0M415.1 53.2h0M428.4 57.5h0M396.0 78.6h0M441.3 56.4h0M415.9 57.5h0M430.6 61.2h0M415.3 63.7h0M409.0 80.5h0M434.7 68.8h0M377.3 62.1h0M425.4 66.6h0M454.3 60.3h0M449.2 60.9h0M388.8 94.0h0M440.5 56.2h0M453.6 60.7h0M408.5 56.0h0M409.1 92.5h0M412.6 70.0h0M441.2 76.7h0M439.9 77.7h0M415.0 57.8h0M397.7 53.6h0M425.2 64.0h0M428.0 79.1h0M414.8 44.0h0M408.2 85.6h0M440.0 65.0h0M387.7 90.7h0M405.3 50.2h0M404.4 53.4h0M408.7 48.9h0M458.1 64.4h0M410.7 72.6h0M375.2 64.0h0M413.2 84.7h0M399.4 75.4h0M388.6 46.3h0M413.5 70.5h0M454.3 60.4h0M427.8 78.1h0M435.8 72.2h0M417.4 45.1h0M401.8 66.5h0M428.4 54.2h0M415.5 48.9h0M419.7 69.1h0M420.0 94.2h0M432.2 63.2h0M429.1 68.8h0M430.8 84.2h0M391.1 37.8h0M442.1 74.7h0M397.1 91.8h0M439.9 81.1h0M404.3 47.0h0M418.6 45.1h0M436.4 79.7h0M415.0 88.0h0M436.6 57.4h0M451.3 67.8h0M414.9 71.2h0M421.9 95.9h0M383.4 87.4h0M452.7 62.8h0M454.9 68.9h0M376.3 65.2h0M381.8 85.8h0M425.6 71.6h0M436.5 67.1h0M434.8 69.0h0M440.6 56.8h0M385.9 47.1h0M453.0 61.8h0M421.0 79.3h0M428.1 68.7h0M412.1 82.5h0M421.4 93.4h0M422.5 85.5h0M390.5 89.1h0M422.5 38.1h0M387.2 92.1h0M428.4 49.7h0M396.3 93.6h0M381.9 45.4h0M393.2 40.0h0M412.7 99.6h0M453.2 61.3h0M394.6 48.6h0M392.1 96.2h0M445.8 59.2h0M414.1 79.3h0M398.8 79.0h0M430.2 76.9h0M420.5 64.5h0M390.8 72.6h0M394.8 85.7h0M418.1 101.8h0M420.0 56.7h0M434.9 70.2h0M389.8 81.6h0M411.6 91.3h0M401.7 53.6h0M422.5 87.1h0M386.8 91.0h0M421.2 55.6h0M440.0 59.5h0M447.9 63.9h0M418.2 72.4h0M431.6 70.0h0M417.3 55.7h0M410.6 57.1h0M425.8 82.9h0M438.6 56.6h0M417.5 84.3h0M386.8 39.7h0M413.8 99.4h0M405.4 46.4h0M408.4 67.1h0M382.0 82.6h0M408.5 50.0h0M445.6 56.9h0M439.3 66.0h0M428.0 76.0h0M394.6 85.0h0M444.9 70.6h0M392.6 95.3h0M422.7 49.9h0M427.2 69.2h0M431.6 81.8h0M390.1 80.3h0M429.9 74.8h0M395.2 40.1h0M398.1 82.3h0M440.0 81.3h0M408.5 59.4h0M453.5 61.9h0M412.3 61.3h0M414.7 51.5h0M422.2 62.5h0M425.8 67.2h0M412.1 47.5h0M421.6 51.0h0M453.6 65.3h0M435.6 82.3h0M397.1 49.1h0M378.1 63.4h0M422.8 81.2h0M416.6 76.4h0M427.6 69.4h0M438.1 83.2h0M406.8 85.2h0M395.8 91.1h0M452.7 64.9h0M445.6 74.6h0M423.1 38.0h0M394.5 50.1h0M417.9 44.7h0M391.7 60.8h0M406.9 52.4h0M407.2 49.8h0M439.2 78.0h0M424.1 53.4h0M429.7 75.6h0M400.2 88.6h0M419.4 45.9h0M403.6 45.6h0M402.4 61.3h0M419.8 99.7h0M422.0 58.7h0M407.7 71.6h0M440.4 57.3h0M446.5 68.5h0M421.3 58.0h0M389.4 88.6h0M425.0 78.1h0M454.9 70.1h0M440.6 79.0h0M408.2 54.1h0M401.0 69.3h0M419.9 60.7h0M397.9 56.9h0M397.7 83.3h0M398.6 87.4h0M416.7 86.1h0M432.8 72.8h0M446.3 55.5h0M401.1 68.0h0M433.3 74.1h0M397.6 53.8h0M426.9 76.6h0M406.2 62.0h0M450.9 63.7h0M392.5 86.6h0M388.6 81.8h0M401.3 92.8h0M422.3 92.1h0M426.5 77.4h0M397.4 81.1h0M419.3 77.5h0M397.2 75.5h0" stroke="#d63c3c" stroke-width="1.16" stroke-linecap="round" fill="none" opacity="0.78"/>
<path d="M421.7 47.4h0M415.2 59.0h0M424.6 41.4h0M400.5 52.1h0M424.5 83.0h0M455.8 68.5h0M407.2 55.5h0M413.9 67.5h0M409.9 50.4h0M443.5 77.5h0M416.9 91.5h0M413.9 78.6h0M433.4 58.9h0M417.0 77.9h0M391.3 48.3h0M433.0 74.6h0M437.6 59.7h0M425.9 45.4h0M449.5 65.9h0M426.4 71.1h0M440.8 73.5h0M422.8 83.3h0M411.9 74.6h0M442.3 61.6h0M397.0 92.1h0M423.3 52.7h0M433.1 67.9h0M423.1 47.5h0M401.6 66.2h0M389.8 49.8h0M387.6 90.6h0M414.4 61.4h0M437.0 82.3h0M448.5 74.6h0M410.1 45.3h0M438.0 83.0h0M424.7 53.6h0M383.5 44.9h0M396.2 62.8h0M414.5 93.6h0M410.1 91.1h0M418.2 38.0h0M398.8 96.3h0M420.7 95.4h0M385.3 56.3h0M433.2 84.0h0M412.6 38.5h0M413.4 48.0h0M442.7 55.2h0M419.0 83.6h0M399.6 58.1h0M415.9 69.7h0M400.8 85.1h0M414.8 44.1h0M414.1 76.9h0M407.8 55.0h0M411.3 63.4h0M446.3 60.4h0M395.5 47.2h0M435.1 86.0h0M409.2 31.8h0M426.0 77.9h0M425.0 84.7h0M414.8 52.9h0M383.9 78.0h0M416.5 49.8h0M424.6 76.1h0M401.9 100.8h0M410.2 30.6h0M428.6 55.6h0M399.0 86.0h0M423.4 79.1h0M439.8 78.3h0M387.3 38.2h0M399.1 97.3h0M406.8 64.0h0M444.6 70.8h0M383.7 78.7h0M395.6 51.3h0M444.7 62.2h0M403.7 56.4h0M408.5 46.6h0M398.4 40.5h0M397.4 92.5h0M375.2 65.9h0M427.1 54.0h0M446.1 77.5h0M415.5 84.6h0M452.8 61.0h0M394.4 86.1h0M419.6 50.7h0M404.9 37.0h0M409.6 78.7h0M407.6 62.9h0M395.3 74.8h0M434.6 57.9h0M447.9 69.0h0M434.0 62.6h0M452.7 66.5h0M383.8 76.8h0M416.4 73.4h0M385.0 52.4h0M425.4 65.5h0M389.3 90.7h0M444.6 58.6h0M415.1 102.8h0M424.9 56.1h0M400.4 92.1h0M419.7 84.7h0M385.1 78.7h0M413.9 56.3h0M385.1 58.8h0M394.8 45.1h0M418.6 40.7h0M390.8 57.6h0M436.7 62.6h0M438.1 67.3h0M436.8 60.2h0M436.9 74.0h0M404.1 102.4h0M409.6 103.5h0M408.4 65.3h0M383.4 89.6h0M416.0 101.6h0M384.5 89.2h0M390.2 74.7h0M412.7 78.9h0M417.5 86.4h0M447.4 63.7h0M394.7 89.1h0M393.5 50.9h0M385.1 41.1h0M412.5 82.3h0M434.1 68.4h0M419.3 85.0h0M402.2 55.2h0M452.0 63.7h0M423.0 71.1h0M441.2 78.3h0M426.7 48.4h0M404.6 60.5h0M414.9 74.3h0M402.6 45.2h0M409.7 66.1h0M423.4 68.4h0M404.5 52.3h0M406.1 70.5h0M408.5 35.1h0M420.5 47.6h0M429.4 77.9h0M407.0 61.6h0M441.9 58.9h0M399.2 66.8h0M420.0 98.3h0M441.0 77.5h0M401.7 62.8h0M432.5 81.0h0M414.8 56.8h0M386.2 55.2h0M434.5 81.1h0M420.5 42.6h0M396.9 58.6h0M395.1 74.4h0M394.1 46.6h0M420.2 80.6h0M411.0 95.7h0M435.7 57.6h0M389.0 41.1h0M413.5 61.6h0M393.0 52.9h0M412.5 51.4h0M410.6 65.3h0M407.0 56.4h0M414.8 74.7h0M435.6 65.5h0M389.6 37.6h0M410.0 35.6h0M430.3 78.0h0M399.7 98.5h0M409.5 87.6h0M431.7 66.5h0M397.4 82.6h0M412.7 90.5h0M399.5 84.0h0M443.6 78.2h0M442.2 54.9h0M393.5 50.9h0M392.0 75.0h0M395.3 37.2h0M440.8 66.7h0M439.2 79.5h0M403.7 46.4h0M403.6 56.9h0M422.7 85.6h0M405.8 62.6h0M424.1 55.7h0M447.2 75.7h0M408.2 57.8h0M409.0 56.9h0M401.4 45.8h0M418.2 44.2h0M403.7 101.2h0M398.4 85.7h0M449.6 62.6h0M410.8 83.4h0M424.9 64.6h0M416.3 56.5h0M455.3 67.3h0M392.6 37.4h0M419.4 66.7h0M387.6 42.5h0M422.0 51.6h0M425.2 79.4h0M420.1 71.5h0M409.1 100.7h0M402.9 65.9h0M399.1 58.3h0M416.1 100.1h0M396.8 84.7h0M401.9 59.8h0M396.2 74.6h0M418.0 89.9h0M395.8 39.8h0M417.6 83.7h0M414.3 54.1h0M406.6 55.8h0M392.5 95.9h0M422.0 57.1h0M417.1 77.0h0M392.3 63.4h0M408.5 98.2h0M391.8 75.4h0M406.5 71.3h0M442.9 71.8h0M403.9 63.7h0M401.6 36.0h0M395.9 84.7h0M415.1 54.2h0M407.8 31.8h0M427.6 83.2h0M429.5 54.2h0M408.7 42.4h0M442.5 73.8h0M425.4 78.6h0M399.1 52.9h0M453.4 66.7h0M388.0 44.5h0M423.3 68.5h0M440.8 61.1h0M415.5 102.7h0M395.9 38.7h0M405.7 50.0h0M404.2 56.9h0M423.5 43.0h0M411.6 77.6h0M398.2 61.0h0M421.6 49.4h0M389.2 59.6h0M400.0 93.1h0M391.1 47.8h0M432.9 79.6h0M394.4 80.3h0M436.5 78.1h0M376.7 64.3h0M426.2 64.6h0M411.0 98.6h0M425.0 55.2h0M437.0 85.0h0M415.2 75.1h0M393.5 51.4h0M386.0 44.3h0M408.7 78.5h0M412.5 65.1h0M431.7 71.8h0M411.4 73.2h0M454.8 73.1h0M415.7 93.1h0M402.1 57.4h0M421.6 94.4h0M390.5 84.3h0M431.2 83.4h0M407.7 66.4h0M415.9 62.7h0M426.2 61.8h0M455.8 68.7h0M396.0 51.5h0M418.5 77.8h0M423.3 71.4h0M427.9 71.9h0M424.5 64.3h0M386.9 42.5h0M398.2 75.8h0M399.7 67.6h0M422.4 51.4h0M419.2 56.3h0M430.0 83.4h0M418.6 98.6h0M411.6 51.3h0M402.1 61.1h0M411.8 62.9h0M437.1 66.0h0M423.7 94.5h0M383.4 85.4h0M391.6 81.9h0M387.5 82.6h0M411.0 92.9h0M432.7 81.0h0M393.8 53.8h0M391.5 53.6h0M398.5 97.6h0M441.0 64.8h0M415.3 78.7h0M445.3 77.7h0M412.4 68.1h0M436.4 78.7h0M419.8 54.4h0M388.3 54.1h0M385.1 87.5h0M396.8 56.7h0M418.4 89.8h0M410.9 28.7h0M438.6 71.0h0M414.0 52.8h0M388.1 83.1h0M427.6 69.8h0M405.1 35.1h0M388.7 79.4h0M420.8 91.6h0M448.7 61.3h0M412.6 69.7h0M412.9 76.3h0M415.3 35.3h0M418.1 96.3h0M422.3 56.6h0M402.9 51.9h0M419.7 46.2h0M412.1 32.1h0M451.1 67.0h0M415.5 61.0h0M409.3 96.2h0M416.7 77.0h0M451.4 71.3h0M434.9 76.0h0M420.9 56.1h0M444.4 62.9h0M432.8 66.9h0M457.1 68.5h0M399.2 39.8h0M406.8 39.7h0M430.5 77.0h0M401.7 38.2h0M395.5 48.9h0M387.3 51.4h0M412.4 86.3h0M454.0 69.7h0M386.7 49.0h0M436.4 73.0h0M408.0 96.9h0M423.7 57.5h0M407.2 60.8h0M394.4 82.7h0M398.1 49.2h0M422.6 77.4h0M388.0 58.7h0M436.4 82.6h0M381.3 43.5h0M415.6 65.6h0M423.6 83.6h0M407.7 87.3h0M405.2 97.3h0M447.8 72.2h0M422.5 85.2h0M434.0 64.7h0M399.2 49.6h0M388.5 84.3h0M407.9 52.1h0M457.8 66.0h0M416.3 73.6h0M428.8 67.7h0M435.6 74.0h0M432.6 84.1h0M409.7 80.7h0M395.7 96.7h0M401.5 57.7h0M447.4 71.2h0M395.9 95.0h0M402.0 95.7h0M435.4 69.8h0M388.4 90.3h0M427.3 81.7h0" stroke="#f2bf3e" stroke-width="1.16" stroke-linecap="round" fill="none" opacity="0.78"/>
<circle cx="466.6" cy="47.8" r="1.5" fill="#d63c3c"/>
<text x="470.6" y="50.5" font-size="7.6" text-anchor="start" fill="#000" >CD34+38- A</text>
<circle cx="466.6" cy="56.0" r="1.5" fill="#f2bf3e"/>
<text x="470.6" y="58.7" font-size="7.6" text-anchor="start" fill="#000" >CD34+38- B</text>
<circle cx="466.6" cy="64.2" r="1.5" fill="#2ea5dd"/>
<text x="470.6" y="66.9" font-size="7.6" text-anchor="start" fill="#000" >GMP D</text>
<circle cx="466.6" cy="72.4" r="1.5" fill="#aa5cb6"/>
<text x="470.6" y="75.1" font-size="7.6" text-anchor="start" fill="#000" >GMP E</text>
<path d="M365.8 142.6H461.9V234.5H365.8Z" fill="none" stroke="#111" stroke-width="1.25"/>
<text x="359.8" y="155.00" font-size="8" text-anchor="end" fill="#111" transform="translate(359.8 0) scale(0.93 1) translate(-359.8 0)">30</text>
<text x="359.8" y="167.20" font-size="8" text-anchor="end" fill="#111" transform="translate(359.8 0) scale(0.93 1) translate(-359.8 0)">20</text>
<text x="359.8" y="179.40" font-size="8" text-anchor="end" fill="#111" transform="translate(359.8 0) scale(0.93 1) translate(-359.8 0)">10</text>
<text x="359.8" y="191.60" font-size="8" text-anchor="end" fill="#111" transform="translate(359.8 0) scale(0.93 1) translate(-359.8 0)">0</text>
<text x="359.8" y="203.80" font-size="8" text-anchor="end" fill="#111" transform="translate(359.8 0) scale(0.93 1) translate(-359.8 0)">−10</text>
<text x="359.8" y="216.00" font-size="8" text-anchor="end" fill="#111" transform="translate(359.8 0) scale(0.93 1) translate(-359.8 0)">−20</text>
<text x="359.8" y="228.20" font-size="8" text-anchor="end" fill="#111" transform="translate(359.8 0) scale(0.93 1) translate(-359.8 0)">−30</text>
<text transform="translate(378.41 244.10) rotate(-45) scale(0.93 1)" font-size="8" text-anchor="end" fill="#111">−30</text>
<text transform="translate(391.09 244.10) rotate(-45) scale(0.93 1)" font-size="8" text-anchor="end" fill="#111">−20</text>
<text transform="translate(403.77 244.10) rotate(-45) scale(0.93 1)" font-size="8" text-anchor="end" fill="#111">−10</text>
<text transform="translate(416.45 244.10) rotate(-45) scale(0.93 1)" font-size="8" text-anchor="end" fill="#111">0</text>
<text transform="translate(429.13 244.10) rotate(-45) scale(0.93 1)" font-size="8" text-anchor="end" fill="#111">10</text>
<text transform="translate(441.81 244.10) rotate(-45) scale(0.93 1)" font-size="8" text-anchor="end" fill="#111">20</text>
<text transform="translate(454.49 244.10) rotate(-45) scale(0.93 1)" font-size="8" text-anchor="end" fill="#111">30</text>
<path d="M363.0 152.20H365.8M363.0 164.40H365.8M363.0 176.60H365.8M363.0 188.80H365.8M363.0 201.00H365.8M363.0 213.20H365.8M363.0 225.40H365.8M375.41 234.5V237.5M388.09 234.5V237.5M400.77 234.5V237.5M413.45 234.5V237.5M426.13 234.5V237.5M438.81 234.5V237.5M451.49 234.5V237.5" stroke="#111" stroke-width="1"/>
<text transform="translate(339.8 188.80) rotate(-90) scale(0.82 1)" font-size="9.2" text-anchor="middle" fill="#111">t−SNE 2</text>
<path d="M409.8 205.1h0M409.3 204.8h0M409.4 211.4h0M425.5 201.5h0M390.9 204.8h0M391.6 196.7h0M421.1 219.0h0M420.6 220.7h0M422.3 214.6h0M413.2 217.4h0M406.5 210.9h0M415.9 201.4h0M424.5 204.4h0M399.2 218.8h0M408.1 212.3h0M420.0 201.7h0M421.4 219.5h0M391.1 201.4h0M400.4 221.9h0M395.1 217.0h0M390.2 202.7h0M421.6 214.2h0M382.8 205.5h0M384.3 210.2h0M416.9 212.9h0M399.7 200.8h0M413.9 200.0h0M392.4 209.5h0M417.0 199.3h0M422.2 201.4h0M410.8 224.9h0M406.1 218.8h0M390.0 215.7h0M420.9 209.6h0M391.0 203.3h0M415.2 222.9h0M394.8 219.9h0M422.8 204.7h0M397.0 213.5h0M408.5 204.9h0M421.4 197.9h0M405.0 222.6h0M426.1 211.2h0M394.6 207.2h0M397.4 217.3h0M396.7 199.5h0M425.6 206.3h0M391.6 204.5h0M418.7 210.2h0M414.6 214.8h0M410.2 215.0h0M410.7 203.8h0M396.4 220.6h0M392.4 214.2h0M406.7 220.7h0M410.6 213.0h0M387.6 212.0h0M394.4 198.9h0M422.2 215.7h0M389.2 198.1h0M422.3 212.9h0M393.6 208.9h0M391.1 205.6h0M399.6 204.1h0M407.4 223.9h0M388.4 216.1h0M395.6 208.7h0M423.5 199.6h0M405.6 216.2h0M411.4 215.7h0M426.5 207.5h0M414.5 215.0h0M387.4 202.0h0M410.1 212.5h0M423.4 210.6h0M394.3 203.3h0M386.1 209.6h0M398.8 217.7h0M390.5 194.9h0M420.3 217.3h0M411.2 219.2h0M411.1 202.3h0M415.1 209.6h0M398.7 200.5h0M391.3 199.7h0M413.2 212.2h0M420.7 216.8h0M386.9 204.6h0M399.0 195.0h0M405.7 219.4h0M391.9 213.8h0M399.7 202.7h0M425.4 206.0h0M387.7 197.4h0M396.7 208.0h0M390.3 209.5h0M382.2 207.9h0M384.5 208.1h0M400.6 203.4h0M419.0 205.0h0M391.2 194.6h0M408.1 223.6h0M423.9 202.5h0M417.7 223.4h0M414.8 201.6h0M400.8 206.5h0M398.0 199.6h0M415.7 210.4h0M426.4 209.2h0M395.0 205.5h0M396.5 196.4h0M399.9 220.2h0M414.1 198.3h0M395.4 195.8h0M426.2 204.7h0M406.2 222.7h0M383.2 207.3h0M422.7 213.7h0M398.4 212.7h0M410.1 219.4h0M390.5 202.0h0M397.4 203.1h0M389.6 214.2h0M425.0 206.1h0M396.9 205.4h0M383.9 199.4h0M403.1 219.4h0M404.7 219.8h0M401.9 222.2h0M415.0 214.5h0M397.8 204.2h0M399.0 207.4h0M423.4 200.5h0M400.9 217.1h0M398.2 218.6h0M412.1 209.6h0M399.1 218.7h0M421.7 205.1h0M383.7 200.1h0M393.0 207.0h0M406.7 220.0h0M387.1 217.1h0M399.7 218.9h0M407.8 219.0h0M412.5 223.6h0M397.4 213.9h0M410.8 199.4h0M415.5 206.0h0M381.4 204.0h0M398.4 209.3h0M411.4 216.4h0M412.2 217.5h0M411.2 205.3h0M394.4 207.5h0M407.4 214.3h0M422.4 217.5h0M393.2 201.8h0M385.9 211.2h0M389.6 209.7h0M409.6 200.1h0M400.3 209.9h0M411.5 199.5h0M387.5 196.7h0M395.3 196.2h0M383.5 209.4h0M385.9 210.6h0M417.9 212.8h0M421.2 210.1h0M396.2 199.5h0M417.4 205.0h0M395.1 219.2h0M383.8 198.2h0M421.7 213.8h0M398.8 218.9h0M425.4 212.7h0M424.2 203.3h0M415.6 217.9h0M389.3 212.1h0M392.0 203.7h0M424.6 214.3h0M412.5 220.5h0M415.1 224.2h0M415.5 212.6h0M414.3 203.1h0M399.4 197.5h0M398.5 220.5h0M397.5 204.7h0M424.8 207.5h0M385.0 208.2h0M417.6 196.3h0M402.4 221.1h0M400.4 213.5h0M419.7 206.1h0M407.3 205.8h0M383.8 205.1h0M407.6 214.8h0M417.3 224.0h0M412.8 206.5h0M411.5 215.9h0M400.3 222.3h0M411.5 217.4h0M413.4 213.7h0M424.2 203.0h0M423.8 217.2h0M385.1 200.1h0M393.9 208.7h0M393.1 200.1h0M389.9 194.9h0M413.0 206.8h0M418.6 222.5h0M413.2 214.5h0M411.8 203.0h0M392.2 204.6h0M420.5 210.9h0M396.3 193.1h0M421.3 213.9h0M394.5 193.9h0M418.0 224.2h0M423.8 202.9h0M384.1 207.1h0M388.1 215.3h0M384.2 213.0h0M389.2 209.6h0M424.3 205.2h0M404.1 223.8h0M409.6 224.9h0M403.9 222.6h0M392.0 210.2h0M383.4 211.0h0M421.0 198.5h0M398.2 205.9h0M416.0 223.0h0M398.2 196.5h0M390.6 193.6h0M409.2 219.5h0M397.9 203.4h0M394.0 198.2h0M384.5 210.6h0M386.3 211.9h0M423.2 213.1h0M390.2 196.1h0M425.5 208.0h0M419.6 223.5h0M419.2 199.4h0M412.7 200.3h0M382.9 208.7h0M422.1 212.4h0M417.5 207.8h0M425.2 203.5h0M387.0 216.8h0M418.5 218.5h0M424.3 202.9h0M394.7 210.5h0M411.6 218.4h0M405.4 218.9h0M398.1 193.7h0M390.4 195.5h0M412.5 203.7h0M384.3 202.7h0M386.5 202.3h0M395.5 196.0h0M389.3 205.1h0M395.0 212.4h0M391.4 203.2h0M419.3 206.4h0M418.5 196.2h0M390.0 212.8h0M391.8 199.1h0M424.4 207.9h0M395.6 205.2h0M424.0 212.8h0M413.9 216.0h0M406.3 222.8h0M394.2 216.2h0M393.5 199.2h0M412.8 197.9h0M390.0 205.8h0M399.8 206.4h0M410.7 209.8h0M392.6 192.4h0M403.7 219.7h0M392.7 200.9h0M394.0 204.9h0M413.0 204.5h0M414.8 216.3h0M398.1 219.5h0M414.4 196.2h0M392.6 199.5h0M383.4 207.2h0M386.0 200.3h0M392.2 209.8h0M417.0 215.4h0M412.3 205.9h0M414.7 212.9h0M393.5 202.8h0M416.9 213.2h0M391.6 219.4h0M396.4 205.1h0M406.3 212.5h0M407.9 209.8h0M393.8 202.3h0M409.4 219.0h0M401.1 213.9h0M392.6 208.6h0M421.3 203.1h0M391.9 196.9h0M412.4 198.6h0M386.4 217.2h0M421.7 197.2h0M386.2 211.0h0M420.0 219.7h0M418.4 209.2h0M388.9 214.2h0M384.1 211.6h0M422.6 198.8h0M406.2 221.3h0M393.3 201.5h0M395.7 207.5h0M404.3 219.4h0M398.1 206.6h0M396.6 210.7h0M398.8 220.3h0M422.6 197.9h0M414.7 209.9h0M420.7 198.6h0M389.6 214.6h0M416.1 211.2h0M392.3 216.5h0M413.8 201.5h0M410.1 219.3h0M423.3 203.8h0M402.0 218.7h0M395.1 195.8h0M414.7 219.6h0M412.7 199.6h0M420.2 202.0h0M411.0 217.1h0M420.4 220.6h0M419.1 202.6h0M413.6 202.3h0M417.0 208.3h0M399.3 203.9h0M387.8 213.3h0M407.0 212.9h0M393.9 212.1h0M384.5 202.5h0M418.7 214.0h0M412.3 221.6h0M392.4 215.5h0M386.2 200.9h0M407.4 210.7h0M387.1 204.9h0M423.8 203.9h0M396.3 196.6h0M414.8 196.1h0M394.4 219.6h0M423.7 214.4h0M391.9 218.1h0M380.7 207.9h0M419.2 223.0h0M383.9 202.6h0M412.6 206.2h0M390.0 209.6h0M399.7 219.9h0M418.4 209.6h0M399.0 201.7h0M417.6 204.7h0M417.0 201.4h0M418.2 204.5h0M409.5 209.0h0M417.3 219.4h0M420.2 215.3h0M384.4 205.0h0M391.7 207.8h0M397.4 204.0h0M413.7 206.4h0M414.5 205.5h0M420.3 207.6h0M396.0 213.4h0M424.1 214.3h0M412.7 211.9h0M399.6 206.0h0M420.4 218.3h0M423.5 213.4h0M399.5 205.4h0M418.3 214.3h0M420.2 205.6h0M420.0 198.2h0M423.3 207.4h0M410.9 198.3h0M420.5 213.9h0M389.1 202.4h0M396.6 217.2h0M419.9 212.8h0M420.0 199.3h0M410.2 214.3h0M392.0 196.4h0M422.4 209.9h0M388.2 211.3h0M408.4 221.8h0M397.1 200.7h0M392.7 206.1h0M413.0 204.1h0M422.7 207.0h0M423.7 198.9h0M408.0 224.1h0M386.0 201.5h0M421.8 209.6h0M398.2 204.8h0M384.5 199.0h0M391.2 206.5h0M405.9 217.6h0M398.3 205.7h0M422.4 205.3h0M392.6 212.9h0M394.3 217.5h0M403.7 222.6h0M391.7 219.6h0M422.7 208.1h0M413.8 219.7h0M390.4 214.5h0M415.8 207.2h0M398.4 207.1h0M418.8 211.9h0M425.7 210.7h0M419.4 207.1h0M417.0 203.4h0M410.8 204.8h0M385.3 205.1h0M395.4 203.4h0M416.9 208.6h0M394.0 198.6h0M390.7 218.0h0M397.9 194.3h0M409.4 200.0h0M422.9 214.5h0M416.3 199.0h0M394.3 213.3h0M411.3 212.1h0M395.1 198.8h0M414.6 223.6h0M382.6 211.4h0M385.1 202.0h0M409.1 222.1h0M388.7 204.8h0M398.8 207.4h0M409.8 199.6h0M416.1 221.5h0M417.7 218.1h0M409.2 210.3h0M417.9 217.4h0M415.8 202.2h0M423.8 207.3h0M391.9 212.2h0M424.6 210.7h0M396.8 206.1h0M385.8 206.1h0M396.2 196.0h0M418.0 211.3h0M415.8 223.3h0M399.6 213.5h0M424.8 205.6h0M418.4 215.0h0M417.6 205.1h0M422.8 198.5h0M420.5 197.6h0M416.1 224.4h0M416.3 222.7h0M407.0 219.8h0M394.9 197.0h0M388.6 203.8h0M408.3 204.0h0M392.5 217.3h0M392.9 212.8h0M412.3 222.2h0M391.2 196.5h0M411.6 198.9h0M417.1 198.4h0M387.1 214.6h0M385.4 212.5h0M421.4 214.0h0M390.4 196.4h0M400.8 218.5h0M401.1 222.4h0M385.2 206.5h0M408.5 219.6h0M410.3 213.0h0M422.3 207.2h0M391.8 196.8h0M395.1 219.2h0M394.6 208.9h0M414.0 213.7h0M395.9 206.1h0M397.7 198.8h0M391.5 208.7h0M387.4 211.9h0M391.7 214.6h0M400.7 208.4h0M396.0 200.0h0M391.1 213.4h0M419.6 200.7h0M416.5 212.5h0M425.4 200.0h0M409.0 201.9h0M392.1 219.3h0M399.3 216.5h0M415.4 209.2h0M388.8 215.4h0M394.0 207.8h0M407.0 221.8h0M384.1 203.5h0M415.5 224.1h0M386.9 211.3h0M409.1 213.9h0M393.0 218.5h0M415.5 208.5h0M390.3 196.6h0M423.4 211.2h0M411.6 199.0h0M400.0 214.5h0M408.2 207.0h0M420.7 206.5h0M412.5 202.8h0M388.1 216.4h0M387.7 212.1h0M394.4 201.7h0M415.2 203.3h0M411.0 220.0h0M419.7 218.7h0M399.7 210.5h0M411.2 218.5h0M388.2 197.5h0M408.0 212.6h0M421.4 209.8h0M413.2 206.1h0M399.4 196.8h0M404.7 219.2h0M390.6 208.6h0M408.7 199.9h0M391.1 194.4h0M423.0 206.5h0M417.5 206.9h0M399.2 211.2h0M422.5 202.8h0M411.5 200.8h0M422.2 199.8h0M415.7 214.5h0M420.0 215.6h0M383.5 202.1h0M414.8 208.7h0M411.0 223.0h0M408.3 210.4h0M392.3 206.7h0M397.1 213.2h0M383.3 206.3h0M397.2 208.0h0M421.6 215.8h0M390.5 205.7h0M395.7 207.4h0M404.6 221.9h0M422.2 212.7h0M415.0 209.4h0M385.6 213.9h0M421.9 217.3h0M383.4 208.8h0M396.8 210.3h0M389.0 201.4h0M414.7 215.8h0M381.8 207.2h0M418.5 199.2h0M400.0 221.0h0M407.4 211.8h0M425.4 206.7h0M407.8 215.2h0M392.4 194.2h0M413.2 205.6h0M420.3 215.6h0M426.1 211.1h0M417.6 222.5h0M421.0 200.7h0M411.2 225.1h0M398.2 197.2h0M412.1 203.9h0M401.1 222.6h0M411.7 206.9h0M421.4 214.8h0M426.4 204.9h0M422.5 206.9h0M390.5 210.5h0M420.1 201.8h0M395.3 218.2h0M387.2 213.5h0M399.8 214.8h0M418.6 220.0h0M396.3 215.0h0M391.2 204.1h0M412.7 221.0h0M423.7 215.9h0M383.4 206.8h0M394.2 198.0h0M417.2 203.3h0M416.4 210.5h0M400.0 208.5h0M397.2 214.4h0M387.5 197.9h0M391.6 203.3h0M408.1 210.9h0M392.1 217.6h0M387.5 204.0h0M397.7 217.9h0M414.1 200.7h0M398.8 200.4h0M390.8 194.0h0M394.8 207.1h0M418.1 223.2h0M392.8 191.9h0M411.0 214.3h0M413.2 211.0h0M416.5 209.5h0M389.8 203.0h0M411.6 212.7h0M398.1 210.0h0M418.2 202.5h0M398.5 219.0h0M422.5 208.5h0M416.3 204.3h0M415.3 200.1h0M392.4 218.2h0M386.8 212.4h0M389.1 206.2h0M421.3 216.2h0M421.1 204.6h0M412.7 211.4h0M420.9 222.0h0M422.5 202.4h0M410.4 207.3h0M385.1 208.9h0M418.4 211.2h0M419.6 219.7h0M420.7 213.9h0M425.8 204.3h0M395.3 220.3h0M417.5 205.7h0M399.7 208.7h0M413.8 220.8h0M393.1 205.7h0M405.8 220.5h0M388.4 197.3h0M388.1 204.5h0M382.0 204.0h0M410.2 211.3h0M391.1 210.7h0M421.4 213.4h0M391.7 214.9h0M406.2 224.1h0M388.7 200.8h0M420.8 213.0h0M394.8 206.3h0M397.6 202.9h0M395.5 207.2h0M418.1 217.7h0M390.4 200.4h0M394.6 206.4h0M392.6 216.7h0M393.0 200.0h0M411.2 217.8h0M409.3 217.6h0M416.7 198.4h0M417.1 214.7h0M398.4 211.7h0M389.9 202.7h0M384.6 202.4h0M390.1 201.7h0M388.8 203.6h0M396.9 200.0h0M398.1 203.7h0M387.7 206.2h0M396.1 194.2h0M411.4 212.6h0M409.3 208.8h0M423.7 206.5h0M410.0 217.3h0M406.3 216.3h0M391.2 202.4h0M384.0 203.5h0M395.7 208.0h0M412.4 207.7h0M396.2 218.3h0M398.6 204.6h0M396.8 215.2h0M400.5 209.6h0M418.6 220.9h0M422.8 202.6h0M424.4 204.0h0M408.9 211.4h0M423.3 202.0h0M409.2 216.2h0M408.0 218.3h0M408.6 201.3h0M393.4 216.9h0M406.8 206.6h0M388.7 212.4h0M396.5 192.9h0M395.8 212.5h0M391.1 210.6h0M394.4 204.1h0M406.9 219.1h0M421.0 206.7h0M422.6 198.8h0M423.6 205.0h0M398.4 220.5h0M407.7 208.7h0M421.6 217.7h0M414.5 213.3h0M413.5 219.1h0M416.5 222.2h0M411.1 211.3h0M400.2 210.0h0M405.2 218.7h0M422.5 206.6h0M410.9 207.2h0M419.8 221.1h0M388.5 205.7h0M416.4 202.7h0M421.0 201.4h0M389.4 210.0h0M409.9 210.8h0M425.0 199.5h0M415.4 214.5h0M395.3 213.3h0M393.1 205.1h0M427.0 204.5h0M394.1 209.9h0M416.3 208.9h0M394.7 201.5h0M397.7 204.7h0M398.6 208.8h0M421.4 218.6h0M416.7 207.5h0M409.7 202.1h0M399.1 220.8h0M403.9 223.4h0M395.7 218.1h0M418.8 206.9h0M416.0 201.5h0M399.3 204.4h0M419.2 199.6h0M387.4 197.9h0M395.9 216.4h0M384.9 202.4h0M392.5 208.0h0M388.6 203.2h0M394.7 219.9h0M401.3 214.2h0M422.3 213.5h0M397.4 202.5h0M402.0 217.1h0M419.3 198.9h0M388.4 211.7h0M397.2 196.9h0" stroke="#d9703f" stroke-width="1.2" stroke-linecap="round" fill="none" opacity="0.9"/>
<path d="M396.3 169.6h0M397.1 172.2h0M425.5 167.3h0M406.6 180.0h0M421.7 168.8h0M422.9 189.5h0M394.6 172.7h0M415.2 180.4h0M424.5 172.2h0M406.9 164.5h0M409.7 181.3h0M407.7 172.6h0M401.4 174.4h0M424.6 162.8h0M420.9 197.4h0M400.5 173.5h0M394.4 173.7h0M394.0 181.6h0M407.2 176.9h0M408.6 193.9h0M415.5 177.9h0M413.9 188.9h0M409.9 171.8h0M384.5 159.4h0M404.1 190.3h0M396.2 162.0h0M409.1 162.9h0M413.7 152.6h0M411.3 193.2h0M423.8 189.8h0M412.1 197.2h0M399.8 174.7h0M405.3 170.9h0M418.3 169.1h0M428.7 172.8h0M405.8 160.0h0M412.9 182.7h0M410.6 168.7h0M393.2 180.6h0M424.6 168.2h0M386.9 178.5h0M391.3 169.7h0M412.2 198.5h0M417.8 176.7h0M403.1 166.2h0M395.3 172.8h0M425.2 170.2h0M401.5 162.8h0M384.1 165.3h0M389.0 167.9h0M419.3 184.9h0M400.4 180.7h0M387.6 174.6h0M420.8 166.4h0M424.3 188.0h0M410.5 163.6h0M425.5 175.5h0M415.8 178.0h0M425.9 166.8h0M399.2 159.5h0M395.3 173.0h0M406.8 182.8h0M408.7 197.5h0M408.7 192.2h0M411.9 196.0h0M383.7 159.4h0M405.0 183.2h0M412.4 154.9h0M408.0 194.3h0M396.0 165.4h0M416.7 165.4h0M409.3 152.1h0M397.2 170.9h0M417.6 195.2h0M423.3 174.1h0M384.2 161.3h0M423.9 181.9h0M416.6 179.2h0M407.8 155.5h0M406.3 173.9h0M406.7 170.1h0M384.1 162.9h0M414.9 160.1h0M399.9 168.0h0M414.4 174.1h0M393.8 181.1h0M416.7 156.3h0M390.3 179.9h0M405.3 171.5h0M398.7 171.4h0M403.4 164.0h0M420.6 193.6h0M410.2 177.7h0M416.0 159.4h0M392.5 175.6h0M401.4 165.9h0M408.1 193.1h0M408.0 168.4h0M423.1 168.9h0M415.0 193.5h0M382.0 159.4h0M385.3 162.9h0M401.6 187.6h0M408.5 166.3h0M403.9 157.1h0M389.8 171.2h0M394.8 174.1h0M403.3 191.7h0M414.4 182.8h0M391.5 175.2h0M418.2 188.4h0M411.2 192.4h0M410.1 168.0h0M402.3 167.6h0M387.0 159.3h0M407.6 151.9h0M410.1 150.7h0M411.2 155.5h0M421.8 195.2h0M417.7 193.9h0M405.4 187.8h0M406.3 160.5h0M409.6 168.4h0M410.1 166.7h0M422.3 189.6h0M416.1 160.1h0M401.4 189.7h0M416.0 176.0h0M424.7 175.0h0M419.5 188.8h0M413.5 184.1h0M428.0 178.7h0M416.7 174.3h0M415.0 157.4h0M425.7 171.3h0M409.6 164.9h0M401.2 186.7h0M383.5 166.3h0M412.0 178.6h0M412.1 192.5h0M396.2 184.2h0M415.1 164.1h0M397.7 179.2h0M416.6 161.6h0M389.9 174.4h0M416.2 157.0h0M393.0 181.9h0M418.2 159.4h0M393.6 166.9h0M414.1 171.6h0M391.8 181.8h0M395.6 176.2h0M417.0 192.6h0M391.2 161.5h0M419.6 179.9h0M410.7 167.7h0M421.8 162.7h0M425.5 176.9h0M411.0 193.3h0M391.7 177.7h0M385.0 171.8h0M417.2 174.5h0M388.4 175.0h0M403.0 156.3h0M424.3 172.5h0M401.0 160.8h0M408.5 164.9h0M412.6 180.1h0M397.6 164.5h0M385.3 177.7h0M406.0 178.5h0M412.6 159.9h0M403.5 167.4h0M419.2 193.1h0M408.8 186.9h0M414.7 164.5h0M388.0 180.4h0M406.6 194.7h0M414.9 167.7h0M406.1 163.4h0M413.4 169.4h0M410.4 170.6h0M394.7 167.1h0M402.1 184.0h0M395.1 161.1h0M402.9 161.7h0M401.4 184.4h0M407.8 169.6h0M418.6 168.2h0M408.0 158.7h0M419.6 172.8h0M426.8 177.5h0M392.7 174.8h0M406.5 192.3h0M399.6 179.5h0M411.9 191.0h0M415.9 191.1h0M383.0 162.1h0M407.9 160.2h0M398.0 160.7h0M411.1 155.9h0M414.4 156.1h0M414.8 165.5h0M419.1 174.7h0M402.6 179.4h0M420.9 178.1h0M424.6 186.0h0M411.6 153.9h0M421.0 166.4h0M407.8 176.4h0M392.3 161.0h0M425.4 187.8h0M415.3 166.6h0M411.3 184.8h0M396.0 184.3h0M412.3 196.6h0M400.1 157.3h0M380.8 165.4h0M410.4 180.5h0M404.4 159.3h0M395.5 168.6h0M415.6 169.3h0M416.6 164.3h0M424.1 185.1h0M422.5 172.6h0M409.2 153.2h0M420.8 167.0h0M424.3 167.6h0M414.8 174.3h0M416.5 171.2h0M390.1 170.9h0M395.4 159.7h0M415.4 158.4h0M393.6 163.9h0M406.6 170.7h0M407.9 177.7h0M380.0 172.1h0M410.2 152.0h0M414.3 151.5h0M428.6 177.0h0M421.4 194.4h0M387.3 159.6h0M399.2 176.0h0M405.3 182.0h0M392.2 170.7h0M409.6 176.4h0M403.3 177.3h0M408.8 155.5h0M385.1 165.1h0M396.3 184.6h0M390.0 175.2h0M383.2 173.2h0M397.3 174.9h0M411.4 171.8h0M406.8 185.4h0M398.6 187.6h0M408.3 180.6h0M402.1 161.0h0M395.6 172.7h0M414.1 175.3h0M424.2 190.6h0M403.7 177.8h0M381.6 174.9h0M417.5 190.4h0M395.0 171.6h0M414.0 196.9h0M419.2 191.2h0M408.5 168.0h0M420.9 179.0h0M398.4 161.9h0M403.7 173.9h0M399.6 162.7h0M396.3 164.5h0M388.2 178.4h0M417.6 167.4h0M407.3 156.1h0M416.8 154.0h0M414.6 189.6h0M397.4 159.5h0M394.3 162.8h0M427.1 175.4h0M419.5 179.0h0M386.2 167.5h0M398.0 180.7h0M419.8 170.2h0M411.7 171.1h0M400.4 182.2h0M412.4 158.5h0M419.6 172.1h0M414.8 174.0h0M404.9 158.4h0M415.7 194.2h0M407.6 184.3h0M394.1 181.4h0M384.6 173.8h0M393.9 185.0h0M418.3 159.1h0M397.4 170.7h0M411.2 162.6h0M390.4 179.1h0M407.3 173.1h0M402.8 176.4h0M388.5 174.3h0M416.7 191.4h0M412.8 160.0h0M398.8 164.5h0M416.4 194.8h0M413.3 178.0h0M389.6 165.9h0M381.7 162.6h0M415.7 186.8h0M385.0 173.8h0M410.1 162.9h0M419.1 157.2h0M397.6 170.4h0M425.1 168.3h0M424.9 189.5h0M385.1 165.2h0M403.3 157.1h0M424.0 164.9h0M409.8 151.2h0M384.1 167.8h0M394.6 175.2h0M389.2 166.2h0M412.7 150.1h0M424.6 175.3h0M398.2 186.0h0M400.3 162.2h0M386.5 179.9h0M407.6 194.2h0M423.1 194.7h0M410.1 166.1h0M393.2 182.9h0M388.2 169.2h0M406.8 191.8h0M396.4 179.9h0M415.4 182.3h0M423.0 190.3h0M422.6 189.0h0M424.9 177.5h0M426.9 174.0h0M418.4 188.7h0M409.6 187.1h0M421.8 183.3h0M408.7 179.3h0M397.7 181.9h0M393.4 164.7h0M425.9 180.1h0M399.2 184.0h0M409.5 175.4h0M413.9 177.7h0M416.9 155.4h0M390.0 162.8h0M385.1 180.2h0M384.5 159.7h0M394.8 166.5h0M418.6 162.1h0M406.9 150.2h0M418.7 168.4h0M406.8 166.5h0M418.5 165.5h0M406.8 185.8h0M396.2 161.5h0M424.7 170.1h0M424.5 188.6h0M398.6 167.5h0M390.8 179.0h0M393.1 159.6h0M399.2 160.1h0M413.8 167.9h0M404.9 167.7h0M402.6 159.8h0M390.6 165.2h0M422.3 164.0h0M387.7 163.1h0M421.3 172.2h0M420.8 165.4h0M425.5 182.0h0M412.9 170.9h0M411.7 164.9h0M416.0 166.2h0M401.9 168.9h0M423.5 178.7h0M420.7 179.8h0M424.2 163.6h0M390.9 164.2h0M428.8 177.1h0M387.1 175.7h0M408.4 186.7h0M413.4 188.6h0M386.1 162.9h0M416.8 171.0h0M384.5 175.3h0M393.3 166.5h0M398.8 173.5h0M396.7 165.2h0M395.3 184.6h0M414.8 171.1h0M404.4 157.9h0M405.2 164.2h0M410.0 192.7h0M407.5 170.0h0M409.1 171.8h0M420.7 191.1h0M381.0 174.4h0M404.1 193.6h0M387.4 174.1h0M420.0 161.4h0M401.1 184.6h0M387.4 179.2h0M394.0 179.2h0M422.7 159.3h0M393.5 172.3h0M427.3 170.2h0M407.6 191.4h0M384.9 171.6h0M384.9 164.5h0M415.0 194.5h0M419.7 182.1h0M420.9 172.1h0M394.0 161.9h0M385.1 162.5h0M412.7 159.3h0M417.9 168.3h0M396.8 169.8h0M419.1 195.2h0M425.6 174.9h0M388.7 163.6h0M407.8 166.3h0M406.6 159.6h0M423.2 179.6h0M407.6 159.4h0M421.9 182.8h0M416.9 181.0h0M399.9 165.0h0M411.2 161.1h0M419.8 185.8h0M418.7 164.9h0M402.2 176.6h0M422.0 168.4h0M396.5 167.5h0M394.1 171.3h0M390.4 166.5h0M409.7 157.0h0M397.7 167.8h0M380.5 169.0h0M412.9 189.7h0M387.9 162.8h0M401.9 168.9h0M417.1 167.7h0M416.9 157.7h0M423.0 192.5h0M407.1 181.5h0M410.0 183.8h0M421.4 158.5h0M414.4 187.2h0M426.7 169.8h0M400.9 183.4h0M404.6 181.9h0M414.9 195.7h0M402.6 166.6h0M411.6 181.1h0M416.7 159.7h0M407.9 153.3h0M409.7 187.5h0M416.7 169.3h0M427.6 170.2h0M398.4 159.1h0M381.5 169.8h0M412.9 157.0h0M411.9 164.8h0M423.4 189.8h0M417.7 178.8h0M380.9 166.9h0M391.9 176.3h0M419.7 191.6h0M407.3 161.9h0M409.4 154.0h0M419.9 186.2h0M421.8 170.7h0M410.8 187.0h0M404.5 173.7h0M412.5 177.8h0M397.3 186.1h0M408.7 177.1h0M407.3 163.2h0M406.1 191.9h0M425.4 193.0h0M416.9 193.1h0M383.7 170.7h0M421.3 182.0h0M391.1 171.4h0M408.5 156.5h0M409.0 195.4h0M392.5 165.4h0M414.9 160.2h0M402.1 186.2h0M411.9 155.9h0M405.3 170.8h0M415.6 163.4h0M387.9 174.9h0M423.1 163.8h0M420.5 169.0h0M394.8 162.2h0M398.1 174.9h0M406.6 185.5h0M407.0 183.0h0M405.0 183.8h0M413.9 154.1h0M397.9 181.7h0M399.2 188.2h0M383.4 175.0h0M399.3 167.4h0M391.5 177.5h0M384.6 159.5h0M394.6 184.4h0M421.1 189.8h0M384.7 162.7h0M414.9 159.0h0M398.4 170.7h0M398.6 184.9h0M401.3 191.3h0M405.5 162.7h0M410.0 167.3h0M409.2 194.4h0M401.7 184.2h0M413.4 167.6h0M411.8 181.1h0M395.4 162.6h0M404.0 179.5h0M414.8 178.2h0M420.7 192.2h0M386.2 176.6h0M414.5 194.6h0M390.1 159.9h0M400.6 161.0h0M416.5 161.4h0M395.1 180.8h0M408.1 190.8h0M395.6 177.1h0M418.2 181.6h0M420.5 164.0h0M392.6 163.5h0M396.9 180.0h0M416.6 163.7h0M412.6 152.9h0M394.1 168.0h0M410.6 152.1h0M418.8 167.3h0M411.4 169.6h0M410.0 165.7h0M396.2 182.6h0M412.5 183.5h0M389.0 162.5h0M408.3 180.3h0M413.5 183.0h0M382.0 162.1h0M385.9 169.2h0M400.6 187.2h0M415.7 159.8h0M412.2 166.2h0M403.4 191.9h0M421.6 192.5h0M395.5 179.4h0M426.9 167.1h0M393.0 174.3h0M412.5 172.8h0M389.5 169.6h0M404.6 167.7h0M408.0 169.9h0M410.6 186.7h0M407.0 177.8h0M403.4 187.7h0M401.3 170.5h0M417.2 162.9h0M389.6 159.0h0M406.0 165.4h0M422.7 173.6h0M410.0 157.0h0M409.9 150.5h0M419.0 192.5h0M412.4 152.5h0M409.5 185.7h0M387.6 160.8h0M405.7 156.5h0M403.8 181.3h0M425.7 169.8h0M399.9 171.4h0M427.6 172.9h0M408.4 191.6h0M422.6 161.2h0M419.3 172.9h0M407.3 183.3h0M408.0 164.2h0M386.8 180.8h0M407.5 170.1h0M408.6 150.8h0M427.6 174.9h0M404.4 185.0h0M421.8 189.9h0M404.7 191.9h0M390.9 171.7h0M384.0 159.6h0M399.2 178.2h0M399.3 173.6h0M380.6 162.9h0M410.2 190.3h0M418.1 183.7h0M385.6 177.7h0M406.0 180.2h0M425.5 182.1h0M399.0 178.8h0M413.5 175.4h0M393.5 172.3h0M397.1 165.0h0M384.5 158.8h0M395.3 158.6h0M402.7 175.7h0M408.2 185.8h0M403.7 167.8h0M416.8 175.6h0M395.7 174.7h0M406.3 188.5h0M416.0 178.9h0M403.7 172.7h0M406.1 164.0h0M386.9 169.7h0M397.2 169.4h0M386.6 176.0h0M406.3 162.8h0M403.6 178.3h0M411.2 181.2h0M421.0 160.4h0M402.7 186.4h0M384.2 160.0h0M405.8 184.0h0M424.1 177.1h0M406.1 167.5h0M418.2 160.3h0M408.2 179.2h0M388.4 174.5h0M422.5 165.6h0M404.5 176.3h0M428.7 177.8h0M417.4 178.4h0M383.8 177.1h0M425.5 168.5h0M386.9 160.7h0M409.0 178.3h0M399.6 183.3h0M391.3 181.1h0M415.9 172.9h0M411.5 189.0h0M410.0 162.6h0M405.6 185.6h0M389.7 161.8h0M404.6 171.4h0M422.5 177.3h0M412.6 174.6h0M401.4 167.2h0M407.9 155.1h0M388.6 160.7h0M418.2 165.6h0M414.3 154.5h0M398.2 174.5h0M410.2 178.9h0M395.6 178.6h0M398.5 171.2h0M416.9 165.5h0M423.2 187.6h0M394.0 168.4h0M401.4 174.0h0M397.4 165.1h0M379.7 163.5h0M392.3 180.8h0M404.3 173.0h0M407.7 154.4h0M407.1 185.7h0M403.7 173.7h0M401.4 173.1h0M427.6 169.5h0M416.3 177.9h0M424.5 167.7h0M401.0 159.1h0M392.6 158.8h0M397.5 164.4h0M419.2 174.3h0M425.3 181.1h0M409.4 171.6h0M419.4 188.1h0M383.5 161.8h0M422.9 177.1h0M387.6 163.9h0M387.1 173.5h0M407.6 155.9h0M422.0 173.0h0M421.4 192.9h0M400.1 169.6h0M396.0 164.8h0M415.5 191.9h0M409.9 154.4h0M392.4 166.5h0M401.9 169.2h0M420.1 192.9h0M384.7 171.6h0M419.2 187.8h0M423.1 171.1h0M402.9 187.3h0M399.1 179.7h0M415.1 163.9h0M410.1 189.8h0M425.6 171.6h0M422.3 184.4h0M409.6 179.1h0M383.9 160.8h0M403.6 189.2h0M423.7 171.8h0M384.0 172.8h0M420.8 167.5h0M420.5 168.9h0M416.1 197.3h0M401.9 181.2h0M400.8 161.0h0M402.7 158.7h0M407.5 195.2h0M397.0 170.2h0M418.9 172.1h0M422.2 192.2h0M402.1 189.9h0M408.2 161.6h0M405.9 163.1h0M414.0 153.2h0M394.4 165.8h0M395.8 161.2h0M398.4 179.3h0M425.9 184.3h0M405.1 189.8h0M414.3 175.5h0M383.1 169.2h0M410.9 162.7h0M387.8 180.8h0M418.3 174.1h0M417.5 194.4h0M406.6 177.2h0M420.0 159.2h0M410.6 158.3h0M401.0 191.1h0M408.3 155.8h0M415.6 156.9h0M422.0 178.5h0M395.6 172.2h0M410.7 168.0h0M404.2 157.2h0M408.6 194.1h0M389.4 165.3h0M411.9 162.8h0M411.7 158.2h0M392.6 171.6h0M419.8 164.5h0M398.4 177.6h0M403.0 170.6h0M411.9 181.8h0M388.6 157.8h0M409.2 177.0h0M401.6 181.2h0M417.9 191.1h0M392.3 184.8h0M418.2 174.4h0M407.0 159.6h0M408.4 182.4h0M407.7 191.2h0M391.0 160.3h0M419.8 183.1h0M419.1 184.1h0M417.9 161.6h0M406.5 192.7h0M418.7 156.9h0M401.5 190.0h0M403.9 185.1h0M414.5 188.0h0M397.1 166.0h0M401.6 157.4h0M394.4 180.3h0M415.1 175.6h0M415.1 174.6h0M412.7 193.4h0M407.8 153.2h0M385.1 177.7h0M428.4 178.9h0M415.4 160.3h0M416.2 152.9h0M415.9 178.9h0M429.5 175.6h0M409.7 163.6h0M390.9 159.9h0M408.7 163.8h0M418.3 171.8h0M415.3 185.1h0M396.9 162.8h0M388.7 160.4h0M404.4 174.1h0M423.7 174.3h0M399.1 174.3h0M393.5 167.2h0M422.6 189.8h0M416.9 182.8h0M388.0 165.9h0M425.4 188.0h0M383.6 170.9h0M423.3 189.9h0M403.3 166.8h0M415.5 184.3h0M408.5 177.4h0M410.5 165.3h0M388.5 169.3h0M395.9 160.1h0M405.7 171.4h0M412.6 191.4h0M416.9 158.4h0M395.5 163.4h0M404.0 177.1h0M392.6 176.1h0M399.8 168.9h0M395.7 167.8h0M404.2 178.3h0M419.0 170.3h0M423.5 164.4h0M401.1 185.3h0M414.9 196.3h0M415.0 179.2h0M391.3 171.5h0M424.9 178.4h0M397.7 175.0h0M398.2 182.4h0M421.6 170.8h0M389.2 181.0h0M415.7 169.6h0M396.2 184.3h0M399.4 175.5h0M392.0 170.1h0M414.8 165.4h0M399.4 165.8h0M415.9 163.7h0M401.9 175.9h0M391.1 169.2h0M405.3 171.6h0M404.4 174.8h0M422.7 170.3h0M416.4 166.2h0M399.0 186.5h0M396.7 167.0h0M389.7 177.8h0M408.7 170.3h0M423.5 170.1h0M415.0 154.0h0M425.0 176.6h0M393.3 161.5h0M400.2 179.5h0M405.5 180.7h0M398.3 186.6h0M410.7 194.0h0M409.5 167.3h0M418.1 164.6h0M415.2 196.5h0M388.6 167.7h0M413.5 191.9h0M420.1 164.3h0M406.9 163.4h0M393.5 172.8h0M405.1 155.9h0M383.3 161.3h0M386.0 165.7h0M423.9 172.2h0M412.5 186.5h0M399.8 175.3h0M423.0 191.7h0M419.0 167.0h0M420.0 185.5h0M411.4 194.6h0M417.4 166.5h0M401.8 187.9h0M417.3 172.1h0M414.2 151.5h0M421.7 181.5h0M418.1 169.0h0M400.9 158.8h0M428.4 175.6h0M393.4 161.9h0M418.3 194.4h0M385.8 175.2h0M415.5 170.3h0M419.7 190.5h0M413.7 178.1h0M401.3 157.2h0M412.0 184.7h0M407.0 172.7h0M391.1 159.2h0M426.6 166.0h0M413.5 180.8h0M384.9 161.7h0M402.1 178.8h0M414.9 156.9h0M413.9 165.2h0M423.8 176.2h0M398.0 175.9h0M418.7 161.5h0M411.3 166.5h0M404.3 168.4h0M418.6 166.5h0M411.3 174.9h0M398.1 181.0h0M390.4 169.6h0M415.9 175.6h0M411.0 169.7h0M428.3 174.1h0M399.2 167.3h0M396.3 169.7h0M418.8 158.5h0M407.7 187.8h0M421.3 182.1h0M415.9 184.1h0M407.3 172.5h0M414.9 192.6h0M406.0 168.6h0M418.5 163.7h0M410.6 161.4h0M418.5 189.3h0M426.4 173.1h0M402.6 155.7h0M402.2 169.5h0M396.0 172.9h0M390.8 180.1h0M423.3 192.8h0M398.2 183.8h0M416.6 156.8h0M415.1 151.8h0M404.1 191.6h0M415.2 159.8h0M413.2 188.0h0M385.8 176.6h0M407.7 156.3h0M385.9 168.5h0M430.2 174.6h0M424.5 185.7h0M402.8 161.0h0M386.9 163.9h0M407.9 186.6h0M387.7 167.0h0M416.1 167.5h0M389.4 164.0h0M399.7 189.0h0M403.1 191.5h0M422.4 172.8h0M419.2 177.7h0M422.8 179.5h0M422.6 169.0h0M414.4 174.6h0M418.8 179.2h0M422.5 159.5h0M382.5 160.1h0M428.4 171.1h0M419.5 173.7h0M411.6 172.7h0M381.9 166.8h0M393.2 161.4h0M414.2 159.2h0M402.1 182.5h0M417.6 179.2h0M398.5 158.0h0M415.8 162.9h0M425.5 178.9h0M415.8 158.6h0M388.8 162.9h0M414.3 196.5h0M425.2 165.0h0M411.8 184.3h0M405.6 179.5h0M425.7 180.9h0M394.6 170.0h0M413.7 195.3h0M402.4 167.1h0M388.1 176.1h0M413.5 161.7h0M417.8 172.7h0M403.5 183.6h0M387.7 167.6h0M399.6 176.6h0M425.1 169.4h0M417.2 155.5h0M420.5 185.9h0M420.0 178.1h0M397.5 183.6h0M410.9 189.7h0M412.5 179.0h0M388.7 163.1h0M393.8 175.2h0M391.5 175.0h0M402.8 187.7h0M398.9 163.6h0M388.3 169.5h0M421.8 178.6h0M401.7 175.0h0M417.4 191.9h0M406.7 168.3h0M421.2 177.0h0M390.0 170.1h0M412.4 189.5h0M383.7 176.6h0M410.2 161.4h0M386.2 172.7h0M413.9 194.2h0M410.3 173.0h0M419.8 175.8h0M392.0 163.2h0M418.2 193.8h0M413.7 153.5h0M411.5 154.3h0M385.8 162.3h0M390.9 162.1h0M400.4 184.0h0M417.3 177.1h0M388.3 175.5h0M392.5 158.9h0M410.6 178.5h0M418.1 156.6h0M402.9 189.9h0M396.8 178.1h0M383.3 171.4h0M403.4 185.5h0M414.6 196.7h0M403.8 170.6h0M410.9 150.1h0M383.3 161.9h0M411.9 155.3h0M404.2 161.1h0M381.5 174.0h0M400.6 183.9h0M417.7 186.8h0M386.8 161.1h0M421.9 180.4h0M405.4 167.8h0M408.4 188.5h0M391.3 168.2h0M387.5 175.7h0M414.0 174.2h0M418.0 163.4h0M418.4 192.7h0M401.9 191.7h0M400.1 172.1h0M408.5 171.4h0M408.8 165.7h0M417.2 155.9h0M417.7 188.7h0M410.7 168.4h0M407.1 172.0h0M423.8 168.5h0M405.1 156.5h0M401.3 161.2h0M397.5 186.3h0M410.4 157.4h0M410.8 151.7h0M415.3 174.5h0M418.1 192.2h0M417.9 157.0h0M419.0 193.8h0M391.1 163.7h0M416.7 163.0h0M412.8 184.9h0M410.6 189.9h0M412.6 191.1h0M412.9 197.7h0M415.3 156.7h0M421.0 164.1h0M422.3 178.0h0M401.8 180.9h0M402.9 173.3h0M419.7 167.6h0M412.1 153.5h0M415.9 181.2h0M415.5 182.4h0M382.2 163.0h0M391.0 162.5h0M413.2 179.1h0M422.7 171.3h0M420.9 177.5h0M411.5 184.1h0M423.0 170.5h0M395.6 182.9h0M383.2 171.5h0M395.2 161.5h0M406.2 175.0h0M410.4 153.0h0M394.2 168.1h0M408.5 180.8h0M399.2 161.2h0M406.8 161.1h0M413.6 180.6h0M419.8 176.9h0M385.7 162.3h0M406.5 163.8h0M421.0 172.9h0M412.3 182.7h0M399.7 183.9h0M418.2 156.0h0M401.7 159.6h0M395.5 170.3h0M414.7 172.9h0M389.9 166.8h0M402.0 179.0h0M422.2 183.9h0M408.0 179.5h0M425.5 185.0h0M397.9 180.9h0M423.9 163.3h0M387.3 172.8h0M420.4 174.1h0M418.1 174.9h0M412.1 168.9h0M417.7 166.1h0M387.1 180.1h0M387.4 162.5h0M395.5 161.9h0M401.3 190.3h0M427.9 177.0h0M421.6 172.4h0M386.7 170.4h0M396.3 173.4h0M397.9 178.7h0M420.7 161.8h0M397.1 170.5h0M411.0 180.8h0M423.0 170.7h0M416.6 197.8h0M408.7 173.0h0M419.0 182.8h0M413.1 190.2h0M390.1 177.3h0M399.7 164.7h0M418.5 158.6h0M423.7 178.9h0M398.5 170.5h0M407.2 182.2h0M411.6 195.9h0M389.4 178.2h0M412.4 156.5h0M383.2 171.3h0M401.1 178.9h0M416.0 156.1h0M398.1 170.6h0M423.1 159.4h0M388.0 180.1h0M394.5 171.5h0M417.9 166.1h0M390.9 177.7h0M381.3 164.9h0M411.7 151.6h0M418.6 188.7h0M391.7 182.2h0M421.8 195.2h0M406.9 173.8h0M415.6 187.0h0M393.9 182.1h0M411.8 174.5h0M407.2 171.2h0M397.1 172.6h0M405.4 184.3h0M396.5 174.5h0M413.3 169.5h0M424.1 174.8h0M383.3 167.3h0M407.0 155.1h0M428.0 172.3h0M382.2 172.6h0M417.2 186.8h0M402.3 165.2h0M407.4 162.4h0M418.0 170.7h0M419.4 167.3h0M396.0 162.4h0M397.7 172.7h0M412.4 160.2h0M417.7 196.5h0M416.4 186.7h0M389.9 178.2h0M428.7 177.7h0M399.2 171.0h0M415.2 193.4h0M403.6 167.0h0M402.4 182.7h0M414.1 152.9h0M405.2 166.0h0M391.3 181.8h0M391.9 158.5h0M412.8 167.8h0M422.0 180.1h0M407.7 193.0h0M409.3 190.4h0M421.3 179.4h0M407.9 173.5h0M404.8 181.8h0M391.5 181.3h0M409.3 156.2h0M389.5 171.5h0M424.5 167.7h0M404.2 160.6h0M418.3 175.7h0M408.6 154.0h0M396.7 173.9h0M411.4 163.5h0M411.4 166.2h0M414.8 152.1h0M408.2 175.5h0M416.7 154.6h0M425.8 175.7h0M384.9 176.8h0M416.3 195.0h0M411.7 190.4h0M401.0 190.7h0M419.9 182.1h0M397.9 178.3h0M419.7 178.1h0M421.2 170.6h0M423.8 167.0h0M381.8 163.1h0M403.2 174.4h0M411.1 162.6h0M395.2 179.7h0M382.5 161.9h0M401.2 166.5h0M382.0 173.6h0M401.5 179.1h0M407.9 177.5h0M398.4 178.3h0M401.1 189.4h0M397.1 172.6h0M397.6 175.2h0M425.8 170.0h0M406.2 183.4h0M386.6 164.9h0M391.2 164.2h0M397.4 171.5h0M397.6 181.2h0M415.6 184.6h0M387.3 176.3h0M407.3 173.6h0M402.1 176.4h0M413.0 191.7h0M410.0 182.6h0M406.2 183.5h0M429.2 175.4h0" stroke="#58ad8f" stroke-width="1.2" stroke-linecap="round" fill="none" opacity="0.9"/>
<path d="M433.7 188.7h0M428.0 193.8h0M453.3 195.3h0M454.5 193.7h0M456.0 190.3h0M457.1 191.4h0M439.4 185.4h0M443.8 177.1h0M428.5 205.4h0M440.7 179.1h0M436.2 195.9h0M455.8 189.9h0M440.4 203.3h0M437.3 181.5h0M433.6 194.8h0M429.4 180.8h0M453.6 188.4h0M443.5 198.9h0M434.4 189.5h0M446.1 193.5h0M455.7 193.3h0M433.4 180.3h0M436.8 178.8h0M436.0 190.3h0M437.0 191.3h0M426.3 193.9h0M433.0 196.0h0M448.5 186.2h0M447.3 180.5h0M437.6 181.1h0M449.5 187.3h0M453.7 182.1h0M433.0 200.4h0M426.4 192.5h0M440.8 194.9h0M457.1 192.2h0M455.9 183.7h0M430.9 188.5h0M442.1 182.0h0M442.3 183.0h0M436.9 202.7h0M433.1 189.3h0M449.5 196.5h0M452.8 192.5h0M432.9 205.9h0M448.2 182.8h0M430.0 203.3h0M451.1 189.9h0M448.6 182.7h0M450.9 197.2h0M444.1 200.8h0M437.0 203.7h0M455.9 187.6h0M448.5 196.0h0M454.4 182.2h0M454.6 191.7h0M444.9 200.5h0M438.0 204.4h0M450.0 176.6h0M457.0 188.5h0M454.3 195.4h0M433.0 202.5h0M439.7 198.0h0M436.1 180.5h0M449.5 182.4h0M442.6 202.7h0M452.2 182.0h0M430.7 207.0h0M444.9 201.9h0M433.2 205.4h0M452.9 194.7h0M435.9 200.9h0M442.7 176.6h0M451.2 186.6h0M434.9 188.7h0M430.2 183.2h0M427.2 204.7h0M435.9 180.5h0M438.0 192.1h0M432.9 181.2h0M441.1 188.0h0M433.9 198.9h0M438.8 198.1h0M447.6 176.6h0M448.5 183.4h0M445.1 201.8h0M446.3 181.8h0M440.0 186.1h0M428.2 200.0h0M426.8 199.4h0M432.2 194.6h0M437.8 199.1h0M438.5 181.9h0M440.7 199.8h0M435.1 207.4h0M434.2 194.2h0M426.0 199.3h0M432.1 186.8h0M446.2 176.2h0M439.8 193.6h0M424.6 197.5h0M452.4 178.7h0M447.2 189.9h0M439.6 178.6h0M439.8 199.7h0M447.8 176.1h0M434.4 191.3h0M442.3 181.7h0M438.3 203.2h0M449.1 183.9h0M434.8 193.5h0M455.2 186.4h0M444.0 193.8h0M444.6 192.2h0M439.5 182.4h0M442.5 203.5h0M444.7 183.6h0M435.8 203.8h0M445.0 191.0h0M453.8 188.6h0M427.9 185.2h0M451.1 179.0h0M426.9 196.1h0M432.7 181.0h0M434.8 196.4h0M439.7 190.4h0M446.1 198.9h0M434.8 204.0h0M427.0 186.8h0M452.8 182.4h0M451.6 192.7h0M438.9 188.3h0M437.5 205.1h0M435.1 190.9h0M446.4 196.1h0M452.0 181.8h0M444.1 200.0h0M431.4 205.8h0M434.6 179.3h0M445.3 185.0h0M447.9 190.4h0M438.3 185.7h0M426.0 194.4h0M433.9 185.7h0M434.0 184.0h0M435.8 200.2h0M442.2 184.3h0M452.7 187.9h0M426.9 192.4h0M429.0 181.6h0M434.4 185.9h0M440.8 199.0h0M449.2 198.6h0M426.1 205.1h0M440.2 199.1h0M439.9 187.2h0M425.4 186.9h0M441.2 188.7h0M444.3 195.3h0M434.2 183.0h0M444.6 180.0h0M432.4 183.2h0M442.7 188.9h0M426.7 197.3h0M441.3 186.3h0M446.4 190.7h0M433.2 204.8h0M441.1 203.8h0M440.2 187.2h0M426.8 194.9h0M431.3 201.3h0M438.4 184.1h0M438.5 185.3h0M427.4 185.1h0M448.1 189.4h0M443.9 178.4h0M451.7 192.3h0M430.3 199.6h0M445.4 201.7h0M425.5 189.0h0M455.5 191.9h0M452.3 193.1h0M445.3 177.8h0M436.7 184.0h0M438.1 188.7h0M436.8 181.6h0M423.9 188.6h0M436.9 195.4h0M428.8 206.2h0M454.6 182.4h0M451.1 177.9h0M436.7 202.0h0M433.1 195.8h0M455.1 185.5h0M441.0 193.4h0M437.0 190.1h0M437.6 202.4h0M454.3 180.9h0M427.8 187.6h0M443.3 195.2h0M435.0 199.9h0M434.2 194.7h0M433.6 205.4h0M437.3 189.3h0M447.4 185.1h0M442.6 189.1h0M433.4 202.5h0M440.6 178.3h0M456.4 188.6h0M434.1 189.8h0M443.4 179.3h0M446.9 197.9h0M437.3 193.4h0M451.1 186.0h0M434.6 190.9h0M433.8 189.2h0M444.8 188.3h0M446.2 199.8h0M452.0 185.1h0M456.3 184.8h0M441.2 199.7h0M425.0 194.2h0M444.3 190.4h0M437.3 191.3h0M431.7 186.5h0M427.4 184.1h0M439.7 196.0h0M446.9 181.2h0M435.3 195.6h0M443.4 179.2h0M448.9 188.8h0M433.2 207.1h0M439.9 180.6h0M429.4 199.3h0M436.1 197.5h0M448.5 196.9h0M445.7 182.6h0M441.9 180.3h0M441.0 198.9h0M438.2 196.0h0M450.5 192.7h0M449.5 185.6h0M455.4 192.1h0M441.8 203.9h0M424.6 189.0h0M435.9 187.8h0M440.1 189.4h0M441.7 198.8h0M435.2 198.9h0M432.5 202.4h0M435.6 202.1h0M434.5 202.5h0M425.3 190.8h0M449.7 181.9h0M444.0 180.5h0M436.9 202.0h0M443.5 182.2h0M438.1 184.4h0M435.1 179.1h0M443.1 197.1h0M451.5 183.5h0M435.7 179.0h0M440.4 188.6h0M448.4 187.4h0M451.4 194.9h0M429.1 204.5h0M428.4 189.3h0M439.2 189.8h0M437.9 183.5h0M433.6 192.2h0M431.2 183.8h0M435.6 186.9h0M440.4 188.1h0M437.7 186.1h0M430.3 199.4h0M442.7 178.5h0M443.3 198.3h0M442.5 195.9h0M435.4 190.1h0M432.6 205.4h0M451.6 197.1h0M431.7 187.9h0M444.1 200.5h0M429.5 182.8h0M446.8 180.5h0M452.6 183.6h0M437.8 202.2h0M443.6 199.6h0M440.5 192.2h0M441.6 178.9h0M435.5 182.5h0M434.4 185.4h0M442.2 176.3h0M444.2 183.0h0M432.9 184.2h0M440.8 188.1h0M439.2 200.9h0M456.2 192.1h0M451.1 177.5h0M429.1 196.9h0M433.6 196.2h0M432.7 180.4h0M436.2 184.7h0M444.5 187.1h0M437.8 201.2h0M447.2 197.1h0M435.7 182.8h0M436.6 202.8h0M435.6 207.0h0M448.1 186.6h0M431.9 196.1h0M439.3 201.6h0M428.4 186.5h0M439.1 182.9h0M440.9 178.7h0M431.6 181.3h0M442.2 199.6h0M426.7 199.6h0M437.2 186.1h0M442.2 192.8h0M431.2 183.5h0M434.3 183.9h0M440.7 186.2h0M449.6 184.0h0M455.6 191.9h0M428.9 187.0h0M424.9 186.0h0M440.8 204.7h0M440.2 194.5h0M448.8 178.7h0M450.2 196.1h0M446.5 186.8h0M455.3 188.7h0M440.1 190.3h0M438.1 200.9h0M439.4 195.9h0M431.4 183.3h0M425.2 200.8h0M432.2 193.1h0M432.6 184.9h0M425.6 189.8h0M446.5 192.3h0M432.1 191.1h0M425.6 186.2h0M440.6 204.3h0M439.6 201.9h0M453.9 192.0h0M438.8 188.2h0M443.0 188.9h0M440.6 188.4h0M444.4 187.4h0M436.9 199.9h0M427.7 183.7h0M450.8 183.1h0M433.6 197.6h0M434.6 203.9h0M444.3 194.7h0M433.4 197.4h0M438.3 202.6h0M441.7 181.5h0M448.3 190.2h0M453.9 181.9h0M437.6 190.0h0M436.5 205.6h0M436.2 180.4h0M452.6 180.9h0M443.3 186.9h0M426.0 193.2h0M453.4 191.5h0M432.8 181.9h0M450.4 189.6h0M450.1 180.1h0M429.1 201.4h0M433.4 190.2h0M450.6 185.6h0M433.2 192.6h0M437.5 195.2h0M453.0 181.9h0M431.0 208.3h0M435.5 184.6h0M439.2 187.6h0M448.5 197.9h0M441.3 178.1h0M430.6 202.7h0M442.9 193.2h0M428.0 197.9h0M439.0 203.7h0M443.1 186.4h0M427.3 196.0h0M427.6 204.6h0M441.3 177.8h0M430.9 206.2h0M438.2 196.2h0M449.7 186.7h0M430.6 182.6h0M442.5 195.2h0M428.4 200.3h0M445.1 199.3h0M434.7 190.2h0M453.4 188.1h0M454.3 181.7h0M438.2 179.0h0M449.2 182.3h0M440.8 182.5h0M450.7 185.7h0M440.5 177.6h0M453.6 182.1h0M435.4 185.6h0M441.2 198.1h0M453.1 180.0h0M439.9 199.1h0M441.7 188.6h0M439.6 206.0h0M428.9 193.0h0M439.2 181.3h0M425.2 185.4h0M428.0 200.5h0M433.7 194.6h0M440.0 186.4h0M436.4 203.2h0M432.9 201.0h0M458.1 185.8h0M436.5 199.5h0M426.2 186.0h0M425.7 196.4h0M439.7 182.8h0M437.0 206.4h0M436.0 189.4h0M435.4 181.1h0M452.8 191.1h0M442.7 198.7h0M454.3 181.8h0M445.5 177.7h0M442.9 198.8h0M427.8 199.5h0M443.2 193.6h0M435.8 193.6h0M436.3 187.3h0M431.7 193.2h0M425.9 185.5h0M454.8 194.5h0M448.6 184.2h0M432.4 197.8h0M432.2 184.6h0M436.7 179.9h0M429.1 190.2h0M439.0 201.3h0M430.8 205.6h0M442.1 196.1h0M455.6 191.4h0M432.6 203.3h0M439.9 202.5h0M444.5 190.4h0M443.6 197.3h0M431.2 204.8h0M440.2 187.3h0M436.4 201.1h0M427.0 204.4h0M436.6 178.8h0M451.3 189.2h0M440.0 198.9h0M425.8 193.3h0M426.2 183.2h0M455.8 190.1h0M455.7 181.3h0M452.7 184.2h0M456.0 183.9h0M442.9 193.6h0M451.9 184.0h0M454.9 190.3h0M450.5 195.4h0M425.6 193.0h0M427.9 193.3h0M433.0 179.9h0M432.5 199.7h0M436.5 188.5h0M434.8 190.4h0M440.6 178.2h0M439.3 183.2h0M425.8 186.5h0M453.0 183.2h0M428.1 190.1h0M430.0 204.8h0M448.7 194.4h0M431.0 201.3h0M437.1 187.4h0M452.1 183.8h0M453.2 182.7h0M450.3 187.4h0M425.4 193.8h0M449.2 181.9h0M445.0 198.2h0M445.8 180.6h0M430.2 198.3h0M434.2 192.2h0M444.3 189.7h0M446.2 177.2h0M439.8 194.1h0M434.9 191.6h0M432.7 202.4h0M452.5 190.5h0M440.9 182.1h0M445.5 195.0h0M441.0 186.2h0M452.3 180.4h0M455.5 189.2h0M439.8 201.3h0M441.2 204.4h0M445.3 199.1h0M440.0 180.9h0M436.4 200.1h0M447.9 185.3h0M431.6 191.4h0M438.6 178.0h0M447.5 181.2h0M426.1 188.5h0M438.6 192.4h0M442.1 200.4h0M448.4 177.3h0M425.9 189.6h0M452.3 178.5h0M435.8 179.6h0M443.8 198.8h0M427.6 191.2h0M445.1 190.8h0M442.3 191.5h0M445.6 178.3h0M439.8 197.5h0M441.3 197.1h0M439.3 187.4h0M455.8 191.2h0M434.4 197.7h0M448.7 182.7h0M428.0 197.4h0M431.9 205.5h0M451.1 188.4h0M444.9 192.0h0M436.8 185.1h0M440.7 202.7h0M451.4 192.7h0M434.9 197.4h0M427.2 190.6h0M444.4 184.3h0M431.6 203.2h0M429.9 196.2h0M432.8 188.3h0M457.1 189.9h0M447.1 178.3h0M440.0 202.7h0M450.6 189.0h0M453.5 183.3h0M430.5 198.4h0M455.0 188.2h0M452.8 180.8h0M425.8 188.6h0M438.4 196.8h0M433.5 182.9h0M454.0 191.1h0M450.5 178.1h0M453.6 186.7h0M435.6 203.7h0M432.7 181.5h0M439.7 188.2h0M436.4 194.4h0M443.2 186.7h0M427.6 190.8h0M438.1 204.6h0M439.1 189.9h0M452.6 191.9h0M434.9 186.0h0M443.2 177.1h0M452.7 186.3h0M448.5 188.4h0M445.6 196.0h0M451.5 188.8h0M436.4 204.0h0M439.2 199.4h0M437.2 200.6h0M429.7 197.0h0M433.3 190.9h0M446.0 196.1h0M447.7 197.6h0M447.8 193.6h0M432.4 184.9h0M434.0 186.1h0M447.3 182.3h0M429.9 205.4h0M440.4 178.7h0M446.5 189.9h0M429.2 198.0h0M437.8 190.7h0M454.9 191.5h0M433.4 200.5h0M448.9 177.5h0M457.8 187.4h0M434.5 186.0h0M456.3 185.8h0M440.6 200.4h0M429.5 185.9h0M452.4 190.9h0M428.8 189.1h0M445.2 182.5h0M454.6 182.1h0M435.6 195.4h0M432.6 205.5h0M426.2 200.7h0M432.8 194.2h0M446.3 176.9h0M451.2 191.5h0M447.4 192.6h0M433.3 195.5h0M426.9 198.0h0M450.9 185.1h0M435.5 181.4h0M426.5 198.8h0M453.0 190.7h0M428.3 205.3h0M435.4 191.2h0M435.8 185.5h0M427.3 203.1h0" stroke="#8397c8" stroke-width="1.2" stroke-linecap="round" fill="none" opacity="0.9"/>
<path d="M378.4 183.9h0M380.1 188.1h0M377.2 187.4h0M376.2 186.2h0M376.9 183.8h0M380.8 185.2h0M378.4 184.2h0M375.2 187.3h0M378.4 183.4h0M379.8 185.6h0M378.7 187.3h0M378.1 188.3h0M377.2 188.6h0M379.1 184.9h0M378.5 184.4h0M378.0 185.8h0M378.6 183.4h0M376.0 187.6h0M382.3 184.6h0M377.3 186.2h0M376.3 183.1h0M377.1 184.9h0M377.7 185.3h0M378.8 183.0h0M379.8 184.0h0M376.7 186.3h0M377.3 183.5h0M374.5 188.0h0M376.7 185.7h0M375.2 185.4h0M376.4 186.0h0M376.3 186.6h0M377.7 187.5h0M377.5 185.2h0M377.8 187.0h0M379.1 185.9h0M377.4 187.4h0M376.2 186.4h0M378.1 184.8h0M377.7 188.1h0" stroke="#e07cbc" stroke-width="1.2" stroke-linecap="round" fill="none" opacity="0.9"/>
<circle cx="465.6" cy="169.4" r="1.5" fill="#58ad8f"/>
<text x="470.0" y="172.1" font-size="7.4" text-anchor="start" fill="#000" >Cluster 1</text>
<circle cx="465.6" cy="177.6" r="1.5" fill="#d9703f"/>
<text x="470.0" y="180.3" font-size="7.4" text-anchor="start" fill="#000" >Cluster 2</text>
<circle cx="465.6" cy="185.8" r="1.5" fill="#8397c8"/>
<text x="470.0" y="188.5" font-size="7.4" text-anchor="start" fill="#000" >Cluster 3</text>
<circle cx="465.6" cy="194.0" r="1.5" fill="#e07cbc"/>
<text x="470.0" y="196.7" font-size="7.4" text-anchor="start" fill="#000" >Cluster 4</text>
<path d="M365.8 266.0H461.9V357.3H365.8Z" fill="none" stroke="#111" stroke-width="1.25"/>
<text x="359.8" y="278.20" font-size="8" text-anchor="end" fill="#111" transform="translate(359.8 0) scale(0.93 1) translate(-359.8 0)">30</text>
<text x="359.8" y="290.40" font-size="8" text-anchor="end" fill="#111" transform="translate(359.8 0) scale(0.93 1) translate(-359.8 0)">20</text>
<text x="359.8" y="302.60" font-size="8" text-anchor="end" fill="#111" transform="translate(359.8 0) scale(0.93 1) translate(-359.8 0)">10</text>
<text x="359.8" y="314.80" font-size="8" text-anchor="end" fill="#111" transform="translate(359.8 0) scale(0.93 1) translate(-359.8 0)">0</text>
<text x="359.8" y="327.00" font-size="8" text-anchor="end" fill="#111" transform="translate(359.8 0) scale(0.93 1) translate(-359.8 0)">−10</text>
<text x="359.8" y="339.20" font-size="8" text-anchor="end" fill="#111" transform="translate(359.8 0) scale(0.93 1) translate(-359.8 0)">−20</text>
<text x="359.8" y="351.40" font-size="8" text-anchor="end" fill="#111" transform="translate(359.8 0) scale(0.93 1) translate(-359.8 0)">−30</text>
<text transform="translate(378.41 366.90) rotate(-45) scale(0.93 1)" font-size="8" text-anchor="end" fill="#111">−30</text>
<text transform="translate(391.09 366.90) rotate(-45) scale(0.93 1)" font-size="8" text-anchor="end" fill="#111">−20</text>
<text transform="translate(403.77 366.90) rotate(-45) scale(0.93 1)" font-size="8" text-anchor="end" fill="#111">−10</text>
<text transform="translate(416.45 366.90) rotate(-45) scale(0.93 1)" font-size="8" text-anchor="end" fill="#111">0</text>
<text transform="translate(429.13 366.90) rotate(-45) scale(0.93 1)" font-size="8" text-anchor="end" fill="#111">10</text>
<text transform="translate(441.81 366.90) rotate(-45) scale(0.93 1)" font-size="8" text-anchor="end" fill="#111">20</text>
<text transform="translate(454.49 366.90) rotate(-45) scale(0.93 1)" font-size="8" text-anchor="end" fill="#111">30</text>
<path d="M363.0 275.40H365.8M363.0 287.60H365.8M363.0 299.80H365.8M363.0 312.00H365.8M363.0 324.20H365.8M363.0 336.40H365.8M363.0 348.60H365.8M375.41 357.3V360.3M388.09 357.3V360.3M400.77 357.3V360.3M413.45 357.3V360.3M426.13 357.3V360.3M438.81 357.3V360.3M451.49 357.3V360.3" stroke="#111" stroke-width="1"/>
<text transform="translate(339.8 312.00) rotate(-90) scale(0.82 1)" font-size="9.2" text-anchor="middle" fill="#111">t−SNE 2</text>
<path d="M409.8 328.3h0M396.3 292.8h0M409.3 328.0h0M428.0 317.0h0M453.3 318.5h0M454.5 316.9h0M397.1 295.4h0M456.0 313.5h0M425.5 290.5h0M425.5 324.7h0M406.6 303.2h0M421.7 292.0h0M422.9 312.7h0M394.6 295.9h0M390.9 328.0h0M457.1 314.6h0M415.2 303.6h0M406.9 287.7h0M409.7 304.5h0M439.4 308.6h0M421.1 342.2h0M407.7 295.8h0M443.8 300.3h0M422.3 337.8h0M413.2 340.6h0M401.4 297.6h0M428.5 328.6h0M424.6 286.0h0M420.9 320.6h0M406.5 334.1h0M440.7 302.3h0M436.2 319.1h0M394.4 296.9h0M394.0 304.8h0M424.5 327.6h0M399.2 342.0h0M440.4 326.5h0M437.3 304.7h0M407.2 300.1h0M408.6 317.1h0M415.5 301.1h0M413.9 312.1h0M378.4 307.1h0M433.6 318.0h0M420.0 324.9h0M409.9 295.0h0M384.5 282.6h0M404.1 313.5h0M391.1 324.6h0M396.2 285.2h0M409.1 286.1h0M413.7 275.8h0M423.8 313.0h0M412.1 320.4h0M399.8 297.9h0M405.3 294.1h0M400.4 345.1h0M395.1 340.2h0M453.6 311.6h0M405.8 283.2h0M443.5 322.1h0M434.4 312.7h0M421.6 337.4h0M446.1 316.7h0M412.9 305.9h0M410.6 291.9h0M455.7 316.5h0M393.2 303.8h0M416.9 336.1h0M424.6 291.4h0M413.9 323.2h0M386.9 301.7h0M433.4 303.5h0M417.0 322.5h0M436.8 302.0h0M436.0 313.5h0M391.3 292.9h0M412.2 321.7h0M437.0 314.5h0M422.2 324.6h0M417.8 299.9h0M403.1 289.4h0M395.3 296.0h0M426.3 317.1h0M425.2 293.4h0M401.5 286.0h0M433.0 319.2h0M384.1 288.5h0M389.0 291.1h0M448.5 309.4h0M400.4 303.9h0M387.6 297.8h0M420.8 289.6h0M424.3 311.2h0M447.3 303.7h0M390.0 338.9h0M425.5 298.7h0M449.5 310.5h0M399.2 282.7h0M420.9 332.8h0M453.7 305.3h0M391.0 326.5h0M395.3 296.2h0M433.0 323.6h0M426.4 315.7h0M394.8 343.1h0M440.8 318.1h0M457.1 315.4h0M455.9 306.9h0M408.7 320.7h0M408.7 315.4h0M422.8 327.9h0M411.9 319.2h0M383.7 282.6h0M442.3 306.2h0M405.0 306.4h0M408.0 317.5h0M396.0 288.6h0M416.7 288.6h0M409.3 275.3h0M397.2 294.1h0M380.1 311.3h0M417.6 318.4h0M408.5 328.1h0M423.3 297.3h0M421.4 321.1h0M384.2 284.5h0M436.9 325.9h0M423.9 305.1h0M416.6 302.4h0M407.8 278.7h0M406.7 293.3h0M384.1 286.1h0M414.4 297.3h0M393.8 304.3h0M426.1 334.4h0M416.7 279.5h0M390.3 303.1h0M397.4 340.5h0M449.5 319.7h0M452.8 315.7h0M425.6 329.5h0M432.9 329.1h0M391.6 327.7h0M405.3 294.7h0M418.7 333.4h0M398.7 294.6h0M414.6 338.0h0M403.4 287.2h0M410.7 327.0h0M420.6 316.8h0M410.2 300.9h0M392.5 298.8h0M401.4 289.1h0M448.2 306.0h0M430.0 326.5h0M408.1 316.3h0M408.0 291.6h0M423.1 292.1h0M392.4 337.4h0M415.0 316.7h0M382.0 282.6h0M385.3 286.1h0M401.6 310.8h0M408.5 289.5h0M403.9 280.3h0M389.8 294.4h0M451.1 313.1h0M394.8 297.3h0M414.4 306.0h0M448.6 305.9h0M450.9 320.4h0M391.5 298.4h0M444.1 324.0h0M437.0 326.9h0M377.2 310.6h0M422.2 338.9h0M455.9 310.8h0M410.1 291.2h0M402.3 290.8h0M448.5 319.2h0M387.0 282.5h0M407.6 275.1h0M410.1 273.9h0M411.2 278.7h0M421.8 318.4h0M417.7 317.1h0M393.6 332.1h0M405.4 311.0h0M391.1 328.8h0M409.6 291.6h0M410.1 289.9h0M422.3 312.8h0M416.1 283.3h0M399.6 327.3h0M401.4 312.9h0M454.4 305.4h0M419.5 312.0h0M413.5 307.3h0M457.0 311.7h0M454.3 318.6h0M395.6 331.9h0M428.0 301.9h0M423.5 322.8h0M416.7 297.5h0M415.0 280.6h0M405.6 339.4h0M425.7 294.5h0M409.6 288.1h0M401.2 309.9h0M383.5 289.5h0M412.0 301.8h0M412.1 315.7h0M396.2 307.4h0M411.4 338.9h0M426.5 330.7h0M433.0 325.7h0M439.7 321.2h0M414.5 338.2h0M387.4 325.2h0M415.1 287.3h0M397.7 302.4h0M416.6 284.8h0M436.1 303.7h0M389.9 297.6h0M423.4 333.8h0M416.2 280.2h0M386.1 332.8h0M393.0 305.1h0M418.2 282.6h0M393.6 290.1h0M414.1 294.8h0M391.8 305.0h0M395.6 299.4h0M417.0 315.8h0M391.2 284.7h0M419.6 303.1h0M442.6 325.9h0M410.7 290.9h0M421.8 285.9h0M411.2 342.4h0M411.1 325.5h0M425.5 300.1h0M376.2 309.4h0M391.7 300.9h0M417.2 297.7h0M388.4 298.2h0M415.1 332.8h0M403.0 279.5h0M424.3 295.7h0M452.2 305.2h0M398.7 323.7h0M430.7 330.2h0M401.0 284.0h0M408.5 288.1h0M413.2 335.4h0M412.6 303.3h0M420.7 340.0h0M386.9 327.8h0M397.6 287.7h0M385.3 300.9h0M406.0 301.7h0M444.9 325.1h0M433.2 328.6h0M412.6 283.1h0M403.5 290.6h0M419.2 316.3h0M408.8 310.1h0M414.7 287.7h0M452.9 317.9h0M399.7 325.9h0M406.6 317.9h0M425.4 329.2h0M414.9 290.9h0M387.7 320.6h0M406.1 286.6h0M413.4 292.6h0M394.7 290.3h0M390.3 332.7h0M435.9 324.1h0M402.1 307.2h0M401.4 307.6h0M382.2 331.1h0M407.8 292.8h0M442.7 299.8h0M451.2 309.8h0M418.6 291.4h0M430.2 306.4h0M400.6 326.6h0M419.0 328.2h0M419.6 296.0h0M426.8 300.7h0M392.7 298.0h0M399.6 302.7h0M423.9 325.7h0M438.0 315.3h0M415.9 314.3h0M441.1 311.2h0M383.0 285.3h0M407.9 283.4h0M414.8 324.8h0M433.9 322.1h0M400.8 329.7h0M398.0 283.9h0M398.0 322.8h0M415.7 333.6h0M414.4 279.3h0M438.8 321.3h0M426.4 332.4h0M414.8 288.7h0M419.1 297.9h0M414.1 321.5h0M447.6 299.8h0M420.9 301.3h0M424.6 309.2h0M411.6 277.1h0M421.0 289.6h0M407.8 299.6h0M426.2 327.9h0M448.5 306.6h0M445.1 325.0h0M425.4 311.0h0M415.3 289.8h0M411.3 308.0h0M396.0 307.5h0M446.3 305.0h0M412.3 319.8h0M422.7 336.9h0M398.4 335.9h0M400.1 280.5h0M380.8 308.4h0M380.8 288.6h0M390.5 325.2h0M397.4 326.3h0M428.2 323.2h0M410.4 303.7h0M404.4 282.5h0M395.5 291.8h0M415.6 292.5h0M432.2 317.8h0M437.8 322.3h0M438.5 305.1h0M424.1 308.3h0M422.5 295.8h0M440.7 323.0h0M434.2 317.4h0M409.2 276.4h0M420.8 290.2h0M426.0 322.5h0M425.0 329.3h0M432.1 310.0h0M414.8 297.5h0M446.2 299.4h0M416.5 294.4h0M390.1 294.1h0M395.4 282.9h0M424.6 320.7h0M452.4 301.9h0M393.6 287.1h0M406.6 293.9h0M407.9 300.9h0M415.0 337.7h0M380.0 295.3h0M414.3 274.7h0M428.6 300.2h0M447.2 313.1h0M399.0 330.6h0M439.6 301.8h0M439.8 322.9h0M434.4 314.5h0M421.4 317.6h0M387.3 282.8h0M399.2 299.2h0M405.3 305.2h0M392.2 293.9h0M409.6 299.6h0M438.3 326.4h0M408.8 278.7h0M449.1 307.1h0M385.1 288.3h0M434.8 316.7h0M455.2 309.6h0M399.1 341.9h0M396.3 307.8h0M390.0 298.4h0M444.0 317.0h0M397.3 298.1h0M406.8 308.6h0M421.7 328.3h0M444.6 315.4h0M439.5 305.6h0M398.6 310.8h0M383.7 323.3h0M408.3 303.8h0M402.1 284.2h0M395.6 295.9h0M414.1 298.5h0M444.7 306.8h0M424.2 313.8h0M403.7 301.0h0M445.0 314.2h0M387.1 340.3h0M381.6 298.1h0M417.5 313.6h0M378.4 307.4h0M427.9 308.4h0M395.0 294.8h0M414.0 320.1h0M419.2 314.4h0M420.9 302.2h0M451.1 302.2h0M398.4 285.1h0M403.7 297.1h0M397.4 337.1h0M410.8 322.6h0M396.3 287.7h0M388.2 301.6h0M417.6 290.6h0M426.9 319.3h0M416.8 277.2h0M414.6 312.8h0M397.4 282.7h0M394.3 286.0h0M434.8 319.6h0M375.2 310.5h0M427.1 298.6h0M446.1 322.1h0M386.2 290.7h0M415.5 329.2h0M381.4 327.2h0M411.4 339.6h0M452.8 305.6h0M451.6 315.9h0M419.8 293.4h0M412.2 340.7h0M411.2 328.5h0M411.7 294.3h0M394.4 330.7h0M400.4 305.4h0M407.4 337.5h0M422.4 340.7h0M419.6 295.3h0M393.2 325.0h0M437.5 328.3h0M414.8 297.2h0M435.1 314.1h0M446.4 319.3h0M389.6 332.9h0M409.6 323.3h0M411.5 322.7h0M415.7 317.4h0M407.6 307.5h0M387.5 319.9h0M378.4 306.6h0M394.1 304.6h0M384.6 297.0h0M385.9 333.8h0M452.0 305.0h0M417.9 336.0h0M444.1 323.2h0M431.4 329.0h0M434.6 302.5h0M418.3 282.3h0M445.3 308.2h0M447.9 313.6h0M438.3 308.9h0M397.4 293.9h0M411.2 285.8h0M390.4 302.3h0M421.2 333.3h0M426.0 317.6h0M407.3 296.3h0M402.8 299.6h0M388.5 297.5h0M434.0 307.2h0M416.7 314.6h0M412.8 283.2h0M435.8 323.4h0M395.1 342.4h0M442.2 307.5h0M452.7 311.1h0M426.9 315.6h0M429.0 304.8h0M398.8 287.7h0M416.4 318.0h0M413.3 301.2h0M425.4 335.9h0M389.6 289.1h0M381.7 285.8h0M440.8 322.2h0M415.7 310.0h0M385.0 297.0h0M410.1 286.1h0M449.2 321.8h0M379.8 308.8h0M419.1 280.4h0M440.2 322.3h0M415.6 341.1h0M439.9 310.4h0M425.4 310.1h0M397.6 293.6h0M441.2 311.9h0M425.1 291.5h0M444.3 318.5h0M434.2 306.2h0M424.9 312.7h0M424.6 337.5h0M385.1 288.4h0M444.6 303.2h0M412.5 343.7h0M415.5 335.8h0M432.4 306.4h0M424.0 288.1h0M409.8 274.4h0M384.1 291.0h0M426.7 320.5h0M414.3 326.3h0M394.6 298.4h0M389.2 289.4h0M412.7 273.3h0M441.3 309.5h0M399.4 320.7h0M398.5 343.7h0M424.6 298.5h0M398.2 309.2h0M397.5 327.9h0M424.8 330.7h0M400.3 285.4h0M417.6 319.5h0M433.2 328.0h0M423.1 317.9h0M410.1 289.3h0M393.2 306.1h0M402.4 344.3h0M388.2 292.4h0M378.1 311.5h0M406.8 315.0h0M396.4 303.1h0M415.4 305.5h0M423.0 313.5h0M422.6 312.2h0M424.9 300.7h0M426.9 297.2h0M418.4 311.9h0M400.4 336.7h0M441.1 327.0h0M419.7 329.3h0M407.3 329.0h0M440.2 310.4h0M377.2 311.8h0M421.8 306.5h0M407.6 338.0h0M426.8 318.1h0M431.3 324.5h0M408.7 302.5h0M438.4 307.3h0M412.8 329.7h0M397.7 305.1h0M393.4 287.9h0M411.5 339.1h0M400.3 345.5h0M438.5 308.5h0M411.5 340.6h0M413.4 336.9h0M427.4 308.3h0M424.2 326.2h0M399.2 307.2h0M423.8 340.4h0M409.5 298.6h0M385.1 323.3h0M393.9 331.9h0M448.1 312.6h0M413.9 300.9h0M416.9 278.6h0M389.9 318.1h0M390.0 286.0h0M385.1 303.4h0M443.9 301.6h0M413.0 330.0h0M451.7 315.5h0M384.5 282.9h0M394.8 289.7h0M379.1 308.1h0M406.9 273.4h0M418.7 291.6h0M406.8 289.7h0M418.5 288.7h0M406.8 309.0h0M413.2 337.7h0M396.2 284.7h0M411.8 326.2h0M430.3 322.8h0M424.7 293.3h0M392.2 327.8h0M398.6 290.7h0M445.4 324.9h0M390.8 302.2h0M421.3 337.1h0M378.5 307.6h0M393.1 282.8h0M394.5 317.1h0M399.2 283.3h0M418.0 347.4h0M423.8 326.1h0M384.1 330.3h0M425.5 312.2h0M384.2 336.2h0M452.3 316.3h0M413.8 291.1h0M445.3 301.0h0M389.2 332.8h0M404.9 290.9h0M436.7 307.2h0M438.1 311.9h0M402.6 283.0h0M390.6 288.4h0M424.3 328.4h0M436.8 304.8h0M422.3 287.2h0M387.7 286.3h0M421.3 295.4h0M423.9 311.8h0M436.9 318.6h0M420.8 288.6h0M412.9 294.1h0M411.7 288.1h0M428.8 329.4h0M454.6 305.6h0M404.1 347.0h0M401.9 292.1h0M423.5 301.9h0M420.7 303.0h0M424.2 286.8h0M390.9 287.4h0M387.1 298.9h0M451.1 301.1h0M421.0 321.7h0M398.2 329.1h0M398.2 319.7h0M413.4 311.8h0M386.1 286.1h0M455.1 308.7h0M390.6 316.8h0M416.8 294.2h0M384.5 298.5h0M393.3 289.7h0M398.8 296.7h0M396.7 288.4h0M397.9 326.6h0M441.0 316.6h0M394.0 321.4h0M378.0 309.0h0M423.2 336.3h0M425.5 331.2h0M419.2 322.6h0M395.3 307.8h0M437.6 325.6h0M454.3 304.1h0M412.7 323.5h0M414.8 294.3h0M404.4 281.1h0M405.2 287.4h0M410.0 315.9h0M407.5 293.2h0M443.3 318.4h0M409.1 295.0h0M435.0 323.1h0M420.7 314.3h0M422.1 335.6h0M417.5 331.0h0M425.2 326.7h0M381.0 297.6h0M404.1 316.8h0M387.4 297.3h0M424.3 326.1h0M433.6 328.6h0M437.3 312.5h0M447.4 308.3h0M420.0 284.6h0M401.1 307.8h0M442.6 312.3h0M387.4 302.4h0M394.0 302.4h0M422.7 282.5h0M394.7 333.7h0M393.5 295.5h0M427.3 293.4h0M407.6 314.6h0M384.9 294.8h0M384.9 287.7h0M415.0 317.7h0M419.7 305.3h0M420.9 295.3h0M394.0 285.1h0M398.1 316.9h0M433.4 325.7h0M440.6 301.5h0M385.1 285.7h0M412.7 282.5h0M456.4 311.8h0M417.9 291.5h0M396.8 293.0h0M412.5 326.9h0M376.0 310.8h0M434.1 313.0h0M384.3 325.9h0M419.1 318.4h0M425.6 298.1h0M388.7 286.8h0M443.4 302.5h0M395.5 319.2h0M407.8 289.5h0M406.6 282.8h0M423.2 302.8h0M407.6 282.6h0M421.9 306.0h0M446.9 321.1h0M391.4 326.4h0M437.3 316.6h0M451.1 309.2h0M416.9 304.2h0M399.9 288.2h0M434.6 314.1h0M433.8 312.4h0M411.2 284.3h0M419.3 329.6h0M418.5 319.4h0M424.4 331.1h0M444.8 311.5h0M418.7 288.1h0M402.2 299.8h0M395.6 328.4h0M446.2 323.0h0M422.0 291.6h0M396.5 290.7h0M394.1 294.5h0M424.0 336.0h0M413.9 339.2h0M390.4 289.7h0M409.7 280.2h0M397.7 291.0h0M412.9 312.9h0M394.2 339.4h0M416.9 280.9h0M423.0 315.7h0M393.5 322.4h0M407.1 304.7h0M412.8 321.1h0M441.2 322.9h0M410.0 307.0h0M421.4 281.7h0M414.4 310.4h0M410.7 333.0h0M426.7 293.0h0M400.9 306.6h0M404.6 305.1h0M414.9 318.9h0M402.6 289.8h0M382.3 307.8h0M416.7 282.9h0M407.9 276.5h0M394.0 328.1h0M409.7 310.7h0M413.0 327.7h0M398.1 342.7h0M416.7 292.5h0M427.6 293.4h0M414.4 319.4h0M381.5 293.0h0M412.9 280.2h0M425.0 317.4h0M444.3 313.6h0M377.3 309.4h0M386.0 323.5h0M411.9 288.0h0M431.7 309.7h0M423.4 313.0h0M417.7 302.0h0M380.9 290.1h0M391.9 299.5h0M417.0 338.6h0M419.7 314.8h0M427.4 307.3h0M412.3 329.1h0M407.3 285.1h0M409.4 277.2h0M419.9 309.4h0M439.7 319.2h0M421.8 293.9h0M414.7 336.1h0M393.5 326.0h0M404.5 296.9h0M416.9 336.4h0M412.5 301.0h0M443.4 302.4h0M397.3 309.3h0M408.7 300.3h0M407.3 286.4h0M406.1 315.1h0M425.4 316.2h0M391.6 342.6h0M396.4 328.3h0M416.9 316.3h0M383.7 293.9h0M421.3 305.2h0M391.1 294.6h0M408.5 279.7h0M409.0 318.6h0M402.1 309.4h0M411.9 279.1h0M405.3 294.0h0M393.8 325.5h0M409.4 342.2h0M401.1 337.1h0M423.1 287.0h0M433.2 330.3h0M420.5 292.2h0M429.4 322.5h0M394.8 285.4h0M398.1 298.1h0M421.3 326.3h0M406.6 308.7h0M436.1 320.7h0M448.5 320.1h0M413.9 277.3h0M445.7 305.8h0M412.4 321.8h0M421.7 320.4h0M399.2 311.4h0M399.3 290.6h0M391.5 300.7h0M384.6 282.7h0M441.0 322.1h0M418.4 332.4h0M394.6 307.6h0M438.2 319.2h0M421.1 313.0h0M384.7 285.9h0M414.9 282.2h0M398.4 293.9h0M398.6 308.1h0M422.6 322.0h0M401.3 314.5h0M405.5 285.9h0M450.5 315.9h0M410.0 290.5h0M441.8 327.1h0M395.7 330.7h0M435.9 311.0h0M404.3 342.6h0M409.2 317.6h0M401.7 307.4h0M441.7 322.0h0M411.8 304.3h0M435.2 322.1h0M395.4 285.8h0M404.0 302.7h0M414.8 301.4h0M420.7 315.4h0M422.6 321.1h0M386.2 299.8h0M414.5 317.8h0M435.6 325.3h0M414.7 333.1h0M434.5 325.7h0M400.6 284.2h0M420.7 321.8h0M416.5 284.6h0M425.3 314.0h0M395.1 304.0h0M377.1 308.1h0M408.1 314.0h0M449.7 305.1h0M444.0 303.7h0M395.6 300.3h0M436.9 325.2h0M418.2 304.8h0M416.1 334.4h0M420.5 287.2h0M392.6 286.7h0M413.8 324.7h0M396.9 303.2h0M416.6 286.9h0M423.3 327.0h0M395.1 319.0h0M412.6 276.1h0M394.1 291.2h0M435.1 302.3h0M410.6 275.3h0M418.8 290.5h0M412.7 322.8h0M410.0 288.9h0M411.0 340.3h0M396.2 305.8h0M451.5 306.7h0M412.5 306.7h0M440.4 311.8h0M389.0 285.7h0M448.4 310.6h0M408.3 303.5h0M419.1 325.8h0M413.6 325.5h0M413.5 306.2h0M382.0 285.3h0M417.0 331.5h0M385.9 292.4h0M400.6 310.4h0M415.7 283.0h0M412.2 289.4h0M451.4 318.1h0M421.6 315.7h0M407.0 336.1h0M395.5 302.6h0M426.9 290.3h0M384.5 325.7h0M393.0 297.5h0M412.5 296.0h0M389.5 292.8h0M386.2 324.1h0M404.6 290.9h0M408.0 293.1h0M410.6 309.9h0M407.4 333.9h0M403.4 310.9h0M387.1 328.1h0M401.3 293.7h0M433.6 315.4h0M423.8 327.1h0M431.2 307.0h0M396.3 319.8h0M414.8 319.3h0M394.4 342.8h0M423.7 337.6h0M435.6 310.1h0M417.2 286.1h0M440.4 311.3h0M389.6 282.2h0M406.0 288.6h0M437.7 309.3h0M422.7 296.8h0M419.0 315.7h0M412.4 275.7h0M419.2 346.2h0M377.7 308.5h0M409.5 308.9h0M387.6 284.0h0M442.7 301.7h0M383.9 325.8h0M403.8 304.5h0M425.7 293.0h0M399.9 294.6h0M427.6 296.1h0M435.4 313.3h0M378.8 306.2h0M418.4 332.8h0M417.6 327.9h0M417.0 324.6h0M432.6 328.6h0M418.2 327.7h0M408.4 314.8h0M417.3 342.6h0M422.6 284.4h0M419.3 296.1h0M451.6 320.3h0M420.2 338.5h0M408.0 287.4h0M384.4 328.2h0M386.8 304.0h0M429.5 306.0h0M379.8 307.2h0M391.7 331.0h0M408.6 274.0h0M427.6 298.1h0M397.4 327.2h0M413.7 329.6h0M414.5 328.7h0M404.4 308.2h0M420.3 330.8h0M396.0 336.6h0M424.1 337.5h0M412.7 335.1h0M446.8 303.7h0M452.6 306.8h0M399.6 329.2h0M421.8 313.1h0M404.7 315.1h0M390.9 294.9h0M423.5 336.6h0M384.0 282.8h0M399.2 301.4h0M437.8 325.4h0M399.5 328.6h0M418.3 337.5h0M443.6 322.8h0M420.0 321.4h0M423.3 330.6h0M399.3 296.8h0M441.6 302.1h0M419.9 336.0h0M435.5 305.7h0M410.2 313.5h0M442.2 299.5h0M385.6 300.9h0M420.0 322.5h0M406.0 303.4h0M425.5 305.3h0M399.0 302.0h0M413.5 298.6h0M393.5 295.5h0M392.0 319.6h0M397.1 288.2h0M384.5 282.0h0M444.2 306.2h0M395.3 281.8h0M422.4 333.1h0M402.7 298.9h0M408.2 309.0h0M440.8 311.3h0M439.2 324.1h0M403.7 291.0h0M451.1 300.7h0M416.8 298.8h0M429.1 320.1h0M395.7 297.9h0M406.3 311.7h0M416.0 302.1h0M403.7 295.9h0M433.6 319.4h0M432.7 303.6h0M406.1 287.2h0M397.1 323.9h0M386.9 292.9h0M397.2 292.6h0M436.2 307.9h0M386.6 299.2h0M403.6 301.5h0M411.2 304.4h0M444.5 310.3h0M421.0 283.6h0M402.7 309.6h0M384.2 283.2h0M437.8 324.4h0M423.7 322.1h0M421.8 332.8h0M424.1 300.3h0M398.2 328.0h0M447.2 320.3h0M406.1 290.7h0M435.7 306.0h0M418.2 283.5h0M408.2 302.4h0M435.6 330.2h0M388.4 297.7h0M422.5 288.8h0M404.5 299.5h0M428.7 301.0h0M417.4 301.6h0M448.1 309.8h0M383.8 300.3h0M425.5 291.7h0M386.9 283.9h0M409.0 301.5h0M399.6 306.5h0M428.4 309.7h0M439.1 306.1h0M440.9 301.9h0M431.6 304.5h0M398.3 328.9h0M411.5 312.2h0M410.0 285.8h0M405.6 308.8h0M442.2 322.8h0M426.7 322.8h0M389.7 285.0h0M422.5 300.5h0M412.6 297.8h0M401.4 290.4h0M407.9 278.3h0M388.6 283.9h0M437.2 309.3h0M442.2 316.0h0M418.2 288.8h0M394.3 340.7h0M414.3 277.7h0M398.2 297.7h0M431.2 306.7h0M410.2 302.1h0M422.7 331.3h0M395.6 301.8h0M398.5 294.4h0M415.8 330.4h0M416.9 288.7h0M423.2 310.8h0M394.0 291.6h0M434.3 307.1h0M401.4 297.2h0M449.6 307.2h0M397.4 288.3h0M379.7 286.7h0M455.6 315.1h0M404.3 296.2h0M407.7 277.6h0M407.1 308.9h0M403.7 296.9h0M401.4 296.3h0M418.8 335.1h0M425.7 333.9h0M428.9 310.2h0M376.7 309.5h0M417.0 326.6h0M410.8 328.0h0M424.9 309.2h0M427.6 292.7h0M395.4 326.6h0M416.3 301.1h0M448.8 301.9h0M424.5 290.9h0M450.2 319.3h0M446.5 310.0h0M401.0 282.3h0M416.9 331.8h0M455.3 311.9h0M394.0 321.8h0M392.6 282.0h0M397.9 317.5h0M397.5 287.6h0M409.4 323.2h0M440.1 313.5h0M419.2 297.5h0M422.9 337.7h0M416.3 322.2h0M425.3 304.3h0M419.4 311.3h0M383.5 285.0h0M422.9 300.3h0M387.6 287.1h0M387.1 296.7h0M411.3 335.3h0M407.6 279.1h0M422.0 296.2h0M395.1 322.0h0M421.4 316.1h0M439.4 319.1h0M400.1 292.8h0M425.2 324.0h0M432.2 316.3h0M432.6 308.1h0M425.6 313.0h0M396.0 288.0h0M415.5 315.1h0M385.1 325.2h0M409.9 277.6h0M392.4 289.7h0M446.5 315.5h0M401.9 292.4h0M425.6 309.4h0M420.1 316.1h0M384.7 294.8h0M419.2 311.0h0M439.6 325.1h0M423.1 294.3h0M402.9 310.5h0M399.1 302.9h0M415.1 287.1h0M453.9 315.2h0M410.1 313.0h0M438.8 311.4h0M398.8 330.6h0M409.8 322.8h0M425.6 294.8h0M422.3 307.6h0M443.0 312.1h0M409.6 302.3h0M440.6 311.6h0M409.2 333.5h0M383.9 284.0h0M403.6 312.4h0M423.7 295.0h0M417.9 340.6h0M384.0 296.0h0M415.8 325.4h0M420.8 290.7h0M444.4 310.6h0M436.9 323.1h0M423.8 330.5h0M424.6 333.9h0M420.5 292.1h0M416.1 320.5h0M385.8 329.3h0M402.7 281.9h0M418.0 334.5h0M397.0 293.4h0M418.9 295.3h0M422.2 315.4h0M450.8 306.3h0M433.6 320.8h0M402.1 313.1h0M408.2 284.8h0M399.6 336.7h0M394.4 289.0h0M395.8 284.4h0M398.4 302.5h0M424.8 328.8h0M418.4 338.2h0M425.9 307.5h0M405.1 313.0h0M414.3 298.7h0M438.3 325.8h0M383.1 292.4h0M410.9 285.9h0M448.3 313.4h0M422.8 321.7h0M420.5 320.8h0M416.1 347.6h0M387.8 304.0h0M418.3 297.3h0M417.5 317.6h0M388.6 327.0h0M406.6 300.4h0M408.3 327.2h0M392.5 340.5h0M420.0 282.4h0M410.6 281.5h0M401.0 314.3h0M408.3 279.0h0M415.6 280.1h0M422.0 301.7h0M412.3 345.4h0M436.5 328.8h0M436.2 303.6h0M410.7 291.2h0M404.2 280.4h0M408.6 317.3h0M389.4 288.5h0M443.3 310.1h0M411.9 286.0h0M411.6 322.1h0M411.7 281.4h0M453.4 314.7h0M392.6 294.8h0M432.8 305.1h0M419.8 287.7h0M398.4 300.8h0M403.0 293.8h0M388.6 281.0h0M409.2 300.2h0M450.1 303.3h0M385.4 335.7h0M429.1 324.6h0M401.6 304.4h0M421.4 337.2h0M417.9 314.3h0M392.3 308.0h0M418.2 297.6h0M450.6 308.8h0M407.0 282.8h0M408.4 305.6h0M407.7 314.4h0M437.5 318.4h0M453.0 305.1h0M431.0 331.5h0M391.0 283.5h0M410.3 336.2h0M419.8 306.3h0M419.1 307.3h0M422.3 330.4h0M435.5 307.8h0M391.8 320.0h0M439.2 310.8h0M448.5 321.1h0M441.3 301.3h0M417.9 284.8h0M430.6 325.9h0M395.1 342.4h0M406.5 315.9h0M418.7 280.1h0M442.9 316.4h0M428.0 321.1h0M401.5 313.2h0M403.9 308.3h0M414.0 336.9h0M414.5 311.2h0M397.1 289.2h0M401.6 280.6h0M394.4 303.5h0M397.7 322.0h0M415.1 298.8h0M415.1 297.8h0M412.7 316.6h0M407.8 276.4h0M443.1 309.6h0M427.3 319.2h0M427.6 327.8h0M385.1 300.9h0M428.4 302.1h0M415.4 283.5h0M441.3 301.0h0M416.2 276.1h0M419.6 323.9h0M430.9 329.4h0M415.9 302.1h0M429.5 298.8h0M409.7 286.8h0M438.2 319.4h0M408.7 287.0h0M449.7 309.9h0M418.3 295.0h0M430.6 305.8h0M442.5 318.4h0M428.4 323.5h0M416.5 335.7h0M396.9 286.0h0M388.7 283.6h0M425.4 323.2h0M445.1 322.5h0M423.7 297.5h0M434.7 313.4h0M393.5 290.4h0M422.6 313.0h0M416.9 306.0h0M415.4 332.4h0M453.4 311.3h0M388.0 289.1h0M377.3 306.7h0M425.4 311.2h0M383.6 294.1h0M454.3 304.9h0M438.2 302.2h0M423.3 313.1h0M449.2 305.5h0M440.8 305.7h0M450.7 308.9h0M403.3 290.0h0M440.5 300.8h0M453.6 305.3h0M415.5 307.5h0M408.5 300.6h0M410.5 288.5h0M388.5 292.5h0M409.1 337.1h0M393.0 341.7h0M415.5 331.7h0M395.9 283.3h0M405.7 294.6h0M412.6 314.6h0M416.9 281.6h0M441.2 321.3h0M395.5 286.6h0M453.1 303.2h0M392.6 299.3h0M439.9 322.3h0M423.4 334.4h0M399.8 292.1h0M395.7 291.0h0M441.7 311.8h0M404.2 301.5h0M423.5 287.6h0M439.6 329.2h0M401.1 308.5h0M414.9 319.5h0M428.9 316.2h0M415.0 302.4h0M411.6 322.2h0M439.2 304.5h0M391.3 294.7h0M424.9 301.6h0M397.7 298.2h0M398.2 305.6h0M421.6 294.0h0M389.2 304.2h0M425.2 308.6h0M400.0 337.7h0M396.2 307.5h0M399.4 298.7h0M433.7 317.8h0M374.5 311.2h0M392.0 293.3h0M414.8 288.6h0M399.4 289.0h0M408.2 330.2h0M440.0 309.6h0M415.9 286.9h0M436.4 326.4h0M420.7 329.7h0M401.9 299.1h0M388.1 339.6h0M391.1 292.4h0M405.3 294.8h0M404.4 298.0h0M422.7 293.5h0M399.0 309.7h0M394.4 324.9h0M396.7 290.2h0M389.7 301.0h0M408.7 293.5h0M423.5 293.3h0M415.2 326.5h0M376.7 308.9h0M415.0 277.2h0M426.2 309.2h0M425.0 299.8h0M393.3 284.7h0M425.7 319.6h0M400.2 302.7h0M399.7 333.7h0M439.7 306.0h0M437.0 329.6h0M405.5 303.9h0M411.2 341.7h0M388.2 320.7h0M398.3 309.8h0M421.4 333.0h0M410.7 317.2h0M409.5 290.5h0M418.1 287.8h0M388.6 290.9h0M413.5 315.1h0M436.0 312.6h0M420.1 287.5h0M406.9 286.6h0M435.4 304.3h0M442.7 321.9h0M393.5 296.0h0M445.5 300.9h0M442.9 322.0h0M427.8 322.7h0M383.3 284.5h0M386.0 288.9h0M423.9 295.4h0M390.6 331.8h0M408.7 323.1h0M412.5 309.7h0M399.8 298.5h0M423.0 314.9h0M419.0 290.2h0M425.9 308.7h0M420.0 308.7h0M411.4 317.8h0M417.4 289.7h0M401.8 311.1h0M417.3 295.3h0M414.2 274.7h0M423.0 329.7h0M418.1 292.2h0M417.5 330.1h0M422.5 326.0h0M400.9 282.0h0M411.5 324.0h0M428.4 298.8h0M393.4 285.1h0M418.3 317.6h0M448.6 307.4h0M432.4 321.0h0M422.2 323.0h0M385.8 298.4h0M415.5 293.5h0M419.7 313.7h0M413.7 301.3h0M415.7 337.7h0M420.0 338.8h0M401.3 280.4h0M412.0 307.9h0M383.5 325.3h0M407.0 295.9h0M432.2 307.8h0M436.7 303.1h0M429.1 313.4h0M439.0 324.5h0M391.1 282.4h0M413.5 304.0h0M384.9 284.9h0M442.1 319.3h0M408.3 333.6h0M455.6 314.6h0M402.1 302.0h0M414.9 280.1h0M413.9 288.4h0M432.6 326.5h0M423.8 299.4h0M398.0 299.1h0M439.9 325.7h0M411.3 289.7h0M421.6 339.0h0M404.3 291.6h0M418.6 289.7h0M444.5 313.6h0M443.6 320.5h0M411.3 298.1h0M398.1 304.2h0M431.2 328.0h0M390.4 292.8h0M415.9 298.8h0M440.2 310.5h0M404.6 345.1h0M436.4 324.3h0M411.0 292.9h0M422.2 335.9h0M428.3 297.3h0M415.0 332.6h0M399.2 290.5h0M396.3 292.9h0M418.8 281.7h0M407.7 311.0h0M407.3 295.7h0M436.6 302.0h0M440.0 322.1h0M414.9 315.8h0M421.9 340.5h0M406.0 291.8h0M425.8 316.5h0M418.5 286.9h0M410.6 284.6h0M455.8 313.3h0M418.5 312.5h0M383.4 332.0h0M426.4 296.3h0M396.8 333.5h0M452.7 307.4h0M414.7 339.0h0M456.0 307.1h0M402.2 292.7h0M396.0 296.1h0M390.8 303.3h0M381.8 330.4h0M418.5 322.4h0M425.6 316.2h0M398.2 307.0h0M416.6 280.0h0M407.4 335.0h0M415.1 275.0h0M425.4 329.9h0M433.0 303.1h0M432.5 322.9h0M436.5 311.7h0M434.8 313.6h0M415.2 283.0h0M413.2 311.2h0M440.6 301.4h0M407.8 338.4h0M385.8 299.8h0M413.2 328.8h0M407.7 279.5h0M385.9 291.7h0M430.2 297.8h0M439.3 306.4h0M420.3 338.8h0M424.5 308.9h0M402.8 284.2h0M425.8 309.7h0M426.1 334.3h0M386.9 287.1h0M407.9 309.8h0M453.0 306.4h0M421.0 323.9h0M411.2 348.3h0M398.2 320.4h0M387.7 290.2h0M428.1 313.3h0M389.4 287.2h0M412.1 327.1h0M399.7 312.2h0M403.1 314.7h0M411.7 330.1h0M421.4 338.0h0M426.4 328.1h0M422.5 330.1h0M422.4 296.0h0M419.2 300.9h0M422.6 292.2h0M414.4 297.8h0M418.8 302.4h0M422.5 282.7h0M395.3 341.4h0M382.5 283.3h0M430.0 328.0h0M428.4 294.3h0M419.5 296.9h0M399.8 338.0h0M411.6 295.9h0M393.2 284.6h0M414.2 282.4h0M402.1 305.7h0M431.0 324.5h0M417.6 302.4h0M398.5 281.2h0M415.8 286.1h0M415.8 281.8h0M388.8 286.1h0M414.3 319.7h0M411.8 307.5h0M437.1 310.6h0M452.1 307.0h0M405.6 302.7h0M425.7 304.1h0M453.2 305.9h0M423.7 339.1h0M383.4 330.0h0M450.3 310.6h0M394.6 293.2h0M413.7 318.5h0M417.2 326.5h0M397.2 337.6h0M402.4 290.3h0M388.1 299.3h0M387.5 321.1h0M413.5 284.9h0M417.8 295.9h0M449.2 305.1h0M403.5 306.8h0M387.7 290.8h0M445.0 321.4h0M399.6 299.8h0M425.1 292.6h0M408.1 334.1h0M445.8 303.8h0M387.5 327.2h0M417.2 278.7h0M397.7 341.1h0M414.1 323.9h0M398.8 323.6h0M444.3 312.9h0M420.0 301.3h0M397.5 306.8h0M439.8 317.3h0M410.9 312.9h0M412.5 302.2h0M434.9 314.8h0M392.8 315.1h0M411.0 337.5h0M432.7 325.6h0M413.2 334.2h0M393.8 298.4h0M452.5 313.7h0M440.9 305.3h0M391.5 298.2h0M411.6 335.9h0M402.8 310.9h0M398.9 286.8h0M418.2 325.7h0M445.5 318.2h0M398.5 342.2h0M388.3 292.7h0M421.8 301.8h0M401.7 298.2h0M441.0 309.4h0M422.5 331.7h0M416.3 327.5h0M417.4 315.1h0M452.3 303.6h0M455.5 312.4h0M439.8 324.5h0M421.2 300.2h0M421.3 339.4h0M390.0 293.3h0M441.2 327.6h0M445.3 322.3h0M383.7 299.8h0M421.1 327.8h0M412.7 334.6h0M410.2 284.6h0M422.5 325.6h0M436.4 323.3h0M386.2 295.9h0M413.9 317.4h0M410.3 296.2h0M419.8 299.0h0M392.0 286.4h0M418.2 317.0h0M413.7 276.7h0M411.5 277.5h0M410.4 330.5h0M385.8 285.5h0M431.6 314.6h0M400.4 307.2h0M417.3 300.3h0M388.3 298.7h0M392.5 282.1h0M418.1 279.8h0M402.9 313.1h0M403.4 308.7h0M403.8 293.8h0M410.9 273.3h0M420.7 337.1h0M383.3 285.1h0M425.8 327.5h0M438.6 301.2h0M426.1 311.7h0M417.5 328.9h0M411.9 278.5h0M404.2 284.3h0M381.5 297.2h0M438.6 315.6h0M400.6 307.1h0M417.7 310.0h0M442.1 323.6h0M386.8 284.3h0M413.8 344.0h0M421.9 303.6h0M448.4 300.5h0M405.4 291.0h0M408.4 311.7h0M391.3 291.4h0M387.5 298.9h0M379.1 309.1h0M414.0 297.4h0M425.9 312.8h0M418.0 286.6h0M388.1 327.7h0M418.4 315.9h0M377.4 310.6h0M401.9 314.9h0M435.8 302.8h0M400.1 295.3h0M382.0 327.2h0M443.8 322.0h0M410.2 334.5h0M427.6 314.4h0M421.4 336.6h0M408.8 288.9h0M445.1 314.0h0M417.7 311.9h0M410.7 291.6h0M442.3 314.7h0M445.6 301.5h0M405.1 279.7h0M439.8 320.7h0M441.3 320.3h0M439.3 310.6h0M401.3 284.4h0M397.5 309.5h0M410.4 280.6h0M388.7 324.0h0M455.8 314.4h0M410.8 274.9h0M420.8 336.2h0M415.3 297.7h0M434.4 320.9h0M418.1 315.4h0M417.9 280.2h0M419.0 317.0h0M394.8 329.5h0M391.1 286.9h0M416.7 286.2h0M412.8 308.1h0M397.6 326.1h0M410.6 313.1h0M412.6 314.3h0M428.0 320.6h0M412.9 320.9h0M415.3 279.9h0M395.5 330.4h0M422.3 301.2h0M402.9 296.5h0M431.9 328.7h0M412.1 276.7h0M394.6 329.6h0M451.1 311.6h0M444.9 315.2h0M415.9 304.4h0M415.5 305.6h0M409.3 340.8h0M440.7 325.9h0M416.7 321.6h0M382.2 286.2h0M451.4 315.9h0M417.1 337.9h0M398.4 334.9h0M413.2 302.3h0M376.2 309.6h0M422.7 294.5h0M434.9 320.6h0M427.2 313.8h0M420.9 300.7h0M444.4 307.5h0M384.6 325.6h0M411.5 307.3h0M429.9 319.4h0M432.8 311.5h0M423.0 293.7h0M396.9 323.2h0M395.2 284.7h0M406.2 298.2h0M447.1 301.5h0M398.1 326.9h0M440.0 325.9h0M410.4 276.2h0M394.2 291.3h0M408.5 304.0h0M396.1 317.4h0M399.2 284.4h0M406.8 284.3h0M413.6 303.8h0M419.8 300.1h0M453.5 306.5h0M430.5 321.6h0M385.7 285.5h0M421.0 296.1h0M411.4 335.8h0M409.3 332.0h0M399.7 307.1h0M418.2 279.2h0M395.5 293.5h0M423.7 329.7h0M414.7 296.1h0M410.0 340.5h0M406.3 339.5h0M389.9 290.0h0M402.0 302.2h0M452.8 304.0h0M422.2 307.1h0M408.0 302.7h0M438.4 320.0h0M425.5 308.2h0M391.2 325.6h0M397.9 304.1h0M387.3 296.0h0M412.4 330.9h0M420.4 297.3h0M418.1 298.1h0M412.1 292.1h0M396.2 341.5h0M398.6 327.8h0M417.7 289.3h0M387.1 303.3h0M450.5 301.3h0M387.4 285.7h0M395.5 285.1h0M401.3 313.5h0M427.9 300.2h0M421.6 295.6h0M453.6 309.9h0M386.7 293.6h0M396.3 296.6h0M435.6 326.9h0M432.7 304.7h0M397.9 301.9h0M397.1 293.7h0M378.1 308.0h0M411.0 304.0h0M439.7 311.4h0M436.4 317.6h0M443.2 309.9h0M422.8 325.8h0M424.4 327.2h0M408.9 334.6h0M423.0 293.9h0M423.3 325.2h0M416.6 321.0h0M408.7 296.2h0M427.6 314.0h0M419.0 306.0h0M377.7 311.3h0M413.1 313.4h0M439.1 313.1h0M390.1 300.5h0M399.7 287.9h0M418.5 281.8h0M406.8 329.8h0M434.9 309.2h0M423.7 302.1h0M398.5 293.7h0M407.2 305.4h0M411.6 319.1h0M389.4 301.4h0M395.8 335.7h0M443.2 300.3h0M394.4 327.3h0M452.7 309.5h0M448.5 311.6h0M401.1 302.1h0M416.0 279.3h0M445.6 319.2h0M421.0 329.9h0M423.1 282.6h0M422.6 322.0h0M388.0 303.3h0M394.5 294.7h0M417.9 289.3h0M390.9 300.9h0M436.4 327.2h0M381.3 288.1h0M421.8 318.4h0M406.9 297.0h0M415.6 310.2h0M393.9 305.3h0M411.8 297.7h0M397.1 295.8h0M405.4 307.5h0M423.6 328.2h0M439.2 322.6h0M396.5 297.7h0M398.4 343.7h0M407.7 331.9h0M414.5 336.5h0M413.3 292.7h0M424.1 298.0h0M437.2 323.8h0M407.0 278.3h0M428.0 295.5h0M382.2 295.8h0M429.7 320.2h0M402.3 288.4h0M407.4 285.6h0M400.2 333.2h0M418.0 293.9h0M433.3 314.1h0M419.4 290.5h0M396.0 285.6h0M446.0 319.3h0M412.4 283.4h0M447.7 320.8h0M417.7 319.7h0M447.8 316.8h0M416.4 309.9h0M422.5 329.8h0M389.9 301.4h0M447.3 305.5h0M399.2 294.2h0M429.9 328.6h0M415.2 316.6h0M403.6 290.2h0M414.1 276.1h0M410.9 330.4h0M405.2 289.2h0M391.3 305.0h0M391.9 281.7h0M412.8 291.0h0M422.0 303.3h0M407.7 316.2h0M409.3 313.6h0M440.4 301.9h0M446.5 313.1h0M416.4 325.9h0M421.3 302.6h0M407.9 296.7h0M404.8 305.0h0M421.0 324.6h0M391.5 304.5h0M409.3 279.4h0M409.9 334.0h0M389.5 294.7h0M437.8 313.9h0M424.5 290.9h0M425.0 322.7h0M415.4 337.7h0M454.9 314.7h0M408.6 277.2h0M448.9 300.7h0M396.7 297.1h0M411.4 286.7h0M457.8 310.6h0M434.5 309.2h0M456.3 309.0h0M440.6 323.6h0M429.5 309.1h0M411.4 289.4h0M408.2 298.7h0M416.7 277.8h0M425.8 298.9h0M452.4 314.1h0M395.3 336.5h0M393.1 328.3h0M384.9 300.0h0M427.0 327.7h0M394.1 333.1h0M411.7 313.6h0M401.0 313.9h0M419.9 305.3h0M416.3 332.1h0M397.9 301.5h0M394.7 324.7h0M428.8 312.3h0M397.7 327.9h0M445.2 305.7h0M419.7 301.3h0M398.6 332.0h0M435.6 318.6h0M421.2 293.8h0M409.7 325.3h0M423.8 290.2h0M426.2 323.9h0M399.1 344.0h0M381.8 286.3h0M403.2 297.6h0M411.1 285.8h0M395.2 302.9h0M382.5 285.1h0M401.2 289.7h0M446.3 300.1h0M401.5 302.3h0M407.9 300.7h0M418.8 330.1h0M416.0 324.7h0M419.2 322.8h0M398.4 301.5h0M401.1 312.6h0M451.2 314.7h0M397.1 295.8h0M447.4 315.8h0M433.3 318.7h0M397.6 298.4h0M426.9 321.2h0M384.9 325.6h0M425.8 293.2h0M406.2 306.6h0M386.6 288.1h0M450.9 308.3h0M391.2 287.4h0M397.4 294.7h0M435.5 304.6h0M397.6 304.4h0M401.3 337.4h0M422.3 336.7h0M415.6 307.8h0M387.3 299.5h0M407.3 296.8h0M426.5 322.0h0M413.0 314.9h0M453.0 313.9h0M397.4 325.7h0M410.0 305.8h0M406.2 306.7h0M428.3 328.5h0M402.0 340.3h0M435.4 314.4h0M419.3 322.1h0M427.3 326.3h0M429.2 298.6h0M397.2 320.1h0" stroke="#e0e0e0" stroke-width="1.2" stroke-linecap="round" fill="none" opacity="1.0"/>
<path d="M433.7 311.9h0M409.4 334.6h0M424.5 295.4h0M391.6 319.9h0M415.9 324.6h0M400.5 296.7h0M455.8 313.1h0M408.1 335.5h0M429.4 304.0h0M411.3 316.4h0M390.2 325.9h0M382.8 328.7h0M384.3 333.4h0M392.4 332.7h0M419.3 308.1h0M410.5 286.8h0M415.8 301.2h0M425.9 290.0h0M406.8 306.0h0M430.9 311.7h0M442.1 305.2h0M412.4 278.1h0M397.0 336.7h0M406.3 297.1h0M399.9 291.2h0M433.1 312.5h0M394.6 330.4h0M396.7 322.7h0M410.2 338.2h0M416.0 282.6h0M396.4 343.8h0M410.6 336.2h0M403.3 314.9h0M394.4 322.1h0M418.2 311.6h0M411.2 315.6h0M389.2 321.3h0M422.3 336.1h0M406.3 283.7h0M444.9 323.7h0M438.0 327.6h0M416.0 299.2h0M450.0 299.8h0M424.7 298.2h0M410.1 335.7h0M394.3 326.5h0M449.5 305.6h0M398.8 340.9h0M390.5 318.1h0M420.3 340.5h0M385.0 295.0h0M391.3 322.9h0M399.0 318.2h0M388.0 303.6h0M396.7 331.2h0M410.4 293.8h0M376.9 307.0h0M402.9 284.9h0M384.5 331.3h0M434.9 311.9h0M427.2 327.9h0M435.9 303.7h0M408.0 281.9h0M406.5 315.5h0M411.9 314.2h0M432.9 304.4h0M411.1 279.1h0M395.0 328.7h0M396.5 319.6h0M399.9 343.4h0M402.6 302.6h0M392.3 284.2h0M383.2 330.5h0M440.0 309.3h0M426.8 322.6h0M416.6 287.5h0M435.1 330.6h0M389.6 337.4h0M396.9 328.6h0M424.3 290.8h0M383.9 322.6h0M439.8 316.8h0M415.4 281.6h0M410.2 275.2h0M397.8 327.4h0M423.4 323.7h0M447.8 299.3h0M442.3 304.9h0M400.9 340.3h0M412.1 332.8h0M403.3 300.5h0M383.2 296.4h0M411.4 295.0h0M442.5 326.7h0M393.0 330.2h0M435.8 327.0h0M453.8 311.8h0M399.7 342.1h0M408.5 291.2h0M399.6 285.9h0M407.3 279.3h0M432.7 304.2h0M419.5 302.2h0M434.8 327.2h0M398.0 303.9h0M427.0 310.0h0M398.4 332.5h0M412.4 281.7h0M438.9 311.5h0M385.9 334.4h0M404.9 281.6h0M400.3 333.1h0M383.5 332.6h0M396.2 322.7h0M433.9 308.9h0M417.4 328.2h0M383.8 321.4h0M421.7 337.0h0M398.8 342.1h0M434.4 309.1h0M424.2 326.5h0M426.1 328.3h0M392.0 326.9h0M403.3 280.3h0M442.7 312.1h0M446.4 313.9h0M378.7 310.5h0M385.0 331.4h0M386.5 303.1h0M407.6 317.4h0M383.8 328.3h0M409.6 310.3h0M393.1 323.3h0M418.6 285.3h0M420.5 334.1h0M424.5 311.8h0M396.3 316.3h0M455.5 315.1h0M388.1 338.5h0M425.5 305.2h0M416.0 289.4h0M428.8 300.3h0M392.0 333.4h0M383.4 334.2h0M436.7 325.2h0M433.1 319.0h0M384.5 333.8h0M390.2 319.3h0M437.0 313.3h0M427.8 310.8h0M382.9 331.9h0M378.6 306.6h0M434.2 317.9h0M387.0 340.0h0M386.5 325.5h0M389.3 328.3h0M395.0 335.6h0M419.8 309.0h0M391.8 322.3h0M452.0 308.3h0M380.5 292.2h0M456.3 308.0h0M387.9 286.0h0M401.9 292.1h0M390.0 329.0h0M399.8 329.6h0M392.6 315.6h0M392.7 324.1h0M411.6 304.3h0M398.4 282.3h0M392.6 322.7h0M383.4 330.4h0M437.3 314.5h0M392.2 333.0h0M410.8 310.2h0M446.9 304.4h0M406.3 335.7h0M392.5 288.6h0M448.9 312.0h0M414.9 283.4h0M376.3 306.3h0M387.9 298.1h0M439.9 303.8h0M392.6 331.8h0M391.9 320.1h0M405.0 307.0h0M441.9 303.5h0M386.2 334.2h0M383.4 298.2h0M449.5 308.8h0M440.1 312.6h0M398.1 329.8h0M396.6 333.9h0M398.8 343.5h0M413.4 290.8h0M432.5 325.6h0M390.1 283.1h0M389.6 337.8h0M443.5 305.4h0M438.1 307.6h0M443.1 320.3h0M420.2 325.2h0M399.3 327.1h0M403.4 315.1h0M429.1 327.7h0M428.4 312.5h0M439.2 313.0h0M437.9 306.7h0M393.9 335.3h0M418.7 337.2h0M407.0 301.0h0M380.7 331.1h0M410.0 280.2h0M430.3 322.6h0M412.6 329.4h0M443.3 321.5h0M442.5 319.1h0M390.0 332.8h0M399.7 343.1h0M399.0 324.9h0M409.5 332.2h0M407.3 306.5h0M431.7 311.1h0M444.1 323.7h0M440.5 315.4h0M389.1 325.6h0M396.6 340.4h0M434.4 308.6h0M418.1 306.9h0M410.2 337.5h0M432.9 307.4h0M456.2 315.3h0M388.2 334.5h0M392.7 329.3h0M413.0 327.3h0M406.3 286.0h0M422.7 330.2h0M405.8 307.2h0M386.0 324.7h0M436.6 326.0h0M384.5 322.2h0M431.9 319.3h0M391.2 329.7h0M439.3 324.8h0M391.3 304.3h0M415.9 296.1h0M404.6 294.6h0M422.4 328.5h0M390.4 337.7h0M398.4 330.3h0M440.7 309.4h0M392.3 304.0h0M419.4 330.3h0M440.8 327.9h0M385.3 328.3h0M440.2 317.7h0M438.1 324.1h0M409.4 294.8h0M394.3 336.5h0M431.4 306.5h0M432.1 314.3h0M440.6 327.5h0M388.7 328.0h0M396.8 329.3h0M401.9 304.4h0M427.7 306.9h0M400.8 284.2h0M396.2 319.2h0M407.5 318.4h0M434.6 327.1h0M405.9 286.3h0M414.0 276.4h0M417.6 328.3h0M444.3 317.9h0M433.4 320.6h0M441.7 304.7h0M407.0 343.0h0M453.9 305.1h0M394.9 320.2h0M392.9 336.0h0M437.6 313.2h0M391.2 319.7h0M395.6 295.4h0M452.6 304.1h0M417.1 321.6h0M411.9 305.0h0M390.4 319.6h0M400.8 341.7h0M433.2 315.8h0M385.2 329.7h0M394.6 332.1h0M395.9 329.3h0M439.0 326.9h0M391.5 331.9h0M400.7 331.6h0M396.0 323.2h0M390.9 283.1h0M415.3 308.3h0M404.4 297.3h0M409.0 325.1h0M399.1 297.5h0M399.3 339.7h0M388.8 338.6h0M394.0 331.0h0M384.1 326.7h0M386.9 334.5h0M435.4 308.8h0M404.0 300.3h0M390.3 319.8h0M419.0 293.5h0M415.7 292.8h0M428.0 323.7h0M412.5 326.0h0M416.4 289.4h0M432.9 324.2h0M458.1 309.0h0M436.5 322.7h0M408.0 335.8h0M375.2 308.6h0M413.2 329.3h0M415.2 319.7h0M399.4 320.0h0M452.8 314.3h0M405.1 279.1h0M443.2 316.8h0M435.8 316.8h0M436.3 310.5h0M431.7 316.4h0M391.1 317.6h0M421.7 304.7h0M399.2 334.4h0M454.8 317.7h0M414.8 331.9h0M426.6 289.2h0M392.3 329.9h0M397.1 336.4h0M383.3 329.5h0M397.2 331.2h0M418.7 284.7h0M390.5 328.9h0M395.7 330.6h0M427.0 327.6h0M421.3 305.3h0M415.9 307.3h0M376.4 309.2h0M451.3 312.4h0M426.2 306.4h0M455.7 304.5h0M389.0 324.6h0M402.6 278.9h0M451.9 307.2h0M454.9 313.5h0M423.3 316.0h0M450.5 318.6h0M400.0 344.2h0M427.9 316.5h0M404.1 314.8h0M392.4 317.4h0M416.1 290.7h0M401.1 345.8h0M390.5 333.7h0M422.8 302.7h0M420.1 325.0h0M396.3 338.2h0M381.9 290.0h0M391.2 327.3h0M448.7 317.6h0M377.7 310.7h0M425.5 302.1h0M425.2 288.2h0M377.5 308.4h0M394.2 321.2h0M425.4 317.0h0M416.4 333.7h0M400.0 331.7h0M430.2 321.5h0M420.5 309.1h0M390.8 317.2h0M434.2 315.4h0M394.8 330.3h0M446.2 300.4h0M377.8 310.2h0M416.5 332.7h0M388.7 286.3h0M389.8 326.2h0M398.1 333.2h0M406.7 291.5h0M415.3 323.3h0M392.4 341.4h0M389.1 329.4h0M440.0 304.1h0M447.9 308.5h0M390.9 285.3h0M410.6 301.7h0M396.8 301.3h0M383.3 294.6h0M418.4 334.4h0M414.6 319.9h0M395.3 343.5h0M447.5 304.4h0M399.7 331.9h0M393.1 328.9h0M452.3 301.7h0M388.4 320.5h0M391.1 333.9h0M408.5 294.6h0M417.2 279.1h0M423.8 291.7h0M448.7 305.9h0M421.0 287.3h0M390.4 323.6h0M419.7 290.8h0M392.6 339.9h0M436.8 308.3h0M393.0 323.2h0M411.2 341.0h0M391.0 285.7h0M389.9 325.9h0M431.6 326.4h0M390.1 324.9h0M388.8 326.8h0M457.1 313.1h0M395.6 306.1h0M383.2 294.7h0M387.7 329.4h0M450.6 312.2h0M406.5 287.0h0M412.3 305.9h0M401.7 282.8h0M455.0 311.4h0M425.8 311.8h0M384.0 326.7h0M423.9 286.5h0M395.7 331.2h0M433.5 306.1h0M454.0 314.3h0M396.8 338.4h0M400.5 332.8h0M420.7 285.0h0M438.1 327.8h0M408.6 324.5h0M393.4 340.1h0M388.7 335.6h0M396.5 316.1h0M412.4 279.7h0M391.1 333.8h0M383.2 294.5h0M398.1 293.8h0M451.5 312.0h0M411.7 274.8h0M418.6 311.9h0M391.7 305.4h0M407.2 294.4h0M421.6 340.9h0M383.3 290.5h0M411.1 334.5h0M417.2 310.0h0M397.7 295.9h0M428.7 300.9h0M434.0 309.3h0M402.4 305.9h0M388.5 328.9h0M389.4 333.2h0M429.2 321.2h0M404.2 283.8h0M418.3 298.9h0M433.4 323.7h0M414.8 275.3h0M454.6 305.3h0M432.6 328.7h0M416.7 330.7h0M395.7 341.3h0M432.8 317.4h0M382.0 296.8h0M399.3 327.6h0M387.4 321.1h0M395.9 339.6h0M392.5 331.2h0M388.6 326.4h0M394.7 343.1h0M402.1 299.6h0M435.8 308.7h0" stroke="#3a86c4" stroke-width="1.2" stroke-linecap="round" fill="none" opacity="1.0"/>
<path d="M420.6 343.9h0M421.4 342.7h0M418.3 292.3h0M428.7 296.0h0M399.7 324.0h0M410.8 348.1h0M406.1 342.0h0M437.6 304.3h0M415.2 346.1h0M405.0 345.8h0M414.9 283.3h0M406.7 343.9h0M387.6 335.2h0M407.4 347.1h0M454.6 314.9h0M388.4 339.3h0M411.0 316.5h0M405.7 342.6h0M391.9 337.0h0M395.1 284.3h0M391.2 317.8h0M408.1 346.8h0M417.7 346.6h0M395.4 319.0h0M406.2 345.9h0M410.1 342.6h0M403.1 342.6h0M404.7 343.0h0M401.9 345.4h0M398.2 341.8h0M406.7 343.2h0M407.8 342.2h0M412.5 346.8h0M439.7 313.6h0M395.3 319.4h0M393.9 308.2h0M389.3 335.3h0M415.1 347.4h0M417.3 347.2h0M425.9 303.3h0M418.6 345.7h0M409.6 348.1h0M403.9 345.8h0M408.4 309.9h0M416.0 346.2h0M409.2 342.7h0M386.3 335.1h0M419.6 346.7h0M418.5 341.7h0M411.6 341.6h0M405.4 342.1h0M390.4 318.7h0M390.0 336.0h0M406.3 346.0h0M417.1 290.9h0M403.7 342.9h0M414.8 339.5h0M435.3 318.8h0M407.9 333.0h0M415.6 286.6h0M407.0 306.2h0M386.4 340.4h0M397.9 304.9h0M420.0 342.9h0M388.9 337.4h0M384.1 334.8h0M406.2 344.5h0M455.4 315.3h0M393.3 324.7h0M424.6 312.2h0M392.3 339.7h0M410.1 342.5h0M402.0 341.9h0M414.7 342.8h0M411.4 292.8h0M435.7 302.2h0M420.4 343.8h0M387.8 336.5h0M412.3 344.8h0M392.4 338.7h0M391.9 341.3h0M409.9 273.7h0M405.7 279.7h0M407.5 293.3h0M420.4 341.5h0M420.2 328.8h0M410.9 321.5h0M420.5 337.1h0M380.6 286.1h0M408.4 345.0h0M408.0 347.3h0M405.9 340.8h0M392.6 336.1h0M403.7 345.8h0M391.7 342.8h0M413.8 342.9h0M390.7 341.2h0M414.6 346.8h0M382.6 334.6h0M409.1 345.3h0M416.1 344.7h0M417.7 341.3h0M391.9 335.4h0M415.8 346.5h0M416.3 345.9h0M426.0 316.4h0M387.1 337.8h0M450.4 312.8h0M433.4 313.4h0M401.1 345.6h0M408.5 342.8h0M387.4 335.1h0M391.7 337.8h0M391.1 336.6h0M392.1 342.5h0M407.0 345.0h0M415.5 347.3h0M387.7 335.3h0M411.0 343.2h0M419.7 341.9h0M454.3 305.0h0M404.7 342.4h0M430.8 328.8h0M411.0 346.2h0M385.6 337.1h0M442.9 316.8h0M376.3 309.8h0M417.6 345.7h0M387.2 336.7h0M418.6 343.2h0M412.7 344.2h0M391.6 326.5h0M392.1 340.8h0M418.1 346.4h0M386.8 335.6h0M412.4 312.7h0M420.9 345.2h0M385.1 332.1h0M419.6 342.9h0M405.8 343.7h0M391.7 338.1h0M407.1 295.2h0M406.2 347.3h0M418.1 340.9h0M401.8 304.1h0M418.6 344.1h0M409.2 339.4h0M408.0 341.5h0M452.6 315.1h0M406.9 342.3h0M413.5 342.3h0M416.5 345.4h0M405.2 341.9h0M432.4 308.1h0M419.8 344.3h0M416.3 318.2h0M421.4 341.8h0M403.9 346.6h0M388.4 334.9h0" stroke="#b8202f" stroke-width="1.2" stroke-linecap="round" fill="none" opacity="1.0"/>
<circle cx="465.5" cy="301.5" r="1.5" fill="#e0e0e0"/>
<text x="469.8" y="304.2" font-size="7.6" text-anchor="start" fill="#000" >G1</text>
<circle cx="465.5" cy="309.7" r="1.5" fill="#3a86c4"/>
<text x="469.8" y="312.4" font-size="7.6" text-anchor="start" fill="#000" >S</text>
<circle cx="465.5" cy="317.9" r="1.5" fill="#b8202f"/>
<text x="469.8" y="320.6" font-size="7.6" text-anchor="start" fill="#000" >G2/M</text>
<text transform="translate(413 390.8) scale(0.82 1)" font-size="9.2" text-anchor="middle" fill="#111">t−SNE 1</text>
<path d="M0 0.5H520M0.5 0V398" stroke="#000" stroke-width="1"/>
<path d="M519.35 0V398M0 397.35H520" stroke="#000" stroke-width="1.3"/></svg>
</body></html>
